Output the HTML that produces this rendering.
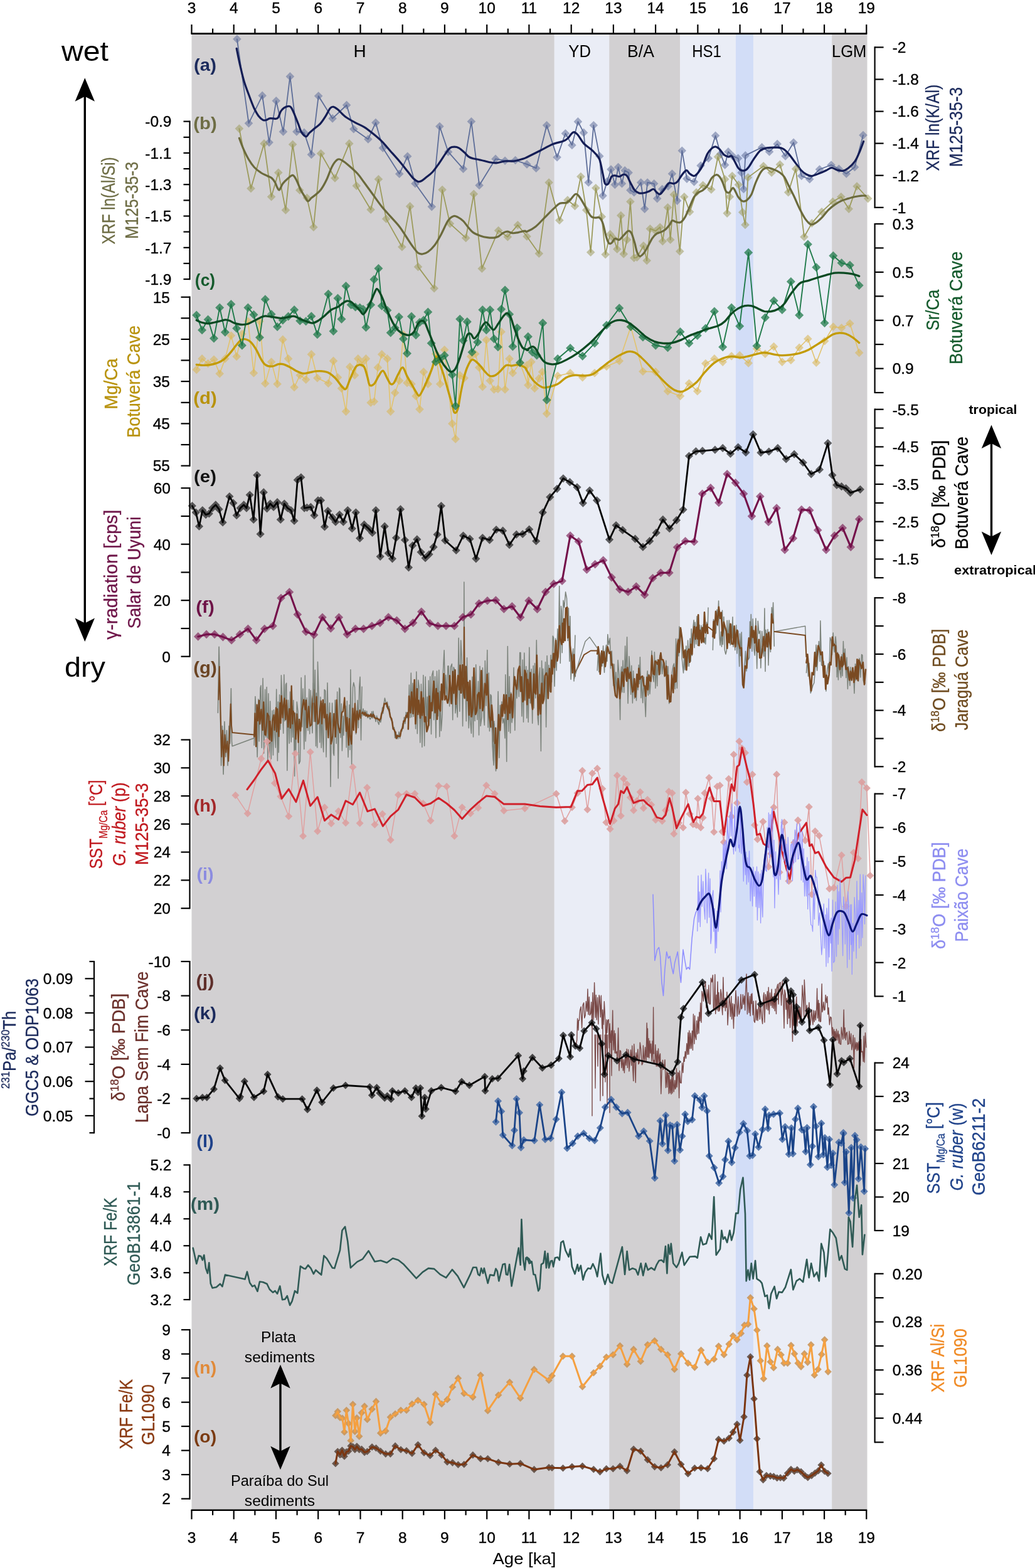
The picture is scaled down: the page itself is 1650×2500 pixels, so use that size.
<!DOCTYPE html>
<html><head><meta charset="utf-8"><title>Figure</title>
<style>
html,body{margin:0;padding:0;background:#fff;}
body{width:1650px;height:2500px;overflow:hidden;}
svg{display:block;font-family:"Liberation Sans", Arial, sans-serif;}
text{paint-order:stroke;}
.tk{stroke:#000;stroke-width:0.35px;}
</style></head>
<body>
<svg width="1650" height="2500" viewBox="0 0 1650 2500">
<rect width="1650" height="2500" fill="#fff"/>
<rect x="305.5" y="54.5" width="578.3" height="2352.5" fill="#d2d0d2"/>
<rect x="883.8" y="54.5" width="87.4" height="2352.5" fill="#eaedf6"/>
<rect x="971.2" y="54.5" width="113.0" height="2352.5" fill="#d2d0d2"/>
<rect x="1084.1" y="54.5" width="88.8" height="2352.5" fill="#eaedf6"/>
<rect x="1172.9" y="54.5" width="28.2" height="2352.5" fill="#d2ddf7"/>
<rect x="1201.1" y="54.5" width="125.1" height="2352.5" fill="#eaedf6"/>
<rect x="1326.2" y="54.5" width="56.3" height="2352.5" fill="#d2d0d2"/>
<line x1="304.5" y1="53.6" x2="1382.3" y2="53.6" stroke="#000" stroke-width="2.6"/><line x1="305.5" y1="53.6" x2="305.5" y2="39.1" stroke="#000" stroke-width="2.2"/><line x1="339.1" y1="53.6" x2="339.1" y2="45.6" stroke="#000" stroke-width="2.2"/><line x1="372.7" y1="53.6" x2="372.7" y2="39.1" stroke="#000" stroke-width="2.2"/><line x1="406.4" y1="53.6" x2="406.4" y2="45.6" stroke="#000" stroke-width="2.2"/><line x1="440.0" y1="53.6" x2="440.0" y2="39.1" stroke="#000" stroke-width="2.2"/><line x1="473.6" y1="53.6" x2="473.6" y2="45.6" stroke="#000" stroke-width="2.2"/><line x1="507.2" y1="53.6" x2="507.2" y2="39.1" stroke="#000" stroke-width="2.2"/><line x1="540.8" y1="53.6" x2="540.8" y2="45.6" stroke="#000" stroke-width="2.2"/><line x1="574.5" y1="53.6" x2="574.5" y2="39.1" stroke="#000" stroke-width="2.2"/><line x1="608.1" y1="53.6" x2="608.1" y2="45.6" stroke="#000" stroke-width="2.2"/><line x1="641.7" y1="53.6" x2="641.7" y2="39.1" stroke="#000" stroke-width="2.2"/><line x1="675.3" y1="53.6" x2="675.3" y2="45.6" stroke="#000" stroke-width="2.2"/><line x1="708.9" y1="53.6" x2="708.9" y2="39.1" stroke="#000" stroke-width="2.2"/><line x1="742.6" y1="53.6" x2="742.6" y2="45.6" stroke="#000" stroke-width="2.2"/><line x1="776.2" y1="53.6" x2="776.2" y2="39.1" stroke="#000" stroke-width="2.2"/><line x1="809.8" y1="53.6" x2="809.8" y2="45.6" stroke="#000" stroke-width="2.2"/><line x1="843.4" y1="53.6" x2="843.4" y2="39.1" stroke="#000" stroke-width="2.2"/><line x1="877.0" y1="53.6" x2="877.0" y2="45.6" stroke="#000" stroke-width="2.2"/><line x1="910.7" y1="53.6" x2="910.7" y2="39.1" stroke="#000" stroke-width="2.2"/><line x1="944.3" y1="53.6" x2="944.3" y2="45.6" stroke="#000" stroke-width="2.2"/><line x1="977.9" y1="53.6" x2="977.9" y2="39.1" stroke="#000" stroke-width="2.2"/><line x1="1011.5" y1="53.6" x2="1011.5" y2="45.6" stroke="#000" stroke-width="2.2"/><line x1="1045.1" y1="53.6" x2="1045.1" y2="39.1" stroke="#000" stroke-width="2.2"/><line x1="1078.8" y1="53.6" x2="1078.8" y2="45.6" stroke="#000" stroke-width="2.2"/><line x1="1112.4" y1="53.6" x2="1112.4" y2="39.1" stroke="#000" stroke-width="2.2"/><line x1="1146.0" y1="53.6" x2="1146.0" y2="45.6" stroke="#000" stroke-width="2.2"/><line x1="1179.6" y1="53.6" x2="1179.6" y2="39.1" stroke="#000" stroke-width="2.2"/><line x1="1213.2" y1="53.6" x2="1213.2" y2="45.6" stroke="#000" stroke-width="2.2"/><line x1="1246.9" y1="53.6" x2="1246.9" y2="39.1" stroke="#000" stroke-width="2.2"/><line x1="1280.5" y1="53.6" x2="1280.5" y2="45.6" stroke="#000" stroke-width="2.2"/><line x1="1314.1" y1="53.6" x2="1314.1" y2="39.1" stroke="#000" stroke-width="2.2"/><line x1="1347.7" y1="53.6" x2="1347.7" y2="45.6" stroke="#000" stroke-width="2.2"/><line x1="1381.3" y1="53.6" x2="1381.3" y2="39.1" stroke="#000" stroke-width="2.2"/>
<line x1="304.5" y1="2407.8" x2="1382.3" y2="2407.8" stroke="#000" stroke-width="2.6"/><line x1="305.5" y1="2407.8" x2="305.5" y2="2422.3" stroke="#000" stroke-width="2.2"/><line x1="339.1" y1="2407.8" x2="339.1" y2="2415.8" stroke="#000" stroke-width="2.2"/><line x1="372.7" y1="2407.8" x2="372.7" y2="2422.3" stroke="#000" stroke-width="2.2"/><line x1="406.4" y1="2407.8" x2="406.4" y2="2415.8" stroke="#000" stroke-width="2.2"/><line x1="440.0" y1="2407.8" x2="440.0" y2="2422.3" stroke="#000" stroke-width="2.2"/><line x1="473.6" y1="2407.8" x2="473.6" y2="2415.8" stroke="#000" stroke-width="2.2"/><line x1="507.2" y1="2407.8" x2="507.2" y2="2422.3" stroke="#000" stroke-width="2.2"/><line x1="540.8" y1="2407.8" x2="540.8" y2="2415.8" stroke="#000" stroke-width="2.2"/><line x1="574.5" y1="2407.8" x2="574.5" y2="2422.3" stroke="#000" stroke-width="2.2"/><line x1="608.1" y1="2407.8" x2="608.1" y2="2415.8" stroke="#000" stroke-width="2.2"/><line x1="641.7" y1="2407.8" x2="641.7" y2="2422.3" stroke="#000" stroke-width="2.2"/><line x1="675.3" y1="2407.8" x2="675.3" y2="2415.8" stroke="#000" stroke-width="2.2"/><line x1="708.9" y1="2407.8" x2="708.9" y2="2422.3" stroke="#000" stroke-width="2.2"/><line x1="742.6" y1="2407.8" x2="742.6" y2="2415.8" stroke="#000" stroke-width="2.2"/><line x1="776.2" y1="2407.8" x2="776.2" y2="2422.3" stroke="#000" stroke-width="2.2"/><line x1="809.8" y1="2407.8" x2="809.8" y2="2415.8" stroke="#000" stroke-width="2.2"/><line x1="843.4" y1="2407.8" x2="843.4" y2="2422.3" stroke="#000" stroke-width="2.2"/><line x1="877.0" y1="2407.8" x2="877.0" y2="2415.8" stroke="#000" stroke-width="2.2"/><line x1="910.7" y1="2407.8" x2="910.7" y2="2422.3" stroke="#000" stroke-width="2.2"/><line x1="944.3" y1="2407.8" x2="944.3" y2="2415.8" stroke="#000" stroke-width="2.2"/><line x1="977.9" y1="2407.8" x2="977.9" y2="2422.3" stroke="#000" stroke-width="2.2"/><line x1="1011.5" y1="2407.8" x2="1011.5" y2="2415.8" stroke="#000" stroke-width="2.2"/><line x1="1045.1" y1="2407.8" x2="1045.1" y2="2422.3" stroke="#000" stroke-width="2.2"/><line x1="1078.8" y1="2407.8" x2="1078.8" y2="2415.8" stroke="#000" stroke-width="2.2"/><line x1="1112.4" y1="2407.8" x2="1112.4" y2="2422.3" stroke="#000" stroke-width="2.2"/><line x1="1146.0" y1="2407.8" x2="1146.0" y2="2415.8" stroke="#000" stroke-width="2.2"/><line x1="1179.6" y1="2407.8" x2="1179.6" y2="2422.3" stroke="#000" stroke-width="2.2"/><line x1="1213.2" y1="2407.8" x2="1213.2" y2="2415.8" stroke="#000" stroke-width="2.2"/><line x1="1246.9" y1="2407.8" x2="1246.9" y2="2422.3" stroke="#000" stroke-width="2.2"/><line x1="1280.5" y1="2407.8" x2="1280.5" y2="2415.8" stroke="#000" stroke-width="2.2"/><line x1="1314.1" y1="2407.8" x2="1314.1" y2="2422.3" stroke="#000" stroke-width="2.2"/><line x1="1347.7" y1="2407.8" x2="1347.7" y2="2415.8" stroke="#000" stroke-width="2.2"/><line x1="1381.3" y1="2407.8" x2="1381.3" y2="2422.3" stroke="#000" stroke-width="2.2"/>
<text x="305.5" y="20.5" font-size="24.5" text-anchor="middle" class="tk">3</text>
<text x="305.5" y="2459.5" font-size="24.5" text-anchor="middle" class="tk">3</text>
<text x="372.7" y="20.5" font-size="24.5" text-anchor="middle" class="tk">4</text>
<text x="372.7" y="2459.5" font-size="24.5" text-anchor="middle" class="tk">4</text>
<text x="440.0" y="20.5" font-size="24.5" text-anchor="middle" class="tk">5</text>
<text x="440.0" y="2459.5" font-size="24.5" text-anchor="middle" class="tk">5</text>
<text x="507.2" y="20.5" font-size="24.5" text-anchor="middle" class="tk">6</text>
<text x="507.2" y="2459.5" font-size="24.5" text-anchor="middle" class="tk">6</text>
<text x="574.5" y="20.5" font-size="24.5" text-anchor="middle" class="tk">7</text>
<text x="574.5" y="2459.5" font-size="24.5" text-anchor="middle" class="tk">7</text>
<text x="641.7" y="20.5" font-size="24.5" text-anchor="middle" class="tk">8</text>
<text x="641.7" y="2459.5" font-size="24.5" text-anchor="middle" class="tk">8</text>
<text x="708.9" y="20.5" font-size="24.5" text-anchor="middle" class="tk">9</text>
<text x="708.9" y="2459.5" font-size="24.5" text-anchor="middle" class="tk">9</text>
<text x="776.2" y="20.5" font-size="24.5" text-anchor="middle" class="tk">10</text>
<text x="776.2" y="2459.5" font-size="24.5" text-anchor="middle" class="tk">10</text>
<text x="843.4" y="20.5" font-size="24.5" text-anchor="middle" class="tk">11</text>
<text x="843.4" y="2459.5" font-size="24.5" text-anchor="middle" class="tk">11</text>
<text x="910.7" y="20.5" font-size="24.5" text-anchor="middle" class="tk">12</text>
<text x="910.7" y="2459.5" font-size="24.5" text-anchor="middle" class="tk">12</text>
<text x="977.9" y="20.5" font-size="24.5" text-anchor="middle" class="tk">13</text>
<text x="977.9" y="2459.5" font-size="24.5" text-anchor="middle" class="tk">13</text>
<text x="1045.1" y="20.5" font-size="24.5" text-anchor="middle" class="tk">14</text>
<text x="1045.1" y="2459.5" font-size="24.5" text-anchor="middle" class="tk">14</text>
<text x="1112.4" y="20.5" font-size="24.5" text-anchor="middle" class="tk">15</text>
<text x="1112.4" y="2459.5" font-size="24.5" text-anchor="middle" class="tk">15</text>
<text x="1179.6" y="20.5" font-size="24.5" text-anchor="middle" class="tk">16</text>
<text x="1179.6" y="2459.5" font-size="24.5" text-anchor="middle" class="tk">16</text>
<text x="1246.9" y="20.5" font-size="24.5" text-anchor="middle" class="tk">17</text>
<text x="1246.9" y="2459.5" font-size="24.5" text-anchor="middle" class="tk">17</text>
<text x="1314.1" y="20.5" font-size="24.5" text-anchor="middle" class="tk">18</text>
<text x="1314.1" y="2459.5" font-size="24.5" text-anchor="middle" class="tk">18</text>
<text x="1381.3" y="20.5" font-size="24.5" text-anchor="middle" class="tk">19</text>
<text x="1381.3" y="2459.5" font-size="24.5" text-anchor="middle" class="tk">19</text>
<text x="836" y="2494" font-size="25" text-anchor="middle" textLength="101" lengthAdjust="spacingAndGlyphs">Age [ka]</text>
<text x="573.6" y="91" font-size="28" text-anchor="middle">H</text>
<text x="924.2" y="91" font-size="28" text-anchor="middle" textLength="35.7" lengthAdjust="spacingAndGlyphs">YD</text>
<text x="1021.5" y="91" font-size="28" text-anchor="middle" textLength="42.8" lengthAdjust="spacingAndGlyphs">B/A</text>
<text x="1126.5" y="91" font-size="28" text-anchor="middle" textLength="46.7" lengthAdjust="spacingAndGlyphs">HS1</text>
<text x="1353.7" y="91" font-size="28" text-anchor="middle" textLength="55.4" lengthAdjust="spacingAndGlyphs">LGM</text>
<line x1="302.5" y1="192.5" x2="302.5" y2="446.20000000000005" stroke="#000" stroke-width="2.2"/><line x1="302.5" y1="193.6" x2="292.5" y2="193.6" stroke="#000" stroke-width="2.2"/><text x="273.5" y="202.4" font-size="24.5" text-anchor="end" class="tk">-0.9</text><line x1="302.5" y1="218.8" x2="292.5" y2="218.8" stroke="#000" stroke-width="2.2"/><line x1="302.5" y1="243.9" x2="292.5" y2="243.9" stroke="#000" stroke-width="2.2"/><text x="273.5" y="252.7" font-size="24.5" text-anchor="end" class="tk">-1.1</text><line x1="302.5" y1="269.1" x2="292.5" y2="269.1" stroke="#000" stroke-width="2.2"/><line x1="302.5" y1="294.2" x2="292.5" y2="294.2" stroke="#000" stroke-width="2.2"/><text x="273.5" y="303.0" font-size="24.5" text-anchor="end" class="tk">-1.3</text><line x1="302.5" y1="319.4" x2="292.5" y2="319.4" stroke="#000" stroke-width="2.2"/><line x1="302.5" y1="344.5" x2="292.5" y2="344.5" stroke="#000" stroke-width="2.2"/><text x="273.5" y="353.3" font-size="24.5" text-anchor="end" class="tk">-1.5</text><line x1="302.5" y1="369.6" x2="292.5" y2="369.6" stroke="#000" stroke-width="2.2"/><line x1="302.5" y1="394.8" x2="292.5" y2="394.8" stroke="#000" stroke-width="2.2"/><text x="273.5" y="403.6" font-size="24.5" text-anchor="end" class="tk">-1.7</text><line x1="302.5" y1="420.0" x2="292.5" y2="420.0" stroke="#000" stroke-width="2.2"/><line x1="302.5" y1="445.1" x2="292.5" y2="445.1" stroke="#000" stroke-width="2.2"/><text x="273.5" y="453.9" font-size="24.5" text-anchor="end" class="tk">-1.9</text>
<line x1="302.5" y1="472.59999999999997" x2="302.5" y2="743.7" stroke="#000" stroke-width="2.2"/><line x1="302.5" y1="473.7" x2="288.5" y2="473.7" stroke="#000" stroke-width="2.2"/><text x="271" y="482.5" font-size="24.5" text-anchor="end" class="tk">15</text><line x1="302.5" y1="507.3" x2="288.5" y2="507.3" stroke="#000" stroke-width="2.2"/><line x1="302.5" y1="540.9" x2="288.5" y2="540.9" stroke="#000" stroke-width="2.2"/><text x="271" y="549.7" font-size="24.5" text-anchor="end" class="tk">25</text><line x1="302.5" y1="574.5" x2="288.5" y2="574.5" stroke="#000" stroke-width="2.2"/><line x1="302.5" y1="608.1" x2="288.5" y2="608.1" stroke="#000" stroke-width="2.2"/><text x="271" y="616.9" font-size="24.5" text-anchor="end" class="tk">35</text><line x1="302.5" y1="641.8" x2="288.5" y2="641.8" stroke="#000" stroke-width="2.2"/><line x1="302.5" y1="675.4" x2="288.5" y2="675.4" stroke="#000" stroke-width="2.2"/><text x="271" y="684.2" font-size="24.5" text-anchor="end" class="tk">45</text><line x1="302.5" y1="709.0" x2="288.5" y2="709.0" stroke="#000" stroke-width="2.2"/><line x1="302.5" y1="742.6" x2="288.5" y2="742.6" stroke="#000" stroke-width="2.2"/><text x="271" y="751.4" font-size="24.5" text-anchor="end" class="tk">55</text>
<line x1="302.5" y1="777.1" x2="302.5" y2="1047.8" stroke="#000" stroke-width="2.2"/><line x1="302.5" y1="778.2" x2="288.5" y2="778.2" stroke="#000" stroke-width="2.2"/><text x="272" y="787.0" font-size="24.5" text-anchor="end" class="tk">60</text><line x1="302.5" y1="823.0" x2="288.5" y2="823.0" stroke="#000" stroke-width="2.2"/><line x1="302.5" y1="867.7" x2="288.5" y2="867.7" stroke="#000" stroke-width="2.2"/><text x="272" y="876.5" font-size="24.5" text-anchor="end" class="tk">40</text><line x1="302.5" y1="912.5" x2="288.5" y2="912.5" stroke="#000" stroke-width="2.2"/><line x1="302.5" y1="957.2" x2="288.5" y2="957.2" stroke="#000" stroke-width="2.2"/><text x="272" y="966.0" font-size="24.5" text-anchor="end" class="tk">20</text><line x1="302.5" y1="1002.0" x2="288.5" y2="1002.0" stroke="#000" stroke-width="2.2"/><line x1="302.5" y1="1046.7" x2="288.5" y2="1046.7" stroke="#000" stroke-width="2.2"/><text x="272" y="1055.5" font-size="24.5" text-anchor="end" class="tk">0</text>
<line x1="302.5" y1="1178.4" x2="302.5" y2="1449.3" stroke="#000" stroke-width="2.2"/><line x1="302.5" y1="1179.5" x2="288.5" y2="1179.5" stroke="#000" stroke-width="2.2"/><text x="272" y="1188.3" font-size="24.5" text-anchor="end" class="tk">32</text><line x1="302.5" y1="1224.3" x2="288.5" y2="1224.3" stroke="#000" stroke-width="2.2"/><text x="272" y="1233.1" font-size="24.5" text-anchor="end" class="tk">30</text><line x1="302.5" y1="1269.1" x2="288.5" y2="1269.1" stroke="#000" stroke-width="2.2"/><text x="272" y="1277.9" font-size="24.5" text-anchor="end" class="tk">28</text><line x1="302.5" y1="1313.8" x2="288.5" y2="1313.8" stroke="#000" stroke-width="2.2"/><text x="272" y="1322.6" font-size="24.5" text-anchor="end" class="tk">26</text><line x1="302.5" y1="1358.6" x2="288.5" y2="1358.6" stroke="#000" stroke-width="2.2"/><text x="272" y="1367.4" font-size="24.5" text-anchor="end" class="tk">24</text><line x1="302.5" y1="1403.4" x2="288.5" y2="1403.4" stroke="#000" stroke-width="2.2"/><text x="272" y="1412.2" font-size="24.5" text-anchor="end" class="tk">22</text><line x1="302.5" y1="1448.2" x2="288.5" y2="1448.2" stroke="#000" stroke-width="2.2"/><text x="272" y="1457.0" font-size="24.5" text-anchor="end" class="tk">20</text>
<line x1="302.5" y1="1531.9" x2="302.5" y2="1807.3" stroke="#000" stroke-width="2.2"/><line x1="302.5" y1="1533.0" x2="288.5" y2="1533.0" stroke="#000" stroke-width="2.2"/><text x="272" y="1541.8" font-size="24.5" text-anchor="end" class="tk">-10</text><line x1="302.5" y1="1587.6" x2="288.5" y2="1587.6" stroke="#000" stroke-width="2.2"/><text x="272" y="1596.4" font-size="24.5" text-anchor="end" class="tk">-8</text><line x1="302.5" y1="1642.3" x2="288.5" y2="1642.3" stroke="#000" stroke-width="2.2"/><text x="272" y="1651.1" font-size="24.5" text-anchor="end" class="tk">-6</text><line x1="302.5" y1="1696.9" x2="288.5" y2="1696.9" stroke="#000" stroke-width="2.2"/><text x="272" y="1705.7" font-size="24.5" text-anchor="end" class="tk">-4</text><line x1="302.5" y1="1751.6" x2="288.5" y2="1751.6" stroke="#000" stroke-width="2.2"/><text x="272" y="1760.4" font-size="24.5" text-anchor="end" class="tk">-2</text><line x1="302.5" y1="1806.2" x2="288.5" y2="1806.2" stroke="#000" stroke-width="2.2"/><text x="272" y="1815.0" font-size="24.5" text-anchor="end" class="tk">-0</text>
<line x1="150" y1="1531.9" x2="150" y2="1807.3" stroke="#000" stroke-width="2.2"/><line x1="150" y1="1533.0" x2="142.5" y2="1533.0" stroke="#000" stroke-width="2.2"/><line x1="150" y1="1560.3" x2="135.5" y2="1560.3" stroke="#000" stroke-width="2.2"/><text x="116.5" y="1569.1" font-size="24.5" text-anchor="end" class="tk">0.09</text><line x1="150" y1="1587.6" x2="142.5" y2="1587.6" stroke="#000" stroke-width="2.2"/><line x1="150" y1="1615.0" x2="135.5" y2="1615.0" stroke="#000" stroke-width="2.2"/><text x="116.5" y="1623.8" font-size="24.5" text-anchor="end" class="tk">0.08</text><line x1="150" y1="1642.3" x2="142.5" y2="1642.3" stroke="#000" stroke-width="2.2"/><line x1="150" y1="1669.6" x2="135.5" y2="1669.6" stroke="#000" stroke-width="2.2"/><text x="116.5" y="1678.4" font-size="24.5" text-anchor="end" class="tk">0.07</text><line x1="150" y1="1696.9" x2="142.5" y2="1696.9" stroke="#000" stroke-width="2.2"/><line x1="150" y1="1724.2" x2="135.5" y2="1724.2" stroke="#000" stroke-width="2.2"/><text x="116.5" y="1733.0" font-size="24.5" text-anchor="end" class="tk">0.06</text><line x1="150" y1="1751.6" x2="142.5" y2="1751.6" stroke="#000" stroke-width="2.2"/><line x1="150" y1="1778.9" x2="135.5" y2="1778.9" stroke="#000" stroke-width="2.2"/><text x="116.5" y="1787.7" font-size="24.5" text-anchor="end" class="tk">0.05</text><line x1="150" y1="1806.2" x2="142.5" y2="1806.2" stroke="#000" stroke-width="2.2"/>
<line x1="302.5" y1="1856.3000000000002" x2="302.5" y2="2073.2" stroke="#000" stroke-width="2.2"/><line x1="302.5" y1="1857.4" x2="292.5" y2="1857.4" stroke="#000" stroke-width="2.2"/><text x="273.5" y="1866.2" font-size="24.5" text-anchor="end" class="tk">5.2</text><line x1="302.5" y1="1900.3" x2="292.5" y2="1900.3" stroke="#000" stroke-width="2.2"/><text x="273.5" y="1909.1" font-size="24.5" text-anchor="end" class="tk">4.8</text><line x1="302.5" y1="1943.3" x2="292.5" y2="1943.3" stroke="#000" stroke-width="2.2"/><text x="273.5" y="1952.1" font-size="24.5" text-anchor="end" class="tk">4.4</text><line x1="302.5" y1="1986.2" x2="292.5" y2="1986.2" stroke="#000" stroke-width="2.2"/><text x="273.5" y="1995.0" font-size="24.5" text-anchor="end" class="tk">4.0</text><line x1="302.5" y1="2029.2" x2="292.5" y2="2029.2" stroke="#000" stroke-width="2.2"/><text x="273.5" y="2038.0" font-size="24.5" text-anchor="end" class="tk">3.6</text><line x1="302.5" y1="2072.1" x2="292.5" y2="2072.1" stroke="#000" stroke-width="2.2"/><text x="273.5" y="2080.9" font-size="24.5" text-anchor="end" class="tk">3.2</text>
<line x1="302.5" y1="2119.1" x2="302.5" y2="2390.7" stroke="#000" stroke-width="2.2"/><line x1="302.5" y1="2120.2" x2="289.0" y2="2120.2" stroke="#000" stroke-width="2.2"/><text x="272" y="2129.0" font-size="24.5" text-anchor="end" class="tk">9</text><line x1="302.5" y1="2158.7" x2="289.0" y2="2158.7" stroke="#000" stroke-width="2.2"/><text x="272" y="2167.5" font-size="24.5" text-anchor="end" class="tk">8</text><line x1="302.5" y1="2197.2" x2="289.0" y2="2197.2" stroke="#000" stroke-width="2.2"/><text x="272" y="2206.0" font-size="24.5" text-anchor="end" class="tk">7</text><line x1="302.5" y1="2235.7" x2="289.0" y2="2235.7" stroke="#000" stroke-width="2.2"/><text x="272" y="2244.5" font-size="24.5" text-anchor="end" class="tk">6</text><line x1="302.5" y1="2274.1" x2="289.0" y2="2274.1" stroke="#000" stroke-width="2.2"/><text x="272" y="2282.9" font-size="24.5" text-anchor="end" class="tk">5</text><line x1="302.5" y1="2312.6" x2="289.0" y2="2312.6" stroke="#000" stroke-width="2.2"/><text x="272" y="2321.4" font-size="24.5" text-anchor="end" class="tk">4</text><line x1="302.5" y1="2351.1" x2="289.0" y2="2351.1" stroke="#000" stroke-width="2.2"/><text x="272" y="2359.9" font-size="24.5" text-anchor="end" class="tk">3</text><line x1="302.5" y1="2389.6" x2="289.0" y2="2389.6" stroke="#000" stroke-width="2.2"/><text x="272" y="2398.4" font-size="24.5" text-anchor="end" class="tk">2</text>
<line x1="1394.6" y1="74.30000000000001" x2="1394.6" y2="331.90000000000003" stroke="#000" stroke-width="2.2"/><line x1="1394.6" y1="75.4" x2="1408.6" y2="75.4" stroke="#000" stroke-width="2.2"/><text x="1422.7" y="84.2" font-size="24.5" class="tk">-2</text><line x1="1394.6" y1="126.5" x2="1408.6" y2="126.5" stroke="#000" stroke-width="2.2"/><text x="1422.7" y="135.3" font-size="24.5" class="tk">-1.8</text><line x1="1394.6" y1="177.6" x2="1408.6" y2="177.6" stroke="#000" stroke-width="2.2"/><text x="1422.7" y="186.4" font-size="24.5" class="tk">-1.6</text><line x1="1394.6" y1="228.6" x2="1408.6" y2="228.6" stroke="#000" stroke-width="2.2"/><text x="1422.7" y="237.4" font-size="24.5" class="tk">-1.4</text><line x1="1394.6" y1="279.7" x2="1408.6" y2="279.7" stroke="#000" stroke-width="2.2"/><text x="1422.7" y="288.5" font-size="24.5" class="tk">-1.2</text><line x1="1394.6" y1="330.8" x2="1408.6" y2="330.8" stroke="#000" stroke-width="2.2"/><text x="1422.7" y="339.6" font-size="24.5" class="tk">-1</text>
<line x1="1394.6" y1="355.9" x2="1394.6" y2="627.1" stroke="#000" stroke-width="2.2"/><line x1="1394.6" y1="357.0" x2="1408.6" y2="357.0" stroke="#000" stroke-width="2.2"/><text x="1422.7" y="365.8" font-size="24.5" class="tk">0.3</text><line x1="1394.6" y1="395.4" x2="1408.6" y2="395.4" stroke="#000" stroke-width="2.2"/><line x1="1394.6" y1="433.9" x2="1408.6" y2="433.9" stroke="#000" stroke-width="2.2"/><text x="1422.7" y="442.7" font-size="24.5" class="tk">0.5</text><line x1="1394.6" y1="472.3" x2="1408.6" y2="472.3" stroke="#000" stroke-width="2.2"/><line x1="1394.6" y1="510.7" x2="1408.6" y2="510.7" stroke="#000" stroke-width="2.2"/><text x="1422.7" y="519.5" font-size="24.5" class="tk">0.7</text><line x1="1394.6" y1="549.1" x2="1408.6" y2="549.1" stroke="#000" stroke-width="2.2"/><line x1="1394.6" y1="587.6" x2="1408.6" y2="587.6" stroke="#000" stroke-width="2.2"/><text x="1422.7" y="596.4" font-size="24.5" class="tk">0.9</text><line x1="1394.6" y1="626.0" x2="1408.6" y2="626.0" stroke="#000" stroke-width="2.2"/>
<line x1="1394.6" y1="651.6" x2="1394.6" y2="922.3000000000001" stroke="#000" stroke-width="2.2"/><line x1="1394.6" y1="652.7" x2="1408.6" y2="652.7" stroke="#000" stroke-width="2.2"/><text x="1422.7" y="661.5" font-size="24.5" class="tk">-5.5</text><line x1="1394.6" y1="682.5" x2="1408.6" y2="682.5" stroke="#000" stroke-width="2.2"/><line x1="1394.6" y1="712.4" x2="1408.6" y2="712.4" stroke="#000" stroke-width="2.2"/><text x="1422.7" y="721.2" font-size="24.5" class="tk">-4.5</text><line x1="1394.6" y1="742.2" x2="1408.6" y2="742.2" stroke="#000" stroke-width="2.2"/><line x1="1394.6" y1="772.0" x2="1408.6" y2="772.0" stroke="#000" stroke-width="2.2"/><text x="1422.7" y="780.8" font-size="24.5" class="tk">-3.5</text><line x1="1394.6" y1="801.9" x2="1408.6" y2="801.9" stroke="#000" stroke-width="2.2"/><line x1="1394.6" y1="831.7" x2="1408.6" y2="831.7" stroke="#000" stroke-width="2.2"/><text x="1422.7" y="840.5" font-size="24.5" class="tk">-2.5</text><line x1="1394.6" y1="861.5" x2="1408.6" y2="861.5" stroke="#000" stroke-width="2.2"/><line x1="1394.6" y1="891.4" x2="1408.6" y2="891.4" stroke="#000" stroke-width="2.2"/><text x="1422.7" y="900.2" font-size="24.5" class="tk">-1.5</text><line x1="1394.6" y1="921.2" x2="1408.6" y2="921.2" stroke="#000" stroke-width="2.2"/>
<line x1="1394.6" y1="952.1" x2="1394.6" y2="1223.3999999999999" stroke="#000" stroke-width="2.2"/><line x1="1394.6" y1="953.2" x2="1408.6" y2="953.2" stroke="#000" stroke-width="2.2"/><text x="1422.7" y="962.0" font-size="24.5" class="tk">-8</text><line x1="1394.6" y1="998.1" x2="1408.6" y2="998.1" stroke="#000" stroke-width="2.2"/><line x1="1394.6" y1="1042.9" x2="1408.6" y2="1042.9" stroke="#000" stroke-width="2.2"/><text x="1422.7" y="1051.7" font-size="24.5" class="tk">-6</text><line x1="1394.6" y1="1087.8" x2="1408.6" y2="1087.8" stroke="#000" stroke-width="2.2"/><line x1="1394.6" y1="1132.6" x2="1408.6" y2="1132.6" stroke="#000" stroke-width="2.2"/><text x="1422.7" y="1141.4" font-size="24.5" class="tk">-4</text><line x1="1394.6" y1="1177.5" x2="1408.6" y2="1177.5" stroke="#000" stroke-width="2.2"/><line x1="1394.6" y1="1222.3" x2="1408.6" y2="1222.3" stroke="#000" stroke-width="2.2"/><text x="1422.7" y="1231.1" font-size="24.5" class="tk">-2</text>
<line x1="1394.6" y1="1264.5" x2="1394.6" y2="1589.6" stroke="#000" stroke-width="2.2"/><line x1="1394.6" y1="1265.6" x2="1408.6" y2="1265.6" stroke="#000" stroke-width="2.2"/><text x="1422.7" y="1274.4" font-size="24.5" class="tk">-7</text><line x1="1394.6" y1="1319.4" x2="1408.6" y2="1319.4" stroke="#000" stroke-width="2.2"/><text x="1422.7" y="1328.2" font-size="24.5" class="tk">-6</text><line x1="1394.6" y1="1373.2" x2="1408.6" y2="1373.2" stroke="#000" stroke-width="2.2"/><text x="1422.7" y="1382.0" font-size="24.5" class="tk">-5</text><line x1="1394.6" y1="1427.0" x2="1408.6" y2="1427.0" stroke="#000" stroke-width="2.2"/><text x="1422.7" y="1435.8" font-size="24.5" class="tk">-4</text><line x1="1394.6" y1="1480.9" x2="1408.6" y2="1480.9" stroke="#000" stroke-width="2.2"/><text x="1422.7" y="1489.7" font-size="24.5" class="tk">-3</text><line x1="1394.6" y1="1534.7" x2="1408.6" y2="1534.7" stroke="#000" stroke-width="2.2"/><text x="1422.7" y="1543.5" font-size="24.5" class="tk">-2</text><line x1="1394.6" y1="1588.5" x2="1408.6" y2="1588.5" stroke="#000" stroke-width="2.2"/><text x="1422.7" y="1597.3" font-size="24.5" class="tk">-1</text>
<line x1="1394.6" y1="1693.5" x2="1394.6" y2="1963.1" stroke="#000" stroke-width="2.2"/><line x1="1394.6" y1="1694.6" x2="1408.6" y2="1694.6" stroke="#000" stroke-width="2.2"/><text x="1422.7" y="1703.4" font-size="24.5" class="tk">24</text><line x1="1394.6" y1="1748.1" x2="1408.6" y2="1748.1" stroke="#000" stroke-width="2.2"/><text x="1422.7" y="1756.9" font-size="24.5" class="tk">23</text><line x1="1394.6" y1="1801.6" x2="1408.6" y2="1801.6" stroke="#000" stroke-width="2.2"/><text x="1422.7" y="1810.4" font-size="24.5" class="tk">22</text><line x1="1394.6" y1="1855.0" x2="1408.6" y2="1855.0" stroke="#000" stroke-width="2.2"/><text x="1422.7" y="1863.8" font-size="24.5" class="tk">21</text><line x1="1394.6" y1="1908.5" x2="1408.6" y2="1908.5" stroke="#000" stroke-width="2.2"/><text x="1422.7" y="1917.3" font-size="24.5" class="tk">20</text><line x1="1394.6" y1="1962.0" x2="1408.6" y2="1962.0" stroke="#000" stroke-width="2.2"/><text x="1422.7" y="1970.8" font-size="24.5" class="tk">19</text>
<line x1="1394.6" y1="2029.7" x2="1394.6" y2="2300.6" stroke="#000" stroke-width="2.2"/><line x1="1394.6" y1="2030.8" x2="1408.6" y2="2030.8" stroke="#000" stroke-width="2.2"/><text x="1422.7" y="2039.6" font-size="24.5" class="tk">0.20</text><line x1="1394.6" y1="2069.2" x2="1408.6" y2="2069.2" stroke="#000" stroke-width="2.2"/><line x1="1394.6" y1="2107.6" x2="1408.6" y2="2107.6" stroke="#000" stroke-width="2.2"/><text x="1422.7" y="2116.4" font-size="24.5" class="tk">0.28</text><line x1="1394.6" y1="2146.0" x2="1408.6" y2="2146.0" stroke="#000" stroke-width="2.2"/><line x1="1394.6" y1="2184.3" x2="1408.6" y2="2184.3" stroke="#000" stroke-width="2.2"/><text x="1422.7" y="2193.1" font-size="24.5" class="tk">0.36</text><line x1="1394.6" y1="2222.7" x2="1408.6" y2="2222.7" stroke="#000" stroke-width="2.2"/><line x1="1394.6" y1="2261.1" x2="1408.6" y2="2261.1" stroke="#000" stroke-width="2.2"/><text x="1422.7" y="2269.9" font-size="24.5" class="tk">0.44</text><line x1="1394.6" y1="2299.5" x2="1408.6" y2="2299.5" stroke="#000" stroke-width="2.2"/>
<text transform="translate(183,320) rotate(-90)" text-anchor="middle" font-size="29" fill="#6e6d45" stroke="#6e6d45" stroke-width="0.3" textLength="139" lengthAdjust="spacingAndGlyphs">XRF ln(Al/Si)</text>
<text transform="translate(220,319.4) rotate(-90)" text-anchor="middle" font-size="29" fill="#6e6d45" stroke="#6e6d45" stroke-width="0.3" textLength="123" lengthAdjust="spacingAndGlyphs">M125-35-3</text>
<text transform="translate(187,612) rotate(-90)" text-anchor="middle" font-size="29" fill="#b8920c" stroke="#b8920c" stroke-width="0.3" textLength="81" lengthAdjust="spacingAndGlyphs">Mg/Ca</text>
<text transform="translate(223,608.4) rotate(-90)" text-anchor="middle" font-size="29" fill="#b8920c" stroke="#b8920c" stroke-width="0.3" textLength="179" lengthAdjust="spacingAndGlyphs">Botuverá Cave</text>
<text transform="translate(187,916.2) rotate(-90)" text-anchor="middle" font-size="29" fill="#6e1448" stroke="#6e1448" stroke-width="0.3" textLength="207" lengthAdjust="spacingAndGlyphs">γ-radiation [cps]</text>
<text transform="translate(223.7,913) rotate(-90)" text-anchor="middle" font-size="29" fill="#6e1448" stroke="#6e1448" stroke-width="0.3" textLength="178.4" lengthAdjust="spacingAndGlyphs">Salar de Uyuni</text>
<text transform="translate(162.8,1314.3) rotate(-90)" text-anchor="middle" font-size="29" fill="#c0181e" stroke="#c0181e" stroke-width="0.3" textLength="142" lengthAdjust="spacingAndGlyphs">SST<tspan font-size="18" dy="8">Mg/Ca</tspan><tspan dy="-8"> [°C]</tspan></text>
<text transform="translate(199.7,1314) rotate(-90)" text-anchor="middle" font-size="29" fill="#c0181e" stroke="#c0181e" stroke-width="0.3" textLength="133.3" lengthAdjust="spacingAndGlyphs"><tspan font-style="italic">G. ruber</tspan> (p)</text>
<text transform="translate(236,1313.8) rotate(-90)" text-anchor="middle" font-size="29" fill="#c0181e" stroke="#c0181e" stroke-width="0.3" textLength="130.8" lengthAdjust="spacingAndGlyphs">M125-35-3</text>
<text transform="translate(24.7,1673.9) rotate(-90)" text-anchor="middle" font-size="29" fill="#1b2a5c" stroke="#1b2a5c" stroke-width="0.3" textLength="124.3" lengthAdjust="spacingAndGlyphs"><tspan font-size="19" dy="-10">231</tspan><tspan dy="10">Pa/</tspan><tspan font-size="19" dy="-10">230</tspan><tspan dy="10">Th</tspan></text>
<text transform="translate(61.4,1669.9) rotate(-90)" text-anchor="middle" font-size="29" fill="#1b2a5c" stroke="#1b2a5c" stroke-width="0.3" textLength="220" lengthAdjust="spacingAndGlyphs">GGC5 &amp; ODP1063</text>
<text transform="translate(199.3,1669.9) rotate(-90)" text-anchor="middle" font-size="29" fill="#6b2f2a" stroke="#6b2f2a" stroke-width="0.3" textLength="172.2" lengthAdjust="spacingAndGlyphs">δ<tspan font-size="19" dy="-10">18</tspan><tspan dy="10">O [‰ PDB]</tspan></text>
<text transform="translate(236,1669.5) rotate(-90)" text-anchor="middle" font-size="29" fill="#6b2f2a" stroke="#6b2f2a" stroke-width="0.3" textLength="241.5" lengthAdjust="spacingAndGlyphs">Lapa Sem Fim Cave</text>
<text transform="translate(186.3,1964) rotate(-90)" text-anchor="middle" font-size="29" fill="#2f5a55" stroke="#2f5a55" stroke-width="0.3" textLength="109.5" lengthAdjust="spacingAndGlyphs">XRF Fe/K</text>
<text transform="translate(223,1966.7) rotate(-90)" text-anchor="middle" font-size="29" fill="#2f5a55" stroke="#2f5a55" stroke-width="0.3" textLength="165.4" lengthAdjust="spacingAndGlyphs">GeoB13861-1</text>
<text transform="translate(210.5,2254.7) rotate(-90)" text-anchor="middle" font-size="29" fill="#8a3a12" stroke="#8a3a12" stroke-width="0.3" textLength="111.5" lengthAdjust="spacingAndGlyphs">XRF Fe/K</text>
<text transform="translate(246,2255.5) rotate(-90)" text-anchor="middle" font-size="29" fill="#8a3a12" stroke="#8a3a12" stroke-width="0.3" textLength="97" lengthAdjust="spacingAndGlyphs">GL1090</text>
<text transform="translate(1496.8,203.6) rotate(-90)" text-anchor="middle" font-size="29" fill="#1b2a5c" stroke="#1b2a5c" stroke-width="0.3" textLength="137.8" lengthAdjust="spacingAndGlyphs">XRF ln(K/Al)</text>
<text transform="translate(1533.6,202.6) rotate(-90)" text-anchor="middle" font-size="29" fill="#1b2a5c" stroke="#1b2a5c" stroke-width="0.3" textLength="127.3" lengthAdjust="spacingAndGlyphs">M125-35-3</text>
<text transform="translate(1496.8,494.5) rotate(-90)" text-anchor="middle" font-size="29" fill="#145a2c" stroke="#145a2c" stroke-width="0.3" textLength="65.2" lengthAdjust="spacingAndGlyphs">Sr/Ca</text>
<text transform="translate(1533.6,490.9) rotate(-90)" text-anchor="middle" font-size="29" fill="#145a2c" stroke="#145a2c" stroke-width="0.3" textLength="180" lengthAdjust="spacingAndGlyphs">Botuverá Cave</text>
<text transform="translate(1506.7,787.8) rotate(-90)" text-anchor="middle" font-size="29" fill="#000" stroke="#000" stroke-width="0.3" textLength="171.8" lengthAdjust="spacingAndGlyphs">δ<tspan font-size="19" dy="-10">18</tspan><tspan dy="10">O [‰ PDB]</tspan></text>
<text transform="translate(1543.4,786) rotate(-90)" text-anchor="middle" font-size="29" fill="#000" stroke="#000" stroke-width="0.3" textLength="180" lengthAdjust="spacingAndGlyphs">Botuverá Cave</text>
<text transform="translate(1506.7,1084.7) rotate(-90)" text-anchor="middle" font-size="29" fill="#6e4a1e" stroke="#6e4a1e" stroke-width="0.3" textLength="164" lengthAdjust="spacingAndGlyphs">δ<tspan font-size="19" dy="-10">18</tspan><tspan dy="10">O [‰ PDB]</tspan></text>
<text transform="translate(1543.4,1084) rotate(-90)" text-anchor="middle" font-size="29" fill="#6e4a1e" stroke="#6e4a1e" stroke-width="0.3" textLength="160.5" lengthAdjust="spacingAndGlyphs">Jaraguá Cave</text>
<text transform="translate(1506.7,1427.9) rotate(-90)" text-anchor="middle" font-size="29" fill="#8c8cf0" stroke="#8c8cf0" stroke-width="0.3" textLength="170.6" lengthAdjust="spacingAndGlyphs">δ<tspan font-size="19" dy="-10">18</tspan><tspan dy="10">O [‰ PDB]</tspan></text>
<text transform="translate(1543.4,1427.3) rotate(-90)" text-anchor="middle" font-size="29" fill="#8c8cf0" stroke="#8c8cf0" stroke-width="0.3" textLength="149" lengthAdjust="spacingAndGlyphs">Paixão Cave</text>
<text transform="translate(1497.9,1830.3) rotate(-90)" text-anchor="middle" font-size="29" fill="#1f428a" stroke="#1f428a" stroke-width="0.3" textLength="146.5" lengthAdjust="spacingAndGlyphs">SST<tspan font-size="18" dy="8">Mg/Ca</tspan><tspan dy="-8"> [°C]</tspan></text>
<text transform="translate(1534.5,1828.4) rotate(-90)" text-anchor="middle" font-size="29" fill="#1f428a" stroke="#1f428a" stroke-width="0.3" textLength="140" lengthAdjust="spacingAndGlyphs"><tspan font-style="italic">G. ruber</tspan> (w)</text>
<text transform="translate(1570,1828.4) rotate(-90)" text-anchor="middle" font-size="29" fill="#1f428a" stroke="#1f428a" stroke-width="0.3" textLength="155" lengthAdjust="spacingAndGlyphs">GeoB6211-2</text>
<text transform="translate(1504.6,2165.4) rotate(-90)" text-anchor="middle" font-size="29" fill="#f08a24" stroke="#f08a24" stroke-width="0.3" textLength="109.4" lengthAdjust="spacingAndGlyphs">XRF Al/Si</text>
<text transform="translate(1541.4,2165.4) rotate(-90)" text-anchor="middle" font-size="29" fill="#f08a24" stroke="#f08a24" stroke-width="0.3" textLength="94" lengthAdjust="spacingAndGlyphs">GL1090</text>
<text x="327" y="113.4" font-size="27.5" font-weight="bold" text-anchor="middle" fill="#1b2a5c" textLength="35.8" lengthAdjust="spacingAndGlyphs">(a)</text>
<text x="327" y="206.3" font-size="27.5" font-weight="bold" text-anchor="middle" fill="#6e6d45" textLength="37.5" lengthAdjust="spacingAndGlyphs">(b)</text>
<text x="327" y="456.3" font-size="27.5" font-weight="bold" text-anchor="middle" fill="#145a2c" textLength="32.3" lengthAdjust="spacingAndGlyphs">(c)</text>
<text x="327" y="644.1" font-size="27.5" font-weight="bold" text-anchor="middle" fill="#b8920c" textLength="37.5" lengthAdjust="spacingAndGlyphs">(d)</text>
<text x="327" y="769.1" font-size="27.5" font-weight="bold" text-anchor="middle" fill="#111" textLength="35.8" lengthAdjust="spacingAndGlyphs">(e)</text>
<text x="327" y="977.4" font-size="27.5" font-weight="bold" text-anchor="middle" fill="#6e1448" textLength="29.5" lengthAdjust="spacingAndGlyphs">(f)</text>
<text x="327" y="1073.9" font-size="27.5" font-weight="bold" text-anchor="middle" fill="#6b4423" textLength="37.5" lengthAdjust="spacingAndGlyphs">(g)</text>
<text x="327" y="1294.2" font-size="27.5" font-weight="bold" text-anchor="middle" fill="#a3282a" textLength="36.9" lengthAdjust="spacingAndGlyphs">(h)</text>
<text x="327" y="1403.0" font-size="27.5" font-weight="bold" text-anchor="middle" fill="#8c8ce0" textLength="27.1" lengthAdjust="spacingAndGlyphs">(i)</text>
<text x="327" y="1573.4" font-size="27.5" font-weight="bold" text-anchor="middle" fill="#5e2e2a" textLength="28.8" lengthAdjust="spacingAndGlyphs">(j)</text>
<text x="327" y="1625.2" font-size="27.5" font-weight="bold" text-anchor="middle" fill="#1b2a5c" textLength="35.8" lengthAdjust="spacingAndGlyphs">(k)</text>
<text x="327" y="1828.9" font-size="27.5" font-weight="bold" text-anchor="middle" fill="#1f428a" textLength="27.5" lengthAdjust="spacingAndGlyphs">(l)</text>
<text x="327" y="1928.5" font-size="27.5" font-weight="bold" text-anchor="middle" fill="#2f5a55" textLength="46.3" lengthAdjust="spacingAndGlyphs">(m)</text>
<text x="327" y="2189.5" font-size="27.5" font-weight="bold" text-anchor="middle" fill="#e08a3a" textLength="36.2" lengthAdjust="spacingAndGlyphs">(n)</text>
<text x="327" y="2299.5" font-size="27.5" font-weight="bold" text-anchor="middle" fill="#7a3a12" textLength="36.2" lengthAdjust="spacingAndGlyphs">(o)</text>
<line x1="135.3" y1="147.8" x2="135.3" y2="999.5" stroke="#000" stroke-width="3.4"/><path d="M135.3,124.2 L151.0,161.8 L135.3,153.8 L119.60000000000001,161.8 Z" fill="#000"/><path d="M135.3,1023.1 L151.0,985.5 L135.3,993.5 L119.60000000000001,985.5 Z" fill="#000"/>
<text x="135.5" y="97" font-size="44" text-anchor="middle" textLength="75" lengthAdjust="spacingAndGlyphs">wet</text>
<text x="135.5" y="1079" font-size="44" text-anchor="middle" textLength="65" lengthAdjust="spacingAndGlyphs">dry</text>
<line x1="1580.5" y1="701.0" x2="1580.5" y2="861.4" stroke="#000" stroke-width="3.4"/><path d="M1580.5,677.4 L1596.2,715.0 L1580.5,707.0 L1564.8,715.0 Z" fill="#000"/><path d="M1580.5,885 L1596.2,847.4 L1580.5,855.4 L1564.8,847.4 Z" fill="#000"/>
<text x="1583" y="660" font-size="20" font-weight="bold" text-anchor="middle" textLength="77" lengthAdjust="spacingAndGlyphs">tropical</text>
<text x="1521" y="915.5" font-size="20" font-weight="bold" textLength="131" lengthAdjust="spacingAndGlyphs">extratropical</text>
<line x1="447" y1="2199.4" x2="447" y2="2319.7000000000003" stroke="#000" stroke-width="3.4"/><path d="M447,2175.8 L462.7,2213.4 L447,2205.4 L431.3,2213.4 Z" fill="#000"/><path d="M447,2343.3 L462.7,2305.7000000000003 L447,2313.7000000000003 L431.3,2305.7000000000003 Z" fill="#000"/>
<text x="444" y="2140" font-size="24.5" text-anchor="middle">Plata</text>
<text x="446" y="2171.6" font-size="24.5" text-anchor="middle" textLength="112.4" lengthAdjust="spacingAndGlyphs">sediments</text>
<text x="446" y="2369.4" font-size="24.5" text-anchor="middle" textLength="156" lengthAdjust="spacingAndGlyphs">Paraíba do Sul</text>
<text x="446" y="2401" font-size="24.5" text-anchor="middle" textLength="112.4" lengthAdjust="spacingAndGlyphs">sediments</text>
<path d="M347.4,1136.4 L349.1,1031.2 L350.9,1115.4 L352.6,1220.6 L354.4,1157.5 L356.1,1234.6 L357.9,1150.5 L359.6,1206.6 L361.4,1164.5 L363.1,1220.6 L364.9,1157.5 L366.6,1185.5 L368.4,1097.8 L369.5,1182.0 L370.2,1189.7 L405.2,1176.8" fill="none" stroke="#7c837b" stroke-width="1.6" stroke-linejoin="round" stroke-linecap="round"/>
<path d="M405.2,1188.3 L406.9,1110.4 L408.3,1137.3 L410.2,1207.0 L411.9,1114.8 L413.1,1181.9 L415.0,1097.0 L416.0,1093.0 L417.3,1192.2 L419.1,1081.4 L420.7,1201.0 L422.6,1099.3 L424.0,1175.4 L425.2,1095.5 L426.9,1212.4 L428.0,1105.7 L429.7,1206.9 L430.7,1118.0 L432.4,1209.9 L433.9,1132.9 L435.5,1203.9 L436.4,1131.8 L438.0,1169.6 L439.3,1192.0 L440.7,1099.1 L442.4,1213.1 L443.3,1119.0 L444.3,1199.8 L445.6,1107.8 L447.1,1163.3 L448.4,1076.8 L449.7,1110.7 L451.7,1169.2 L452.8,1075.7 L453.9,1149.7 L455.5,1091.6 L456.7,1089.1 L457.8,1228.6 L459.5,1116.3 L461.2,1185.2 L462.5,1103.0 L464.2,1183.1 L465.8,1125.5 L466.8,1175.4 L467.8,1116.5 L469.6,1237.5 L470.7,1136.8 L471.6,1198.7 L473.3,1119.0 L475.0,1134.5 L476.7,1217.8 L478.5,1213.8 L480.2,1080.6 L481.6,1159.1 L483.0,1097.9 L484.8,1194.5 L486.3,1076.9 L487.2,1182.0 L488.0,1164.4 L489.2,1112.5 L491.1,1164.8 L492.8,1098.8 L493.7,1170.0 L495.3,1100.8 L497.1,1151.9 L498.0,1168.7 L499.4,1089.3 L500.5,1150.4 L502.3,1068.2 L503.5,1189.6 L504.4,1105.0 L505.7,1192.0 L506.5,1055.2 L508.2,1111.6 L509.7,1183.8 L511.0,1111.3 L512.2,1192.3 L513.6,1121.2 L514.6,1182.7 L515.7,1199.0 L517.2,1099.5 L518.8,1101.5 L520.0,1207.1 L522.0,1088.8 L523.6,1172.6 L525.5,1120.8 L527.0,1254.2 L528.0,1177.3 L529.6,1120.9 L531.5,1200.9 L532.5,1204.5 L534.2,1116.3 L535.1,1129.9 L536.2,1185.6 L537.7,1102.9 L539.2,1240.9 L540.8,1096.8 L541.8,1098.8 L543.1,1176.0 L544.4,1122.0 L545.4,1197.1 L547.1,1141.8 L547.9,1172.5 L549.3,1135.3 L551.0,1125.4 L552.2,1191.8 L553.3,1117.7 L555.0,1207.2 L556.9,1123.7 L557.8,1195.5 L558.9,1067.8 L560.6,1218.4 L562.5,1096.2 L563.7,1088.3 L565.5,1095.7 L567.4,1170.4 L568.5,1163.0 L569.9,1116.5 L571.3,1160.4 L572.8,1094.7 L574.0,1079.3 L575.5,1179.9 L577.0,1095.0" fill="none" stroke="#7c837b" stroke-width="1.5" stroke-linejoin="round" stroke-linecap="round"/>
<path d="M577.1,1141.7 L579.0,1129.9 L580.6,1141.2 L581.8,1132.7 L583.7,1141.8 L584.6,1133.7 L586.0,1144.6 L587.3,1138.6 L588.5,1143.8 L590.1,1146.9 L591.4,1144.8 L592.7,1134.6 L594.0,1145.1 L594.9,1134.1 L596.4,1144.2 L597.4,1140.7 L599.0,1150.6 L600.6,1141.2 L602.4,1151.3 L604.0,1155.3 L604.9,1148.4 L606.8,1151.6 L607.8,1147.0 L609.6,1128.0 L610.6,1137.6 L612.4,1119.8 L613.4,1113.0 L614.7,1118.3 L616.3,1127.4 L617.4,1119.0 L619.3,1133.1 L620.3,1125.9 L621.5,1136.3 L623.3,1147.5 L625.1,1148.5 L626.8,1162.7 L628.4,1159.7 L629.6,1176.5 L631.2,1166.9 L632.1,1177.7 L633.1,1171.8 L634.4,1178.0 L636.0,1166.8 L637.6,1177.1 L639.0,1165.7 L640.7,1165.8 L642.0,1153.8 L642.9,1161.6 L644.3,1143.5 L645.9,1153.8 L647.3,1135.5 L648.2,1137.4 L649.3,1144.9" fill="none" stroke="#7c837b" stroke-width="1.5" stroke-linejoin="round" stroke-linecap="round"/>
<path d="M650.8,1155.5 L652.4,1092.0 L653.9,1144.3 L655.3,1073.1 L656.4,1143.3 L657.9,1089.3 L659.4,1142.4 L660.9,1100.7 L662.6,1162.1 L663.8,1070.9 L665.3,1169.7 L666.7,1084.2 L668.2,1094.8 L669.8,1184.1 L671.4,1090.7 L672.9,1191.2 L674.8,1076.4 L676.6,1189.3 L678.2,1078.9 L679.8,1158.1 L681.1,1111.1 L682.1,1150.8 L683.3,1085.0 L684.4,1157.1 L685.7,1078.8 L687.5,1170.6 L688.6,1076.8 L690.5,1069.4 L691.6,1147.7 L693.5,1078.7 L694.9,1176.2 L696.5,1069.9 L698.4,1141.7 L699.8,1068.2 L700.8,1174.5 L701.8,1102.2 L703.3,1165.2 L704.2,1153.5 L705.1,1138.0 L706.4,1071.1 L708.1,1036.7 L709.7,1112.3 L710.7,1076.3 L712.7,1119.2 L713.9,1062.0 L715.0,1061.8 L716.6,1125.9 L717.6,1083.1 L718.4,1063.5 L720.4,1058.5 L721.7,1147.7 L723.1,1063.8 L724.2,1065.9 L725.9,1136.9 L727.5,1116.7 L729.3,1143.4 L731.2,1017.2 L732.8,1134.2 L734.7,1020.9 L736.3,1053.1 L737.6,1157.8 L738.8,1059.7 L739.7,1110.3 L741.5,1070.8 L743.3,1149.7 L744.5,1048.7 L746.1,1127.1 L747.3,1160.7 L748.7,1084.7 L749.6,1147.7 L751.4,1169.2 L752.9,1079.2 L754.5,1174.9 L755.5,1092.1 L757.1,1149.5 L758.7,1059.7 L760.7,1147.5 L762.4,1086.2 L763.5,1172.1 L765.0,1062.2 L766.1,1157.5 L767.9,1143.6 L769.4,1064.7 L771.2,1142.7 L772.3,1156.2 L773.3,1053.6 L775.0,1125.2 L776.8,1036.6 L778.0,1159.8 L779.2,1073.0 L780.4,1165.8 L782.0,1107.3 L783.3,1109.5 L785.1,1190.0 L787.0,1220.1 L788.3,1153.7 L789.5,1214.0 L790.5,1229.2 L792.3,1213.2 L794.1,1102.6 L795.8,1208.2 L797.2,1124.4 L798.1,1153.2 L799.9,1118.7 L801.6,1152.9 L803.4,1145.8 L805.0,1176.9 L805.8,1075.8 L807.7,1214.3 L809.3,1030.5 L810.9,1166.2 L812.2,1078.4 L813.6,1168.8 L814.6,1104.1 L816.1,1152.1 L817.7,1133.6 L819.0,1064.5 L820.8,1164.4 L822.3,1084.2 L823.9,1113.3 L825.8,1067.7 L827.3,1110.8 L828.7,1040.5 L829.9,1040.6 L831.9,1141.9 L833.2,1051.9 L834.5,1151.2 L835.8,1040.9 L837.3,1116.7 L838.7,1062.5 L839.8,1144.9 L841.2,1068.5 L842.2,1151.5 L843.8,1032.2 L845.3,1121.1 L847.2,1066.7 L848.7,1153.3 L850.1,1061.6 L851.1,1128.9 L852.5,1057.6 L853.8,1113.1 L855.3,1020.8 L857.3,1145.0 L858.3,1155.7 L859.3,1078.5 L860.6,1064.6 L862.4,1197.6 L863.6,1053.5 L864.9,1109.7 L865.7,1066.3 L867.6,1111.4 L869.5,1055.6 L870.6,1159.3 L872.1,1045.6 L873.9,1107.7 L874.8,1060.5 L876.3,1102.4 L878.2,1044.5 L879.5,1087.5 L881.3,1013.9 L882.5,1016.5 L884.1,1094.2 L885.6,1018.1 L887.1,1068.9 L888.9,1002.7 L890.3,1044.2 L891.7,934.4 L893.3,1057.4 L894.5,966.6 L895.3,973.6 L896.2,1040.8 L898.0,957.3 L899.7,968.4 L901.6,943.8 L903.5,954.0 L905.4,1021.5 L906.4,969.8 L907.9,1054.6 L908.9,982.6 L910.1,1083.3 L911.8,1053.9 L913.7,1034.2 L915.0,1086.0 L916.9,1012.9" fill="none" stroke="#7c837b" stroke-width="1.5" stroke-linejoin="round" stroke-linecap="round"/>
<path d="M952.2,1069.0 L953.9,1036.9 L954.9,1071.6 L955.9,1069.4 L956.7,1069.6 L958.2,1040.7 L959.8,1062.2 L961.6,1029.7 L963.5,1072.3 L964.6,1042.1 L966.5,1028.6 L967.8,1054.5 L968.8,1011.6 L970.4,1027.9 L972.4,1017.4 L973.5,1065.7 L975.3,1038.0 L976.6,1071.4 L978.1,1093.4 L979.3,1058.9 L980.7,1103.3 L981.9,1071.7 L983.9,1112.0 L985.1,1052.5 L987.0,1075.9 L988.6,1147.4 L989.6,1074.7 L990.7,1063.0 L991.9,1103.8 L993.1,1053.1 L994.8,1104.3 L996.6,1029.9 L997.8,1084.5 L999.6,1015.7 L1001.1,1121.6 L1002.9,1046.5 L1004.0,1063.6 L1005.7,1107.3 L1006.8,1061.2 L1008.4,1121.0 L1009.6,1069.8 L1011.5,1113.8 L1012.6,1091.0 L1014.5,1117.0 L1015.8,1076.9 L1017.0,1100.0 L1018.3,1060.2 L1019.3,1090.2 L1020.4,1047.8 L1021.9,1112.7 L1022.8,1079.2 L1024.7,1120.6 L1026.6,1079.5 L1027.7,1110.8 L1029.3,1142.7 L1030.6,1091.9 L1032.2,1069.8 L1033.3,1108.4 L1034.4,1075.3 L1035.9,1106.5 L1037.7,1082.1 L1039.0,1037.7 L1040.5,1076.5 L1042.1,1086.9 L1043.4,1039.8 L1044.9,1097.3 L1046.0,1052.6 L1047.7,1093.8 L1048.6,1051.4 L1050.4,1076.3 L1051.8,1045.0 L1052.7,1074.5 L1054.2,1046.7 L1055.7,1074.5 L1057.4,1054.6 L1059.2,1078.9 L1060.7,1076.4 L1061.8,1053.3 L1063.1,1095.2 L1064.9,1062.5 L1066.7,1121.7 L1068.1,1114.1 L1069.9,1110.9 L1071.5,1071.6 L1073.1,1061.7 L1074.5,1058.0 L1076.2,1098.4 L1077.6,1018.4 L1079.3,1097.2 L1081.0,1018.2 L1082.0,1046.0 L1082.9,999.0 L1083.8,1023.0 L1085.8,1003.4 L1087.2,1049.9 L1088.6,1064.1 L1089.5,1073.0 L1091.1,1039.1 L1091.9,1067.9 L1093.8,1029.9 L1095.8,1062.5 L1096.6,1021.0 L1098.3,1062.3 L1100.1,1018.1 L1101.2,1054.6 L1102.2,1002.7 L1103.3,1045.3 L1105.1,998.4 L1106.1,988.8 L1107.1,1032.8 L1108.1,992.0 L1109.6,1027.0 L1111.0,982.6 L1112.1,1029.3 L1114.0,1029.2 L1115.1,996.2 L1117.0,1015.2 L1118.0,997.3 L1119.6,1023.2 L1121.3,995.4 L1122.8,1025.2 L1123.9,1017.1 L1124.8,1026.9 L1126.5,991.9 L1128.1,1009.0 L1129.0,969.1" fill="none" stroke="#7c837b" stroke-width="1.5" stroke-linejoin="round" stroke-linecap="round"/>
<path d="M1136.4,1036.2 L1137.5,987.6 L1138.4,989.7 L1139.9,1011.3 L1141.4,1009.1 L1143.0,971.9 L1144.1,997.8 L1145.6,957.9 L1146.9,1013.1 L1148.0,1028.8 L1149.4,1007.3 L1150.5,1031.1 L1151.5,973.3 L1152.3,1027.4 L1153.9,983.6 L1155.3,1036.3 L1156.9,1043.1 L1158.3,1037.3 L1159.2,989.3 L1160.6,1024.4 L1162.3,988.9 L1164.2,1028.5 L1165.8,995.5 L1166.9,1017.5 L1168.0,983.7 L1168.9,1031.3 L1170.0,1002.1 L1171.8,1036.6 L1173.7,996.7 L1175.0,1042.0 L1176.8,1005.9 L1178.7,1062.6 L1179.6,1010.3 L1180.6,1045.7 L1182.2,1008.0 L1184.0,1089.9 L1185.7,1096.1 L1186.9,1062.3 L1188.5,1038.3 L1190.0,1070.0 L1191.9,1032.4 L1192.9,1051.8 L1194.6,1048.5 L1195.5,991.0 L1196.3,1029.0 L1197.3,979.6 L1198.9,1038.6 L1200.2,986.8 L1201.9,1034.6 L1203.3,1045.0 L1204.9,985.9 L1206.7,1065.9 L1208.3,990.2 L1210.0,1010.3 L1211.8,1005.9 L1212.8,1065.1 L1214.7,1006.4 L1216.6,1037.2 L1217.8,1046.7 L1218.9,970.0 L1220.0,1070.5 L1220.9,1004.3 L1222.1,1031.2 L1223.9,1003.6 L1225.0,1060.8 L1226.4,1007.2 L1228.4,1039.4 L1230.3,968.4 L1231.2,990.5 L1232.6,960.8 L1234.3,1030.2" fill="none" stroke="#7c837b" stroke-width="1.5" stroke-linejoin="round" stroke-linecap="round"/>
<path d="M1285.5,1072.6 L1287.4,1046.2 L1288.4,1078.3 L1290.0,1057.6 L1291.3,1090.3 L1292.3,1105.1 L1294.1,1099.4 L1296.1,1092.3 L1297.8,1088.9 L1299.4,1069.2 L1301.1,1028.3 L1302.6,1069.1 L1304.2,1043.8 L1305.4,1022.4 L1307.1,1054.7 L1307.9,989.7 L1309.6,1060.4 L1311.2,1061.5 L1313.1,1054.2 L1314.4,1067.9 L1315.8,1077.2 L1316.9,1102.0 L1317.9,1078.2 L1319.0,1066.7 L1320.4,1057.9 L1321.7,1077.3 L1323.4,1016.4 L1325.2,1022.0 L1326.5,1044.0 L1328.2,1008.9 L1329.4,1033.9 L1330.2,1039.7 L1332.1,1014.9 L1333.5,1031.7 L1334.3,1079.6 L1335.4,1039.9 L1336.4,1084.1 L1337.4,1043.5 L1338.7,1067.2 L1340.6,1080.2 L1342.1,1043.6 L1343.0,1077.7 L1344.4,1022.5 L1345.8,1059.6 L1347.2,1034.6 L1348.8,1080.6 L1350.0,1048.3 L1351.4,1098.5 L1352.7,1062.8 L1353.6,1069.0 L1354.9,1093.1 L1356.2,1063.8 L1357.7,1084.7 L1359.1,1064.8 L1360.4,1068.5 L1361.9,1105.5 L1363.5,1058.5 L1364.4,1084.6 L1365.3,1059.9 L1367.2,1083.0 L1368.5,1086.1 L1370.0,1049.4 L1371.8,1080.0 L1373.6,1043.5 L1374.8,1044.6 L1376.2,1084.7 L1377.4,1088.5 L1379.2,1089.2" fill="none" stroke="#7c837b" stroke-width="1.5" stroke-linejoin="round" stroke-linecap="round"/>
<path d="M405.2,1174.6 L406.5,1137.3 L408.2,1190.3 L409.6,1123.7 L411.2,1149.1 L413.0,1116.9 L414.2,1154.4 L416.5,1131.2 L418.7,1164.1 L420.1,1119.3 L422.3,1170.8 L423.8,1172.5 L426.2,1137.4 L428.4,1141.7 L429.5,1184.6 L430.6,1150.1 L433.1,1181.7 L434.3,1149.5 L436.5,1139.8 L437.6,1164.1 L440.0,1128.5 L441.1,1166.5 L442.3,1130.5 L444.5,1174.1 L446.3,1120.7 L447.6,1153.0 L448.7,1109.4 L450.7,1144.3 L451.9,1125.8 L453.4,1113.5 L455.4,1147.4 L456.7,1116.5 L459.2,1159.2 L461.4,1130.1 L463.0,1160.6 L464.7,1093.6 L466.3,1154.0 L467.4,1134.0 L469.5,1138.4 L471.6,1178.4 L473.3,1138.4 L475.6,1183.7 L477.1,1147.0 L479.2,1165.4 L481.6,1131.3 L484.1,1115.7 L486.4,1131.4 L487.9,1116.4 L489.6,1159.9 L492.1,1126.3 L494.2,1157.6 L496.5,1155.1 L498.3,1114.4 L500.2,1099.6 L502.6,1150.3 L504.6,1111.0 L506.6,1154.4 L508.5,1151.7 L509.7,1135.3 L511.7,1117.7 L513.2,1153.9 L514.8,1115.8 L516.7,1144.5 L518.0,1122.2 L520.0,1163.4 L521.5,1139.1 L523.4,1176.2 L525.0,1144.1 L526.4,1137.0 L527.8,1186.0 L530.3,1173.8 L532.4,1137.8 L534.8,1174.8 L536.7,1116.1 L538.5,1153.0 L540.5,1162.8 L542.0,1168.2 L543.8,1148.5 L545.0,1136.1 L547.2,1133.9 L549.3,1112.5 L551.8,1166.0 L553.4,1144.1 L555.7,1187.9 L556.9,1145.9 L558.2,1172.2 L560.3,1186.3 L562.4,1129.3 L563.8,1164.3 L565.9,1121.6 L567.7,1168.0 L569.3,1133.6 L571.6,1147.4 L573.7,1132.4 L574.9,1145.0" fill="none" stroke="#7a4a22" stroke-width="2.3" stroke-linejoin="round" stroke-linecap="round"/>
<path d="M577.1,1137.2 L578.2,1135.7 L580.3,1139.7 L582.0,1136.2 L583.3,1141.5 L585.1,1139.3 L586.5,1142.4 L587.9,1140.6 L590.0,1141.8 L591.2,1138.7 L593.0,1142.8 L595.1,1139.1 L597.0,1144.2 L599.4,1145.7 L601.5,1145.2 L602.6,1146.3 L605.0,1148.5 L606.9,1145.4 L608.5,1137.3 L610.7,1132.3 L612.6,1121.8 L614.2,1122.2 L616.4,1121.0 L618.6,1129.9 L620.0,1130.7 L622.3,1143.3 L624.0,1145.6 L625.3,1151.2 L626.8,1162.3 L628.0,1162.7 L630.3,1168.1 L631.8,1177.1 L633.7,1172.9 L635.9,1174.0 L637.9,1173.8 L639.4,1165.1 L641.8,1160.3 L643.6,1149.5 L645.2,1149.7 L647.4,1140.8 L648.6,1143.3 L649.9,1136.3" fill="none" stroke="#7a4a22" stroke-width="2.6" stroke-linejoin="round" stroke-linecap="round"/>
<path d="M650.8,1162.4 L652.1,1110.0 L654.4,1136.4 L656.2,1103.5 L658.6,1137.7 L660.7,1084.0 L662.4,1154.0 L664.8,1098.4 L666.3,1139.0 L667.5,1116.8 L670.0,1144.8 L671.5,1103.0 L673.1,1140.5 L674.9,1112.8 L676.8,1150.4 L678.7,1143.2 L680.4,1166.4 L681.7,1162.1 L683.2,1155.2 L684.6,1110.0 L685.7,1144.9 L687.6,1120.6 L688.9,1133.1 L691.4,1086.2 L693.6,1136.2 L695.5,1098.1 L696.9,1146.8 L698.1,1105.0 L699.9,1129.0 L702.0,1133.4 L703.8,1090.8 L705.5,1115.6 L707.5,1074.4 L709.1,1115.7 L711.1,1109.8 L713.6,1120.9 L715.2,1114.2 L717.1,1077.2 L719.6,1121.7 L722.0,1070.9 L723.4,1105.3 L725.5,1068.4 L726.9,1122.6 L728.5,1096.8 L730.2,1077.1 L732.1,1099.7 L733.6,1060.9 L735.0,1104.6 L737.1,1060.3 L738.6,1102.1 L740.7,1113.2 L742.8,1062.9 L744.8,1116.7 L746.1,1088.1 L747.8,1139.9 L749.2,1085.5 L751.6,1142.8 L753.7,1129.4 L755.6,1065.3 L757.9,1139.0 L760.0,1133.2 L761.4,1108.2 L763.5,1104.4 L765.4,1129.4 L767.4,1069.2 L769.3,1133.0 L771.2,1124.4 L773.0,1089.9 L775.4,1108.2 L776.6,1075.3 L779.1,1127.4 L780.4,1143.8 L782.6,1159.3 L783.8,1124.2 L785.1,1138.3 L787.4,1182.3 L788.6,1185.0 L790.1,1160.9 L791.8,1224.9 L793.2,1180.7 L795.0,1139.5 L797.2,1164.5 L799.8,1123.8 L801.2,1141.8 L803.3,1107.9 L804.8,1137.3 L807.1,1108.2 L809.5,1146.8 L811.6,1112.3 L812.9,1136.7 L814.8,1106.8 L817.2,1144.2 L819.0,1097.5 L820.3,1079.0 L822.0,1092.3 L824.1,1098.9 L826.0,1068.5 L828.2,1062.4 L830.1,1102.3 L831.4,1079.3 L833.5,1118.7 L835.3,1115.3 L836.5,1068.7 L838.8,1074.6 L840.3,1123.3 L841.4,1083.5 L843.5,1112.9 L845.4,1072.6 L847.5,1120.3 L849.1,1130.9 L851.1,1074.8 L852.4,1103.1 L854.1,1106.5 L855.8,1044.8 L858.0,1139.6 L860.3,1107.5 L861.7,1138.2 L863.8,1089.5 L865.3,1121.4 L867.1,1114.5 L868.8,1077.1 L871.3,1073.0 L872.4,1078.3 L873.7,1113.4 L875.9,1066.0 L878.1,1103.1 L879.5,1052.7 L880.6,1074.5 L882.5,1042.0 L884.0,1064.2 L886.1,1021.3 L888.3,1053.7 L889.6,1047.4 L891.9,997.9 L893.2,1019.1 L895.6,1027.5 L896.9,993.8 L898.1,1024.0 L899.2,986.9 L900.8,1021.3 L901.9,969.8 L904.2,968.4 L905.3,1016.9 L907.1,999.1 L908.8,1029.3 L911.1,1047.5 L912.8,1072.6 L915.1,1043.8 L916.7,1078.0" fill="none" stroke="#7a4a22" stroke-width="2.6" stroke-linejoin="round" stroke-linecap="round"/>
<path d="M952.2,1042.7 L953.6,1031.3 L955.6,1045.5 L956.8,1074.6 L959.3,1038.0 L960.7,1056.8 L962.6,1039.0 L964.9,1062.7 L967.2,1041.3 L968.7,1031.3 L971.2,1041.7 L973.4,1039.3 L974.8,1060.5 L976.6,1059.0 L978.7,1089.7 L981.1,1109.0 L983.6,1112.2 L985.3,1082.0 L987.0,1095.6 L988.1,1113.6 L989.8,1097.6 L991.9,1071.8 L994.3,1094.3 L995.5,1067.0 L997.6,1066.7 L999.3,1085.9 L1000.4,1064.3 L1002.7,1081.7 L1005.0,1071.7 L1006.5,1089.1 L1008.5,1103.3 L1009.8,1099.8 L1011.3,1082.4 L1013.0,1111.2 L1015.4,1075.1 L1017.1,1095.1 L1018.4,1065.8 L1020.0,1082.8 L1021.9,1079.5 L1024.2,1078.0 L1026.4,1093.4 L1027.9,1093.6 L1029.6,1110.0 L1031.4,1079.9 L1033.0,1099.7 L1034.5,1076.5 L1036.3,1084.9 L1037.5,1086.2 L1039.2,1045.3 L1041.4,1074.3 L1043.3,1075.5 L1044.5,1054.2 L1046.9,1056.3 L1048.1,1059.0 L1049.6,1052.4 L1051.1,1075.3 L1052.2,1048.9 L1053.4,1041.1 L1054.6,1051.5 L1056.9,1052.0 L1058.6,1057.1 L1059.8,1077.5 L1061.0,1073.8 L1062.3,1062.3 L1063.9,1114.5 L1065.1,1076.6 L1067.4,1119.0 L1069.2,1118.7 L1071.0,1076.6 L1073.2,1104.1 L1074.8,1064.5 L1076.2,1087.5 L1077.7,1086.5 L1080.0,1028.6 L1081.2,1020.6 L1082.7,1040.1 L1084.9,1001.0 L1087.1,1016.2 L1088.3,1028.4 L1089.9,1048.5 L1092.1,1036.5 L1094.4,1068.2 L1095.9,1039.0 L1098.2,1035.1 L1099.5,1055.8 L1101.4,1027.4 L1103.3,1043.3 L1104.8,1010.9 L1106.8,999.2 L1108.8,1018.9 L1110.4,1000.0 L1112.0,1018.5 L1113.2,980.3 L1114.4,1029.1 L1116.1,1005.1 L1118.5,1024.7 L1119.7,1000.9 L1121.5,1023.4 L1123.0,976.3 L1124.8,1009.0 L1127.2,995.6 L1128.3,1009.8" fill="none" stroke="#7a4a22" stroke-width="2.6" stroke-linejoin="round" stroke-linecap="round"/>
<path d="M1136.4,1015.1 L1137.7,990.9 L1139.0,1017.3 L1141.0,974.9 L1142.3,983.6 L1143.6,995.8 L1145.9,967.9 L1148.0,985.9 L1149.7,976.5 L1151.5,1013.8 L1153.9,991.9 L1155.2,997.2 L1157.7,1006.4 L1159.3,1033.7 L1160.7,1010.5 L1162.6,1024.7 L1164.6,994.7 L1166.5,1026.7 L1169.0,1027.0 L1170.6,998.4 L1172.2,1031.1 L1174.1,1009.4 L1175.3,1004.7 L1177.5,1025.7 L1179.7,1033.6 L1181.9,1032.9 L1184.1,1091.5 L1185.6,1096.5 L1187.9,1061.8 L1190.4,1065.3 L1192.4,1032.7 L1193.9,1017.3 L1195.8,1033.5 L1198.1,999.2 L1199.9,1016.1 L1201.4,1005.5 L1203.3,1025.0 L1204.9,998.4 L1206.3,1037.1 L1208.2,1039.5 L1209.8,1019.9 L1211.2,1049.0 L1213.7,1048.5 L1215.8,1032.7 L1217.7,1015.0 L1219.6,1037.6 L1222.0,1010.8 L1223.7,1031.3 L1225.4,1008.8 L1226.6,1020.4 L1228.7,1034.7 L1230.0,979.0 L1232.4,993.2" fill="none" stroke="#7a4a22" stroke-width="2.6" stroke-linejoin="round" stroke-linecap="round"/>
<path d="M1285.5,1056.6 L1287.3,1043.4 L1289.1,1063.9 L1291.6,1088.0 L1293.1,1101.4 L1294.6,1072.5 L1296.9,1075.8 L1299.0,1040.2 L1300.8,1062.4 L1302.3,1048.0 L1304.3,1029.6 L1306.8,1036.1 L1308.6,1043.7 L1310.8,1039.6 L1313.0,1079.8 L1314.8,1061.8 L1316.3,1098.7 L1317.9,1076.8 L1319.3,1090.1 L1321.6,1075.7 L1322.9,1056.2 L1324.6,1060.0 L1326.9,1015.8 L1328.4,1029.3 L1330.1,1027.5 L1332.0,1030.0 L1333.5,1062.5 L1335.1,1041.9 L1337.1,1046.0 L1339.0,1067.4 L1341.2,1047.6 L1342.4,1063.0 L1344.1,1059.9 L1345.4,1041.8 L1346.8,1050.1 L1348.6,1067.3 L1351.1,1064.5 L1352.3,1071.5 L1354.3,1084.4 L1355.9,1070.6 L1357.7,1084.4 L1359.5,1064.8 L1361.4,1088.0 L1363.7,1063.2 L1365.3,1082.2 L1366.5,1051.2 L1367.8,1085.0 L1369.3,1052.3 L1371.5,1058.7 L1373.4,1065.7 L1375.8,1056.0 L1378.0,1091.5 L1380.0,1067.5" fill="none" stroke="#7a4a22" stroke-width="2.6" stroke-linejoin="round" stroke-linecap="round"/>
<path d="M348.4,1115.4 L349.8,1062.8 L351.6,1136.4 L353.3,1206.6 L355.1,1164.5 L356.8,1220.6 L358.6,1171.5 L360.3,1199.6 L362.4,1182.0 L364.2,1213.6 L365.9,1171.5 L367.7,1122.4 L369.1,1157.5 L370.2,1168.0 L405.2,1171.5" fill="none" stroke="#7a4a22" stroke-width="2.0" stroke-linejoin="round" stroke-linecap="round"/>
<path d="M739.3,1080.0 L739.8,928.0 L740.5,1090.0" fill="none" stroke="#7c837b" stroke-width="1.5" stroke-linejoin="round" stroke-linecap="round"/>
<path d="M739.6,1090.0 L740.0,1000.0 L740.6,1100.0" fill="none" stroke="#7a4a22" stroke-width="2.2" stroke-linejoin="round" stroke-linecap="round"/>
<path d="M499.0,1120.0 L499.5,1015.0 L500.2,1120.0" fill="none" stroke="#7c837b" stroke-width="1.5" stroke-linejoin="round" stroke-linecap="round"/>
<path d="M784.0,1150.0 L786.6,1213.0 L788.0,1150.0" fill="none" stroke="#7c837b" stroke-width="1.5" stroke-linejoin="round" stroke-linecap="round"/>
<path d="M917.2,1071.9 L931.2,1043.8 L941.7,1037.5 L952.2,1037.5" fill="none" stroke="#7a4a22" stroke-width="2.0" stroke-linejoin="round" stroke-linecap="round"/>
<path d="M915.4,1082.4 L924.2,1050.8 L933.0,1022.8 L940.0,1015.8 L952.2,1033.3" fill="none" stroke="#7c837b" stroke-width="1.4" stroke-linejoin="round" stroke-linecap="round"/>
<path d="M1129.4,1000.0 L1136.4,1005.2" fill="none" stroke="#7a4a22" stroke-width="2.0" stroke-linejoin="round" stroke-linecap="round"/>
<path d="M1234.6,1007.0 L1283.7,998.2 L1285.5,1047.3" fill="none" stroke="#7c837b" stroke-width="1.4" stroke-linejoin="round" stroke-linecap="round"/>
<path d="M1234.6,1007.0 L1283.7,1012.9 L1285.5,1047.3" fill="none" stroke="#7a4a22" stroke-width="2.0" stroke-linejoin="round" stroke-linecap="round"/>
<path d="M377.9,62.3 L396.5,196.6 L418.2,152.4 L429.1,227.1 L440.3,160.8 L451.5,209.9 L462.4,121.9 L472.9,209.9 L484.9,211.4 L496.4,246.4 L507.7,153.1 L530.1,188.9 L552.6,167.5 L563.8,205.7 L586.9,221.9 L598.9,195.6 L610.4,235.9 L636.7,277.3 L649.7,249.2 L662.0,292.7 L688.3,329.6 L700.9,201.5 L714.6,242.2 L738.5,269.2 L751.4,193.8 L764.1,295.5 L790.0,253.4 L805.1,256.2 L821.6,255.5 L840.0,261.9 L854.7,268.2 L871.6,199.8 L888.1,250.7 L901.4,212.8 L911.9,231.4 L921.4,193.9 L930.5,211.4 L938.2,291.0 L946.3,199.8 L955.8,248.9 L961.0,312.1 L968.0,289.3 L974.0,270.0 L980.3,294.5 L985.6,266.5 L991.5,292.8 L996.1,271.7 L1002.1,275.2 L1004.9,303.3 L1010.8,306.8 L1021.7,291.0 L1027.7,333.1 L1032.2,291.0 L1042.7,292.8 L1047.7,316.6 L1055.7,301.5 L1065.2,297.0 L1071.5,277.0 L1079.6,320.1 L1087.3,240.2 L1095.0,285.1 L1106.6,290.0 L1117.1,264.0 L1129.4,252.4 L1140.6,216.3 L1148.7,245.4 L1155.7,263.0 L1161.0,241.9 L1168.0,248.9 L1176.7,252.4 L1182.0,275.2 L1185.5,301.5 L1188.3,247.9 L1214.6,234.9 L1226.5,241.9 L1239.2,229.6 L1252.1,248.9 L1265.1,227.2 L1277.8,280.5 L1290.7,285.8 L1306.5,270.0 L1325.1,263.0 L1337.4,269.3 L1349.3,277.0 L1362.6,266.5 L1376.0,215.6" fill="none" stroke="#5e6e99" stroke-width="1.8" stroke-linejoin="round" stroke-linecap="round"/>
<path d="M377.9,55.5l6.8,6.8l-6.8,6.8l-6.8,-6.8zM396.5,189.8l6.8,6.8l-6.8,6.8l-6.8,-6.8zM418.2,145.6l6.8,6.8l-6.8,6.8l-6.8,-6.8zM429.1,220.3l6.8,6.8l-6.8,6.8l-6.8,-6.8zM440.3,154.0l6.8,6.8l-6.8,6.8l-6.8,-6.8zM451.5,203.1l6.8,6.8l-6.8,6.8l-6.8,-6.8zM462.4,115.1l6.8,6.8l-6.8,6.8l-6.8,-6.8zM472.9,203.1l6.8,6.8l-6.8,6.8l-6.8,-6.8zM484.9,204.6l6.8,6.8l-6.8,6.8l-6.8,-6.8zM496.4,239.6l6.8,6.8l-6.8,6.8l-6.8,-6.8zM507.7,146.3l6.8,6.8l-6.8,6.8l-6.8,-6.8zM530.1,182.1l6.8,6.8l-6.8,6.8l-6.8,-6.8zM552.6,160.7l6.8,6.8l-6.8,6.8l-6.8,-6.8zM563.8,198.9l6.8,6.8l-6.8,6.8l-6.8,-6.8zM586.9,215.1l6.8,6.8l-6.8,6.8l-6.8,-6.8zM598.9,188.8l6.8,6.8l-6.8,6.8l-6.8,-6.8zM610.4,229.1l6.8,6.8l-6.8,6.8l-6.8,-6.8zM636.7,270.5l6.8,6.8l-6.8,6.8l-6.8,-6.8zM649.7,242.4l6.8,6.8l-6.8,6.8l-6.8,-6.8zM662.0,285.9l6.8,6.8l-6.8,6.8l-6.8,-6.8zM688.3,322.8l6.8,6.8l-6.8,6.8l-6.8,-6.8zM700.9,194.7l6.8,6.8l-6.8,6.8l-6.8,-6.8zM714.6,235.4l6.8,6.8l-6.8,6.8l-6.8,-6.8zM738.5,262.4l6.8,6.8l-6.8,6.8l-6.8,-6.8zM751.4,187.0l6.8,6.8l-6.8,6.8l-6.8,-6.8zM764.1,288.7l6.8,6.8l-6.8,6.8l-6.8,-6.8zM790.0,246.6l6.8,6.8l-6.8,6.8l-6.8,-6.8zM805.1,249.4l6.8,6.8l-6.8,6.8l-6.8,-6.8zM821.6,248.7l6.8,6.8l-6.8,6.8l-6.8,-6.8zM840.0,255.1l6.8,6.8l-6.8,6.8l-6.8,-6.8zM854.7,261.4l6.8,6.8l-6.8,6.8l-6.8,-6.8zM871.6,193.0l6.8,6.8l-6.8,6.8l-6.8,-6.8zM888.1,243.9l6.8,6.8l-6.8,6.8l-6.8,-6.8zM901.4,206.0l6.8,6.8l-6.8,6.8l-6.8,-6.8zM911.9,224.6l6.8,6.8l-6.8,6.8l-6.8,-6.8zM921.4,187.1l6.8,6.8l-6.8,6.8l-6.8,-6.8zM930.5,204.6l6.8,6.8l-6.8,6.8l-6.8,-6.8zM938.2,284.2l6.8,6.8l-6.8,6.8l-6.8,-6.8zM946.3,193.0l6.8,6.8l-6.8,6.8l-6.8,-6.8zM955.8,242.1l6.8,6.8l-6.8,6.8l-6.8,-6.8zM961.0,305.3l6.8,6.8l-6.8,6.8l-6.8,-6.8zM968.0,282.5l6.8,6.8l-6.8,6.8l-6.8,-6.8zM974.0,263.2l6.8,6.8l-6.8,6.8l-6.8,-6.8zM980.3,287.7l6.8,6.8l-6.8,6.8l-6.8,-6.8zM985.6,259.7l6.8,6.8l-6.8,6.8l-6.8,-6.8zM991.5,286.0l6.8,6.8l-6.8,6.8l-6.8,-6.8zM996.1,264.9l6.8,6.8l-6.8,6.8l-6.8,-6.8zM1002.1,268.4l6.8,6.8l-6.8,6.8l-6.8,-6.8zM1004.9,296.5l6.8,6.8l-6.8,6.8l-6.8,-6.8zM1010.8,300.0l6.8,6.8l-6.8,6.8l-6.8,-6.8zM1021.7,284.2l6.8,6.8l-6.8,6.8l-6.8,-6.8zM1027.7,326.3l6.8,6.8l-6.8,6.8l-6.8,-6.8zM1032.2,284.2l6.8,6.8l-6.8,6.8l-6.8,-6.8zM1042.7,286.0l6.8,6.8l-6.8,6.8l-6.8,-6.8zM1047.7,309.8l6.8,6.8l-6.8,6.8l-6.8,-6.8zM1055.7,294.7l6.8,6.8l-6.8,6.8l-6.8,-6.8zM1065.2,290.2l6.8,6.8l-6.8,6.8l-6.8,-6.8zM1071.5,270.2l6.8,6.8l-6.8,6.8l-6.8,-6.8zM1079.6,313.3l6.8,6.8l-6.8,6.8l-6.8,-6.8zM1087.3,233.4l6.8,6.8l-6.8,6.8l-6.8,-6.8zM1095.0,278.3l6.8,6.8l-6.8,6.8l-6.8,-6.8zM1106.6,283.2l6.8,6.8l-6.8,6.8l-6.8,-6.8zM1117.1,257.2l6.8,6.8l-6.8,6.8l-6.8,-6.8zM1129.4,245.6l6.8,6.8l-6.8,6.8l-6.8,-6.8zM1140.6,209.5l6.8,6.8l-6.8,6.8l-6.8,-6.8zM1148.7,238.6l6.8,6.8l-6.8,6.8l-6.8,-6.8zM1155.7,256.2l6.8,6.8l-6.8,6.8l-6.8,-6.8zM1161.0,235.1l6.8,6.8l-6.8,6.8l-6.8,-6.8zM1168.0,242.1l6.8,6.8l-6.8,6.8l-6.8,-6.8zM1176.7,245.6l6.8,6.8l-6.8,6.8l-6.8,-6.8zM1182.0,268.4l6.8,6.8l-6.8,6.8l-6.8,-6.8zM1185.5,294.7l6.8,6.8l-6.8,6.8l-6.8,-6.8zM1188.3,241.1l6.8,6.8l-6.8,6.8l-6.8,-6.8zM1214.6,228.1l6.8,6.8l-6.8,6.8l-6.8,-6.8zM1226.5,235.1l6.8,6.8l-6.8,6.8l-6.8,-6.8zM1239.2,222.8l6.8,6.8l-6.8,6.8l-6.8,-6.8zM1252.1,242.1l6.8,6.8l-6.8,6.8l-6.8,-6.8zM1265.1,220.4l6.8,6.8l-6.8,6.8l-6.8,-6.8zM1277.8,273.7l6.8,6.8l-6.8,6.8l-6.8,-6.8zM1290.7,279.0l6.8,6.8l-6.8,6.8l-6.8,-6.8zM1306.5,263.2l6.8,6.8l-6.8,6.8l-6.8,-6.8zM1325.1,256.2l6.8,6.8l-6.8,6.8l-6.8,-6.8zM1337.4,262.5l6.8,6.8l-6.8,6.8l-6.8,-6.8zM1349.3,270.2l6.8,6.8l-6.8,6.8l-6.8,-6.8zM1362.6,259.7l6.8,6.8l-6.8,6.8l-6.8,-6.8zM1376.0,208.8l6.8,6.8l-6.8,6.8l-6.8,-6.8z" fill="#5e6e99" fill-opacity="0.55"/>
<path d="M377.2,77.4 C378.0,81.6 380.4,93.7 382.4,102.6 C384.5,111.5 386.8,121.9 389.4,130.7 C392.1,139.4 395.6,148.2 398.2,155.2 C400.8,162.2 402.9,167.8 405.2,172.8 C407.6,177.7 409.9,181.9 412.2,185.0 C414.6,188.1 417.2,190.3 419.3,191.4 C421.3,192.4 422.8,191.8 424.5,191.4 C426.3,190.9 428.0,189.3 429.8,188.9 C431.5,188.5 433.3,188.8 435.0,188.9 C436.8,189.0 438.8,189.6 440.3,189.3 C441.8,188.9 442.6,188.7 443.8,186.8 C445.0,184.9 445.9,180.5 447.3,178.0 C448.8,175.6 450.5,173.5 452.6,172.1 C454.6,170.6 457.7,169.4 459.6,169.3 C461.5,169.1 462.3,169.3 463.8,171.0 C465.3,172.8 466.4,175.4 468.4,179.8 C470.3,184.2 473.3,192.2 475.4,197.3 C477.4,202.5 478.6,207.3 480.6,210.7 C482.7,214.0 485.6,217.4 487.7,217.7 C489.7,217.9 490.9,214.0 492.9,212.1 C495.0,210.1 497.0,208.5 499.9,206.1 C502.9,203.6 507.2,200.8 510.5,197.3 C513.7,193.8 516.6,189.1 519.2,185.0 C521.9,181.0 524.2,175.2 526.2,172.8 C528.3,170.3 529.5,170.0 531.5,170.3 C533.6,170.6 536.2,172.7 538.5,174.5 C540.9,176.4 543.2,179.4 545.5,181.5 C547.9,183.7 549.0,185.2 552.6,187.5 C556.1,189.8 561.9,193.1 566.6,195.6 C571.3,198.1 575.9,199.7 580.6,202.6 C585.3,205.5 590.0,209.3 594.6,213.1 C599.3,216.9 604.0,220.7 608.7,225.4 C613.4,230.1 618.0,235.9 622.7,241.2 C627.4,246.4 632.1,251.4 636.7,257.0 C641.4,262.5 647.0,269.8 650.8,274.5 C654.6,279.2 656.9,282.5 659.5,285.0 C662.2,287.5 664.5,289.0 666.5,289.6 C668.6,290.2 669.8,289.6 671.8,288.5 C673.9,287.5 675.9,285.6 678.8,283.3 C681.7,280.9 685.8,278.3 689.3,274.5 C692.9,270.7 696.4,265.4 699.9,260.5 C703.4,255.5 707.5,248.8 710.4,244.7 C713.3,240.6 715.1,237.7 717.4,235.9 C719.7,234.2 722.1,234.2 724.4,234.2 C726.8,234.2 728.8,234.4 731.4,235.9 C734.1,237.4 737.6,240.6 740.2,242.9 C742.8,245.3 744.9,248.3 747.2,249.9 C749.6,251.6 751.0,251.9 754.2,252.7 C757.5,253.6 762.1,254.2 766.5,255.2 C770.9,256.2 776.5,257.9 780.5,258.7 C784.6,259.5 787.0,260.0 791.1,259.8 C795.2,259.5 800.4,257.4 805.1,257.0 C809.8,256.5 814.5,257.5 819.1,257.0 C823.8,256.4 829.7,254.5 833.2,253.4 C836.6,252.4 835.4,252.9 840.0,250.7 C844.6,248.5 854.0,243.7 861.0,240.2 C868.1,236.6 876.0,232.1 882.1,229.6 C888.2,227.1 894.1,226.5 897.9,225.1 C901.7,223.6 902.3,223.2 904.9,220.9 C907.5,218.5 911.0,212.1 913.7,211.0 C916.3,210.0 917.9,211.6 920.7,214.5 C923.5,217.5 927.0,224.7 930.5,228.6 C934.0,232.4 938.7,235.1 941.7,237.7 C944.8,240.3 946.4,241.6 948.7,244.4 C951.1,247.1 953.7,248.7 955.8,254.2 C957.8,259.6 959.6,270.6 961.0,277.0 C962.5,283.4 963.1,290.1 964.5,292.8 C966.0,295.4 968.0,294.6 969.8,292.8 C971.5,290.9 973.3,283.7 975.0,281.5 C976.8,279.4 978.3,279.8 980.3,279.8 C982.4,279.8 985.0,281.8 987.3,281.5 C989.7,281.3 992.3,278.2 994.3,278.0 C996.4,277.9 997.8,278.3 999.6,280.5 C1001.4,282.7 1002.8,287.2 1004.9,291.0 C1006.9,294.8 1009.5,300.5 1011.9,303.3 C1014.2,306.1 1016.3,307.1 1018.9,307.9 C1021.5,308.6 1025.0,308.0 1027.7,307.5 C1030.3,307.0 1032.3,306.0 1034.7,305.0 C1037.0,304.1 1039.6,301.2 1041.7,301.5 C1043.7,301.8 1045.2,305.5 1047.0,306.8 C1048.7,308.1 1050.2,310.5 1052.2,309.6 C1054.3,308.7 1056.9,304.5 1059.2,301.5 C1061.6,298.6 1063.7,293.5 1066.2,292.1 C1068.8,290.6 1072.0,293.2 1074.3,292.8 C1076.6,292.3 1078.1,291.6 1080.3,289.3 C1082.4,286.9 1085.0,281.7 1087.3,278.7 C1089.6,275.8 1092.3,272.0 1094.3,271.7 C1096.4,271.4 1097.5,275.5 1099.6,277.0 C1101.6,278.4 1104.2,280.9 1106.6,280.5 C1108.9,280.1 1111.3,277.5 1113.6,274.5 C1115.9,271.6 1118.3,267.8 1120.6,263.0 C1123.0,258.1 1125.3,249.8 1127.6,245.4 C1130.0,241.0 1132.5,238.6 1134.6,236.6 C1136.8,234.7 1138.6,233.7 1140.6,233.8 C1142.7,234.0 1144.7,235.6 1146.9,237.7 C1149.1,239.8 1151.6,244.4 1153.9,246.5 C1156.3,248.5 1158.9,249.6 1161.0,250.0 C1163.0,250.4 1164.5,247.6 1166.2,248.9 C1168.0,250.2 1169.7,254.6 1171.5,257.7 C1173.2,260.8 1175.0,265.2 1176.7,267.5 C1178.5,269.9 1180.0,271.1 1182.0,271.7 C1184.0,272.3 1187.0,272.1 1189.0,271.0 C1191.1,270.0 1192.2,268.2 1194.3,265.4 C1196.3,262.6 1198.4,258.4 1201.3,254.2 C1204.2,250.0 1208.3,243.2 1211.8,240.2 C1215.3,237.1 1217.7,236.8 1222.3,235.9 C1227.0,235.1 1235.5,235.0 1239.9,235.2 C1244.3,235.5 1245.7,235.7 1248.6,237.3 C1251.6,239.0 1254.2,241.7 1257.4,245.4 C1260.6,249.1 1264.7,255.2 1267.9,259.4 C1271.1,263.7 1273.8,267.9 1276.7,271.0 C1279.6,274.1 1282.5,276.5 1285.5,278.0 C1288.4,279.6 1290.7,280.8 1294.2,280.5 C1297.7,280.2 1302.7,277.7 1306.5,276.3 C1310.3,274.8 1313.8,273.2 1317.0,271.7 C1320.3,270.3 1322.9,267.6 1325.8,267.5 C1328.7,267.4 1331.7,270.2 1334.6,271.0 C1337.5,271.8 1340.4,272.9 1343.3,272.4 C1346.3,272.0 1348.9,270.7 1352.1,268.2 C1355.3,265.8 1359.7,261.8 1362.6,257.7 C1365.6,253.6 1367.3,249.0 1369.7,243.7 C1372.0,238.3 1375.5,228.5 1376.7,225.4" fill="none" stroke="#141d55" stroke-width="3.2" stroke-linejoin="round" stroke-linecap="round"/>
<path d="M381.4,205.1 L400.0,300.5 L421.0,228.9 L432.6,313.8 L443.8,275.2 L455.4,334.9 L466.6,230.3 L477.8,303.3 L489.4,315.6 L499.9,362.2 L511.5,244.7 L534.0,284.0 L556.8,228.9 L568.3,296.3 L591.1,334.2 L603.4,285.8 L615.7,348.9 L640.9,393.8 L653.6,328.9 L666.5,425.4 L692.2,459.7 L705.1,302.6 L717.4,356.6 L742.7,379.4 L755.3,309.3 L768.3,428.2 L794.6,367.5 L809.3,377.7 L825.4,358.7 L840.0,377.0 L859.3,404.3 L875.1,291.0 L891.9,351.3 L904.9,319.1 L916.5,328.5 L925.9,281.5 L934.7,334.9 L941.7,402.2 L949.8,299.8 L959.3,345.4 L965.2,405.7 L972.6,373.4 L978.6,380.5 L983.8,397.3 L989.8,343.6 L994.3,405.0 L999.6,382.2 L1004.9,321.5 L1010.8,411.3 L1015.4,410.3 L1025.9,391.7 L1031.2,415.5 L1036.4,364.7 L1045.2,368.2 L1052.2,362.2 L1056.4,384.7 L1064.5,330.7 L1068.7,382.2 L1074.3,310.3 L1083.8,400.8 L1090.8,313.8 L1099.6,337.7 L1110.1,306.8 L1120.6,295.2 L1133.9,302.2 L1144.5,250.0 L1155.7,285.8 L1159.2,340.1 L1163.4,313.8 L1167.3,280.5 L1177.4,294.5 L1183.8,338.4 L1188.0,358.4 L1192.5,282.9 L1217.1,264.7 L1230.1,275.2 L1243.4,262.3 L1256.7,306.8 L1268.6,269.3 L1282.0,377.7 L1294.2,355.9 L1310.0,337.7 L1327.6,321.5 L1340.9,313.8 L1353.2,333.1 L1366.1,297.0 L1383.7,316.6" fill="none" stroke="#9c9b5c" stroke-width="1.8" stroke-linejoin="round" stroke-linecap="round"/>
<path d="M381.4,198.3l6.8,6.8l-6.8,6.8l-6.8,-6.8zM400.0,293.7l6.8,6.8l-6.8,6.8l-6.8,-6.8zM421.0,222.1l6.8,6.8l-6.8,6.8l-6.8,-6.8zM432.6,307.0l6.8,6.8l-6.8,6.8l-6.8,-6.8zM443.8,268.4l6.8,6.8l-6.8,6.8l-6.8,-6.8zM455.4,328.1l6.8,6.8l-6.8,6.8l-6.8,-6.8zM466.6,223.5l6.8,6.8l-6.8,6.8l-6.8,-6.8zM477.8,296.5l6.8,6.8l-6.8,6.8l-6.8,-6.8zM489.4,308.8l6.8,6.8l-6.8,6.8l-6.8,-6.8zM499.9,355.4l6.8,6.8l-6.8,6.8l-6.8,-6.8zM511.5,237.9l6.8,6.8l-6.8,6.8l-6.8,-6.8zM534.0,277.2l6.8,6.8l-6.8,6.8l-6.8,-6.8zM556.8,222.1l6.8,6.8l-6.8,6.8l-6.8,-6.8zM568.3,289.5l6.8,6.8l-6.8,6.8l-6.8,-6.8zM591.1,327.4l6.8,6.8l-6.8,6.8l-6.8,-6.8zM603.4,279.0l6.8,6.8l-6.8,6.8l-6.8,-6.8zM615.7,342.1l6.8,6.8l-6.8,6.8l-6.8,-6.8zM640.9,387.0l6.8,6.8l-6.8,6.8l-6.8,-6.8zM653.6,322.1l6.8,6.8l-6.8,6.8l-6.8,-6.8zM666.5,418.6l6.8,6.8l-6.8,6.8l-6.8,-6.8zM692.2,452.9l6.8,6.8l-6.8,6.8l-6.8,-6.8zM705.1,295.8l6.8,6.8l-6.8,6.8l-6.8,-6.8zM717.4,349.8l6.8,6.8l-6.8,6.8l-6.8,-6.8zM742.7,372.6l6.8,6.8l-6.8,6.8l-6.8,-6.8zM755.3,302.5l6.8,6.8l-6.8,6.8l-6.8,-6.8zM768.3,421.4l6.8,6.8l-6.8,6.8l-6.8,-6.8zM794.6,360.7l6.8,6.8l-6.8,6.8l-6.8,-6.8zM809.3,370.9l6.8,6.8l-6.8,6.8l-6.8,-6.8zM825.4,351.9l6.8,6.8l-6.8,6.8l-6.8,-6.8zM840.0,370.2l6.8,6.8l-6.8,6.8l-6.8,-6.8zM859.3,397.5l6.8,6.8l-6.8,6.8l-6.8,-6.8zM875.1,284.2l6.8,6.8l-6.8,6.8l-6.8,-6.8zM891.9,344.5l6.8,6.8l-6.8,6.8l-6.8,-6.8zM904.9,312.3l6.8,6.8l-6.8,6.8l-6.8,-6.8zM916.5,321.7l6.8,6.8l-6.8,6.8l-6.8,-6.8zM925.9,274.7l6.8,6.8l-6.8,6.8l-6.8,-6.8zM934.7,328.1l6.8,6.8l-6.8,6.8l-6.8,-6.8zM941.7,395.4l6.8,6.8l-6.8,6.8l-6.8,-6.8zM949.8,293.0l6.8,6.8l-6.8,6.8l-6.8,-6.8zM959.3,338.6l6.8,6.8l-6.8,6.8l-6.8,-6.8zM965.2,398.9l6.8,6.8l-6.8,6.8l-6.8,-6.8zM972.6,366.6l6.8,6.8l-6.8,6.8l-6.8,-6.8zM978.6,373.7l6.8,6.8l-6.8,6.8l-6.8,-6.8zM983.8,390.5l6.8,6.8l-6.8,6.8l-6.8,-6.8zM989.8,336.8l6.8,6.8l-6.8,6.8l-6.8,-6.8zM994.3,398.2l6.8,6.8l-6.8,6.8l-6.8,-6.8zM999.6,375.4l6.8,6.8l-6.8,6.8l-6.8,-6.8zM1004.9,314.7l6.8,6.8l-6.8,6.8l-6.8,-6.8zM1010.8,404.5l6.8,6.8l-6.8,6.8l-6.8,-6.8zM1015.4,403.5l6.8,6.8l-6.8,6.8l-6.8,-6.8zM1025.9,384.9l6.8,6.8l-6.8,6.8l-6.8,-6.8zM1031.2,408.7l6.8,6.8l-6.8,6.8l-6.8,-6.8zM1036.4,357.9l6.8,6.8l-6.8,6.8l-6.8,-6.8zM1045.2,361.4l6.8,6.8l-6.8,6.8l-6.8,-6.8zM1052.2,355.4l6.8,6.8l-6.8,6.8l-6.8,-6.8zM1056.4,377.9l6.8,6.8l-6.8,6.8l-6.8,-6.8zM1064.5,323.9l6.8,6.8l-6.8,6.8l-6.8,-6.8zM1068.7,375.4l6.8,6.8l-6.8,6.8l-6.8,-6.8zM1074.3,303.5l6.8,6.8l-6.8,6.8l-6.8,-6.8zM1083.8,394.0l6.8,6.8l-6.8,6.8l-6.8,-6.8zM1090.8,307.0l6.8,6.8l-6.8,6.8l-6.8,-6.8zM1099.6,330.9l6.8,6.8l-6.8,6.8l-6.8,-6.8zM1110.1,300.0l6.8,6.8l-6.8,6.8l-6.8,-6.8zM1120.6,288.4l6.8,6.8l-6.8,6.8l-6.8,-6.8zM1133.9,295.4l6.8,6.8l-6.8,6.8l-6.8,-6.8zM1144.5,243.2l6.8,6.8l-6.8,6.8l-6.8,-6.8zM1155.7,279.0l6.8,6.8l-6.8,6.8l-6.8,-6.8zM1159.2,333.3l6.8,6.8l-6.8,6.8l-6.8,-6.8zM1163.4,307.0l6.8,6.8l-6.8,6.8l-6.8,-6.8zM1167.3,273.7l6.8,6.8l-6.8,6.8l-6.8,-6.8zM1177.4,287.7l6.8,6.8l-6.8,6.8l-6.8,-6.8zM1183.8,331.6l6.8,6.8l-6.8,6.8l-6.8,-6.8zM1188.0,351.6l6.8,6.8l-6.8,6.8l-6.8,-6.8zM1192.5,276.1l6.8,6.8l-6.8,6.8l-6.8,-6.8zM1217.1,257.9l6.8,6.8l-6.8,6.8l-6.8,-6.8zM1230.1,268.4l6.8,6.8l-6.8,6.8l-6.8,-6.8zM1243.4,255.5l6.8,6.8l-6.8,6.8l-6.8,-6.8zM1256.7,300.0l6.8,6.8l-6.8,6.8l-6.8,-6.8zM1268.6,262.5l6.8,6.8l-6.8,6.8l-6.8,-6.8zM1282.0,370.9l6.8,6.8l-6.8,6.8l-6.8,-6.8zM1294.2,349.1l6.8,6.8l-6.8,6.8l-6.8,-6.8zM1310.0,330.9l6.8,6.8l-6.8,6.8l-6.8,-6.8zM1327.6,314.7l6.8,6.8l-6.8,6.8l-6.8,-6.8zM1340.9,307.0l6.8,6.8l-6.8,6.8l-6.8,-6.8zM1353.2,326.3l6.8,6.8l-6.8,6.8l-6.8,-6.8zM1366.1,290.2l6.8,6.8l-6.8,6.8l-6.8,-6.8zM1383.7,309.8l6.8,6.8l-6.8,6.8l-6.8,-6.8z" fill="#9c9b5c" fill-opacity="0.55"/>
<path d="M381.4,220.2 C382.4,222.9 385.2,231.0 387.7,236.6 C390.2,242.3 393.5,249.2 396.5,254.2 C399.4,259.2 402.0,263.0 405.2,266.5 C408.4,270.0 412.2,272.9 415.8,275.2 C419.3,277.6 423.4,279.0 426.3,280.5 C429.2,282.0 431.2,282.2 433.3,284.0 C435.3,285.8 437.1,288.5 438.6,291.0 C440.0,293.5 440.9,297.2 442.1,299.1 C443.2,301.0 444.1,303.6 445.6,302.6 C447.0,301.5 448.5,295.9 450.8,292.8 C453.2,289.7 457.0,286.2 459.6,284.0 C462.2,281.8 464.6,279.1 466.6,279.4 C468.7,279.7 469.8,282.1 471.9,285.8 C473.9,289.4 476.6,296.9 478.9,301.5 C481.2,306.2 483.9,310.6 485.9,313.8 C488.0,317.0 489.4,320.5 491.2,320.8 C492.9,321.1 494.4,317.3 496.4,315.6 C498.5,313.8 500.8,312.6 503.4,310.3 C506.1,308.0 509.3,305.6 512.2,301.5 C515.1,297.4 518.1,291.9 521.0,285.8 C523.9,279.6 526.8,270.0 529.8,264.7 C532.7,259.4 535.9,255.6 538.5,254.2 C541.2,252.7 542.6,254.3 545.5,255.9 C548.5,257.6 552.0,260.5 556.1,264.0 C560.2,267.5 566.0,272.5 570.1,277.0 C574.2,281.5 576.5,285.5 580.6,291.0 C584.7,296.6 590.0,303.9 594.6,310.3 C599.3,316.7 604.0,323.8 608.7,329.6 C613.4,335.4 618.0,340.1 622.7,345.4 C627.4,350.6 632.6,355.9 636.7,361.2 C640.8,366.4 643.8,371.7 647.3,377.0 C650.8,382.2 654.6,388.4 657.8,392.7 C661.0,397.1 663.9,401.2 666.5,403.3 C669.2,405.3 670.9,405.3 673.6,405.0 C676.2,404.7 679.1,403.8 682.3,401.5 C685.5,399.2 689.3,395.7 692.9,391.0 C696.4,386.3 699.9,379.9 703.4,373.4 C706.9,367.0 710.7,357.2 713.9,352.4 C717.1,347.6 720.0,345.7 722.7,344.7 C725.3,343.6 727.1,344.8 729.7,346.1 C732.3,347.4 735.8,349.9 738.5,352.4 C741.1,354.9 742.8,358.1 745.5,361.2 C748.1,364.2 750.7,368.1 754.2,370.6 C757.7,373.2 762.7,374.9 766.5,376.2 C770.3,377.6 773.5,378.2 777.0,378.7 C780.5,379.2 784.6,379.3 787.6,379.1 C790.5,378.8 792.2,378.2 794.6,377.0 C796.9,375.7 799.3,373.0 801.6,371.7 C803.9,370.4 806.0,369.2 808.6,369.2 C811.2,369.2 814.5,371.5 817.4,371.7 C820.3,371.9 822.9,371.2 826.1,370.6 C829.4,370.1 834.4,368.4 836.7,368.2 C839.0,367.9 837.1,370.4 840.0,369.2 C842.9,368.1 849.4,364.9 854.0,361.2 C858.7,357.5 863.4,351.8 868.1,347.1 C872.7,342.5 878.0,336.9 882.1,333.1 C886.2,329.3 889.1,326.0 892.6,324.3 C896.1,322.7 900.2,324.5 903.1,323.3 C906.1,322.1 907.8,319.6 910.2,317.3 C912.5,315.0 915.1,310.5 917.2,309.6 C919.2,308.7 920.1,309.3 922.4,312.1 C924.8,314.8 928.0,320.7 931.2,326.1 C934.4,331.5 938.8,340.8 941.7,344.3 C944.6,347.8 946.4,346.7 948.7,347.1 C951.1,347.6 953.7,345.7 955.8,347.1 C957.8,348.6 959.3,350.9 961.0,355.9 C962.8,360.9 964.7,371.7 966.3,377.0 C967.9,382.2 969.0,385.7 970.5,387.5 C971.9,389.2 973.4,388.6 975.0,387.5 C976.7,386.3 978.3,381.3 980.3,380.5 C982.4,379.6 985.0,383.1 987.3,382.2 C989.7,381.3 992.0,377.5 994.3,375.2 C996.7,372.9 999.3,368.8 1001.4,368.2 C1003.4,367.6 1004.9,368.5 1006.6,371.7 C1008.4,374.9 1010.4,382.5 1011.9,387.5 C1013.3,392.4 1014.0,398.0 1015.4,401.5 C1016.7,405.0 1018.2,408.1 1019.9,408.5 C1021.7,409.0 1023.7,406.9 1025.9,404.3 C1028.1,401.7 1030.6,396.8 1032.9,392.7 C1035.3,388.6 1037.6,383.1 1039.9,379.8 C1042.3,376.4 1044.6,374.0 1047.0,372.4 C1049.3,370.8 1051.6,371.0 1054.0,369.9 C1056.3,368.8 1058.6,367.8 1061.0,365.7 C1063.3,363.7 1066.2,360.0 1068.0,357.7 C1069.8,355.3 1069.8,352.3 1071.5,351.7 C1073.3,351.1 1076.2,353.7 1078.5,354.2 C1080.9,354.6 1083.2,355.6 1085.5,354.2 C1087.9,352.7 1090.2,349.5 1092.6,345.4 C1094.9,341.3 1097.2,334.9 1099.6,329.6 C1101.9,324.3 1104.2,317.6 1106.6,313.8 C1108.9,310.0 1111.3,308.6 1113.6,306.8 C1115.9,305.0 1118.3,305.0 1120.6,303.3 C1123.0,301.5 1125.3,299.5 1127.6,296.3 C1130.0,293.1 1132.3,286.9 1134.6,284.0 C1137.0,281.1 1139.6,279.1 1141.7,278.7 C1143.7,278.3 1145.2,279.5 1146.9,281.5 C1148.7,283.6 1150.4,287.1 1152.2,291.0 C1153.9,294.9 1155.7,302.4 1157.4,305.0 C1159.2,307.7 1161.0,307.7 1162.7,306.8 C1164.5,305.9 1166.5,300.4 1168.0,299.8 C1169.4,299.2 1170.0,301.0 1171.5,303.3 C1172.9,305.6 1174.7,310.9 1176.7,313.8 C1178.8,316.7 1181.4,320.0 1183.8,320.8 C1186.1,321.7 1188.4,320.8 1190.8,319.1 C1193.1,317.3 1195.4,315.0 1197.8,310.3 C1200.1,305.6 1202.2,297.2 1204.8,291.0 C1207.4,284.9 1210.6,277.4 1213.6,273.5 C1216.5,269.6 1219.1,268.1 1222.3,267.5 C1225.5,266.9 1229.3,268.7 1232.9,270.0 C1236.4,271.3 1240.5,273.2 1243.4,275.2 C1246.3,277.3 1248.1,278.7 1250.4,282.2 C1252.7,285.8 1254.8,291.0 1257.4,296.3 C1260.0,301.5 1263.3,307.7 1266.2,313.8 C1269.1,320.0 1272.0,327.3 1274.9,333.1 C1277.9,339.0 1280.8,344.8 1283.7,348.9 C1286.6,353.0 1289.9,356.5 1292.5,357.7 C1295.1,358.8 1296.6,357.7 1299.5,355.9 C1302.4,354.2 1306.5,350.6 1310.0,347.1 C1313.5,343.6 1317.0,338.4 1320.5,334.9 C1324.1,331.4 1327.6,328.5 1331.1,326.1 C1334.6,323.6 1338.1,321.7 1341.6,320.1 C1345.1,318.5 1348.6,317.7 1352.1,316.6 C1355.6,315.6 1359.1,314.6 1362.6,313.8 C1366.1,313.1 1370.2,312.4 1373.2,312.1 C1376.1,311.8 1379.0,312.1 1380.2,312.1" fill="none" stroke="#6b6a3c" stroke-width="3.2" stroke-linejoin="round" stroke-linecap="round"/>
<path d="M313.3,589.4 L322.1,571.9 L331.6,579.6 L341.0,573.3 L350.2,595.7 L358.9,571.9 L368.4,535.0 L377.2,568.4 L385.9,532.6 L395.4,512.2 L404.5,594.7 L414.0,512.2 L422.8,611.5 L432.6,577.1 L442.1,612.2 L450.8,541.4 L459.6,571.9 L469.1,617.5 L478.2,598.2 L487.7,605.2 L496.4,564.9 L505.9,602.7 L523.4,611.2 L531.5,575.4 L538.5,601.7 L544.5,619.2 L551.5,656.1 L557.8,584.9 L565.5,598.2 L570.8,571.9 L577.1,578.9 L583.4,571.9 L591.1,642.0 L596.4,640.3 L602.4,585.9 L608.7,564.9 L617.4,571.9 L622.7,656.1 L629.7,626.2 L636.7,607.0 L643.0,533.3 L649.0,610.5 L656.0,612.2 L663.0,631.5 L669.0,652.6 L675.3,592.9 L682.3,612.2 L694.6,564.2 L701.6,612.2 L708.6,557.8 L720.9,675.4 L726.2,699.9 L733.2,598.2 L740.2,602.7 L750.7,568.4 L757.7,564.2 L763.7,585.9 L769.3,616.8 L775.3,542.1 L781.2,607.0 L787.6,621.0 L793.9,620.3 L799.1,529.1 L805.1,621.0 L812.1,571.9 L817.4,594.7 L829.0,578.9 L841.9,614.0 L840.0,582.4 L841.8,614.0 L847.0,577.1 L852.3,619.2 L859.3,603.4 L864.6,592.9 L871.6,659.6 L889.1,599.2 L909.1,594.7 L928.7,601.7 L948.0,594.7 L967.0,584.2 L987.3,575.4 L1005.6,521.0 L1024.9,592.2 L1045.2,592.9 L1064.5,623.8 L1084.5,631.5 L1098.5,611.2 L1111.8,623.8 L1124.8,579.6 L1138.9,571.9 L1152.2,577.1 L1166.2,567.7 L1179.2,566.6 L1193.2,578.9 L1206.5,556.1 L1219.9,564.2 L1233.6,552.6 L1246.9,577.1 L1260.9,574.3 L1274.2,554.3 L1287.9,540.3 L1301.3,578.2 L1314.6,543.8 L1328.3,521.0 L1341.6,522.8 L1354.9,515.8 L1369.7,562.4" fill="none" stroke="#e2c36e" stroke-width="1.6" stroke-linejoin="round" stroke-linecap="round"/>
<path d="M313.3,582.6l6.8,6.8l-6.8,6.8l-6.8,-6.8zM322.1,565.1l6.8,6.8l-6.8,6.8l-6.8,-6.8zM331.6,572.8l6.8,6.8l-6.8,6.8l-6.8,-6.8zM341.0,566.5l6.8,6.8l-6.8,6.8l-6.8,-6.8zM350.2,588.9l6.8,6.8l-6.8,6.8l-6.8,-6.8zM358.9,565.1l6.8,6.8l-6.8,6.8l-6.8,-6.8zM368.4,528.2l6.8,6.8l-6.8,6.8l-6.8,-6.8zM377.2,561.6l6.8,6.8l-6.8,6.8l-6.8,-6.8zM385.9,525.8l6.8,6.8l-6.8,6.8l-6.8,-6.8zM395.4,505.4l6.8,6.8l-6.8,6.8l-6.8,-6.8zM404.5,587.9l6.8,6.8l-6.8,6.8l-6.8,-6.8zM414.0,505.4l6.8,6.8l-6.8,6.8l-6.8,-6.8zM422.8,604.7l6.8,6.8l-6.8,6.8l-6.8,-6.8zM432.6,570.3l6.8,6.8l-6.8,6.8l-6.8,-6.8zM442.1,605.4l6.8,6.8l-6.8,6.8l-6.8,-6.8zM450.8,534.6l6.8,6.8l-6.8,6.8l-6.8,-6.8zM459.6,565.1l6.8,6.8l-6.8,6.8l-6.8,-6.8zM469.1,610.7l6.8,6.8l-6.8,6.8l-6.8,-6.8zM478.2,591.4l6.8,6.8l-6.8,6.8l-6.8,-6.8zM487.7,598.4l6.8,6.8l-6.8,6.8l-6.8,-6.8zM496.4,558.1l6.8,6.8l-6.8,6.8l-6.8,-6.8zM505.9,595.9l6.8,6.8l-6.8,6.8l-6.8,-6.8zM523.4,604.4l6.8,6.8l-6.8,6.8l-6.8,-6.8zM531.5,568.6l6.8,6.8l-6.8,6.8l-6.8,-6.8zM538.5,594.9l6.8,6.8l-6.8,6.8l-6.8,-6.8zM544.5,612.4l6.8,6.8l-6.8,6.8l-6.8,-6.8zM551.5,649.3l6.8,6.8l-6.8,6.8l-6.8,-6.8zM557.8,578.1l6.8,6.8l-6.8,6.8l-6.8,-6.8zM565.5,591.4l6.8,6.8l-6.8,6.8l-6.8,-6.8zM570.8,565.1l6.8,6.8l-6.8,6.8l-6.8,-6.8zM577.1,572.1l6.8,6.8l-6.8,6.8l-6.8,-6.8zM583.4,565.1l6.8,6.8l-6.8,6.8l-6.8,-6.8zM591.1,635.2l6.8,6.8l-6.8,6.8l-6.8,-6.8zM596.4,633.5l6.8,6.8l-6.8,6.8l-6.8,-6.8zM602.4,579.1l6.8,6.8l-6.8,6.8l-6.8,-6.8zM608.7,558.1l6.8,6.8l-6.8,6.8l-6.8,-6.8zM617.4,565.1l6.8,6.8l-6.8,6.8l-6.8,-6.8zM622.7,649.3l6.8,6.8l-6.8,6.8l-6.8,-6.8zM629.7,619.4l6.8,6.8l-6.8,6.8l-6.8,-6.8zM636.7,600.2l6.8,6.8l-6.8,6.8l-6.8,-6.8zM643.0,526.5l6.8,6.8l-6.8,6.8l-6.8,-6.8zM649.0,603.7l6.8,6.8l-6.8,6.8l-6.8,-6.8zM656.0,605.4l6.8,6.8l-6.8,6.8l-6.8,-6.8zM663.0,624.7l6.8,6.8l-6.8,6.8l-6.8,-6.8zM669.0,645.8l6.8,6.8l-6.8,6.8l-6.8,-6.8zM675.3,586.1l6.8,6.8l-6.8,6.8l-6.8,-6.8zM682.3,605.4l6.8,6.8l-6.8,6.8l-6.8,-6.8zM694.6,557.4l6.8,6.8l-6.8,6.8l-6.8,-6.8zM701.6,605.4l6.8,6.8l-6.8,6.8l-6.8,-6.8zM708.6,551.0l6.8,6.8l-6.8,6.8l-6.8,-6.8zM720.9,668.6l6.8,6.8l-6.8,6.8l-6.8,-6.8zM726.2,693.1l6.8,6.8l-6.8,6.8l-6.8,-6.8zM733.2,591.4l6.8,6.8l-6.8,6.8l-6.8,-6.8zM740.2,595.9l6.8,6.8l-6.8,6.8l-6.8,-6.8zM750.7,561.6l6.8,6.8l-6.8,6.8l-6.8,-6.8zM757.7,557.4l6.8,6.8l-6.8,6.8l-6.8,-6.8zM763.7,579.1l6.8,6.8l-6.8,6.8l-6.8,-6.8zM769.3,610.0l6.8,6.8l-6.8,6.8l-6.8,-6.8zM775.3,535.3l6.8,6.8l-6.8,6.8l-6.8,-6.8zM781.2,600.2l6.8,6.8l-6.8,6.8l-6.8,-6.8zM787.6,614.2l6.8,6.8l-6.8,6.8l-6.8,-6.8zM793.9,613.5l6.8,6.8l-6.8,6.8l-6.8,-6.8zM799.1,522.3l6.8,6.8l-6.8,6.8l-6.8,-6.8zM805.1,614.2l6.8,6.8l-6.8,6.8l-6.8,-6.8zM812.1,565.1l6.8,6.8l-6.8,6.8l-6.8,-6.8zM817.4,587.9l6.8,6.8l-6.8,6.8l-6.8,-6.8zM829.0,572.1l6.8,6.8l-6.8,6.8l-6.8,-6.8zM841.9,607.2l6.8,6.8l-6.8,6.8l-6.8,-6.8zM840.0,575.6l6.8,6.8l-6.8,6.8l-6.8,-6.8zM841.8,607.2l6.8,6.8l-6.8,6.8l-6.8,-6.8zM847.0,570.3l6.8,6.8l-6.8,6.8l-6.8,-6.8zM852.3,612.4l6.8,6.8l-6.8,6.8l-6.8,-6.8zM859.3,596.6l6.8,6.8l-6.8,6.8l-6.8,-6.8zM864.6,586.1l6.8,6.8l-6.8,6.8l-6.8,-6.8zM871.6,652.8l6.8,6.8l-6.8,6.8l-6.8,-6.8zM889.1,592.4l6.8,6.8l-6.8,6.8l-6.8,-6.8zM909.1,587.9l6.8,6.8l-6.8,6.8l-6.8,-6.8zM928.7,594.9l6.8,6.8l-6.8,6.8l-6.8,-6.8zM948.0,587.9l6.8,6.8l-6.8,6.8l-6.8,-6.8zM967.0,577.4l6.8,6.8l-6.8,6.8l-6.8,-6.8zM987.3,568.6l6.8,6.8l-6.8,6.8l-6.8,-6.8zM1005.6,514.2l6.8,6.8l-6.8,6.8l-6.8,-6.8zM1024.9,585.4l6.8,6.8l-6.8,6.8l-6.8,-6.8zM1045.2,586.1l6.8,6.8l-6.8,6.8l-6.8,-6.8zM1064.5,617.0l6.8,6.8l-6.8,6.8l-6.8,-6.8zM1084.5,624.7l6.8,6.8l-6.8,6.8l-6.8,-6.8zM1098.5,604.4l6.8,6.8l-6.8,6.8l-6.8,-6.8zM1111.8,617.0l6.8,6.8l-6.8,6.8l-6.8,-6.8zM1124.8,572.8l6.8,6.8l-6.8,6.8l-6.8,-6.8zM1138.9,565.1l6.8,6.8l-6.8,6.8l-6.8,-6.8zM1152.2,570.3l6.8,6.8l-6.8,6.8l-6.8,-6.8zM1166.2,560.9l6.8,6.8l-6.8,6.8l-6.8,-6.8zM1179.2,559.8l6.8,6.8l-6.8,6.8l-6.8,-6.8zM1193.2,572.1l6.8,6.8l-6.8,6.8l-6.8,-6.8zM1206.5,549.3l6.8,6.8l-6.8,6.8l-6.8,-6.8zM1219.9,557.4l6.8,6.8l-6.8,6.8l-6.8,-6.8zM1233.6,545.8l6.8,6.8l-6.8,6.8l-6.8,-6.8zM1246.9,570.3l6.8,6.8l-6.8,6.8l-6.8,-6.8zM1260.9,567.5l6.8,6.8l-6.8,6.8l-6.8,-6.8zM1274.2,547.5l6.8,6.8l-6.8,6.8l-6.8,-6.8zM1287.9,533.5l6.8,6.8l-6.8,6.8l-6.8,-6.8zM1301.3,571.4l6.8,6.8l-6.8,6.8l-6.8,-6.8zM1314.6,537.0l6.8,6.8l-6.8,6.8l-6.8,-6.8zM1328.3,514.2l6.8,6.8l-6.8,6.8l-6.8,-6.8zM1341.6,516.0l6.8,6.8l-6.8,6.8l-6.8,-6.8zM1354.9,509.0l6.8,6.8l-6.8,6.8l-6.8,-6.8zM1369.7,555.6l6.8,6.8l-6.8,6.8l-6.8,-6.8z" fill="#d8b85c" fill-opacity="0.6"/>
<path d="M313.3,581.3 C315.2,581.5 320.9,582.3 324.6,582.4 C328.2,582.5 331.6,582.3 335.1,581.7 C338.6,581.1 342.1,580.2 345.6,578.9 C349.1,577.5 352.6,576.3 356.1,573.6 C359.6,571.0 363.4,566.7 366.6,563.1 C369.9,559.5 372.5,555.4 375.4,551.9 C378.3,548.4 381.4,543.9 384.2,542.1 C386.9,540.2 389.3,540.4 391.9,541.0 C394.5,541.6 397.2,542.8 400.0,545.6 C402.8,548.4 406.1,553.5 408.7,557.8 C411.4,562.2 413.4,568.0 415.8,571.9 C418.1,575.8 419.8,579.3 422.8,581.3 C425.7,583.4 429.8,584.3 433.3,584.2 C436.8,584.0 440.9,581.2 443.8,580.6 C446.7,580.1 447.9,579.9 450.8,580.6 C453.8,581.3 457.8,583.1 461.4,584.9 C464.9,586.6 468.4,589.4 471.9,591.2 C475.4,592.9 478.9,594.9 482.4,595.4 C485.9,595.8 489.4,594.6 492.9,594.0 C496.4,593.4 499.9,592.2 503.4,591.9 C507.0,591.5 510.5,591.4 514.0,591.9 C517.5,592.3 521.0,592.7 524.5,594.7 C528.0,596.6 531.5,599.8 535.0,603.4 C538.5,607.1 542.8,614.0 545.5,616.8 C548.3,619.5 549.5,621.9 551.5,619.9 C553.5,618.0 555.3,610.9 557.8,605.2 C560.3,599.5 564.0,589.8 566.6,585.9 C569.2,582.0 571.3,581.8 573.6,581.7 C575.9,581.6 578.6,581.9 580.6,585.2 C582.7,588.5 584.4,596.9 585.9,601.7 C587.3,606.5 587.6,612.2 589.4,614.0 C591.1,615.7 594.1,614.6 596.4,612.2 C598.7,609.9 601.1,603.4 603.4,599.9 C605.8,596.4 608.1,590.6 610.4,591.2 C612.8,591.8 615.4,599.9 617.4,603.4 C619.5,607.0 621.0,611.0 622.7,612.2 C624.5,613.4 625.9,613.1 628.0,610.5 C630.0,607.8 632.6,600.5 635.0,596.4 C637.3,592.3 639.7,585.3 642.0,585.9 C644.3,586.5 646.7,595.6 649.0,599.9 C651.3,604.3 653.7,608.1 656.0,612.2 C658.4,616.3 661.0,621.4 663.0,624.5 C665.1,627.6 666.3,631.7 668.3,630.8 C670.3,629.9 673.0,623.8 675.3,619.2 C677.7,614.7 680.0,609.0 682.3,603.4 C684.7,597.9 687.3,591.8 689.3,585.9 C691.4,580.1 692.9,569.8 694.6,568.4 C696.4,566.9 697.8,572.5 699.9,577.1 C701.9,581.8 704.5,589.1 706.9,596.4 C709.2,603.7 711.6,612.8 713.9,621.0 C716.2,629.2 719.2,639.4 720.9,645.5 C722.7,651.7 723.0,656.6 724.4,657.8 C725.9,659.0 727.9,658.1 729.7,652.6 C731.4,647.0 733.2,633.3 734.9,624.5 C736.7,615.7 738.5,606.7 740.2,599.9 C742.0,593.2 743.4,588.5 745.5,584.2 C747.5,579.8 750.1,574.8 752.5,573.6 C754.8,572.5 757.2,575.4 759.5,577.1 C761.8,578.9 764.2,581.5 766.5,584.2 C768.9,586.8 771.2,590.4 773.5,592.9 C775.9,595.4 777.9,598.3 780.5,599.2 C783.2,600.2 786.4,599.9 789.3,598.5 C792.2,597.2 795.2,593.9 798.1,591.2 C801.0,588.5 803.9,583.7 806.9,582.4 C809.8,581.1 812.4,583.2 815.6,583.1 C818.8,583.0 822.6,581.2 826.1,581.7 C829.7,582.2 834.4,584.3 836.7,585.9 C839.0,587.5 837.7,587.7 840.0,591.2 C842.3,594.7 846.4,602.6 850.5,607.0 C854.6,611.3 860.5,615.8 864.6,617.5 C868.6,619.1 871.0,617.6 875.1,616.8 C879.2,615.9 884.4,614.7 889.1,612.2 C893.8,609.7 898.5,604.0 903.1,601.7 C907.8,599.4 912.5,598.7 917.2,598.2 C921.8,597.7 926.5,599.2 931.2,598.9 C935.9,598.6 940.6,598.6 945.2,596.4 C949.9,594.3 954.6,589.4 959.3,585.9 C963.9,582.4 968.6,578.6 973.3,575.4 C978.0,572.2 982.6,569.1 987.3,566.6 C992.0,564.2 997.3,561.4 1001.4,560.7 C1005.4,559.9 1008.4,560.5 1011.9,562.1 C1015.4,563.6 1018.3,566.4 1022.4,570.1 C1026.5,573.8 1031.8,579.2 1036.4,584.2 C1041.1,589.1 1045.8,595.0 1050.5,599.9 C1055.1,604.9 1060.4,610.3 1064.5,614.0 C1068.6,617.6 1071.5,619.9 1075.0,621.7 C1078.5,623.4 1082.0,624.7 1085.5,624.5 C1089.0,624.3 1092.0,622.7 1096.1,620.3 C1100.2,617.8 1105.4,614.3 1110.1,609.8 C1114.8,605.2 1119.4,598.1 1124.1,592.9 C1128.8,587.8 1133.5,582.5 1138.2,578.9 C1142.8,575.3 1147.5,572.9 1152.2,571.2 C1156.9,569.4 1161.5,568.5 1166.2,568.4 C1170.9,568.2 1176.2,570.1 1180.2,570.1 C1184.3,570.1 1186.7,569.2 1190.8,568.4 C1194.9,567.5 1200.1,565.9 1204.8,564.9 C1209.5,563.8 1214.1,562.1 1218.8,562.1 C1223.5,562.1 1228.2,564.1 1232.9,564.9 C1237.5,565.6 1242.2,566.5 1246.9,566.6 C1251.6,566.7 1256.2,566.1 1260.9,565.6 C1265.6,565.0 1270.3,564.4 1274.9,563.1 C1279.6,561.8 1284.3,560.2 1289.0,557.8 C1293.7,555.5 1298.3,552.0 1303.0,549.1 C1307.7,546.2 1312.9,542.9 1317.0,540.3 C1321.1,537.7 1324.1,534.9 1327.6,533.3 C1331.1,531.7 1334.6,531.0 1338.1,530.8 C1341.6,530.7 1345.1,531.1 1348.6,532.2 C1352.1,533.4 1355.6,535.5 1359.1,537.9 C1362.6,540.2 1367.9,545.2 1369.7,546.6" fill="none" stroke="#c39b02" stroke-width="3.3" stroke-linejoin="round" stroke-linecap="round"/>
<path d="M313.3,502.4 L322.1,526.3 L331.6,509.4 L341.0,539.6 L350.2,490.5 L358.9,529.8 L368.4,484.9 L377.2,523.5 L385.9,550.8 L395.4,490.5 L404.5,501.7 L414.0,537.9 L422.8,477.2 L432.6,501.0 L442.1,521.0 L450.8,510.5 L459.6,504.5 L469.1,494.0 L478.2,511.5 L487.7,512.2 L496.4,504.2 L505.9,533.3 L523.4,468.8 L531.5,528.0 L538.5,475.4 L544.5,508.7 L551.5,456.1 L559.6,485.9 L566.6,489.4 L573.6,490.5 L578.9,493.0 L583.4,522.1 L591.1,485.9 L596.4,445.6 L603.4,428.1 L608.7,487.7 L617.4,494.7 L622.7,530.5 L629.7,522.8 L636.0,505.2 L643.0,540.3 L649.0,563.5 L656.0,504.5 L663.0,534.3 L669.0,514.0 L675.3,510.5 L682.3,497.5 L687.6,547.3 L694.6,577.1 L701.6,571.9 L708.6,566.6 L720.9,597.5 L726.2,647.3 L733.2,508.7 L738.5,543.1 L744.8,512.9 L752.5,561.4 L761.3,545.6 L769.3,494.0 L775.3,526.3 L781.2,494.0 L787.6,540.3 L793.9,553.3 L799.1,493.0 L805.1,462.4 L812.1,501.0 L817.4,552.6 L824.4,522.8 L829.0,578.2 L841.9,536.8 L841.8,536.8 L848.8,561.4 L855.8,566.6 L865.3,515.1 L871.6,637.8 L889.1,571.9 L909.1,555.0 L928.7,567.7 L948.0,547.3 L967.0,518.6 L987.3,491.2 L1005.6,521.0 L1024.9,537.5 L1045.2,550.8 L1064.5,554.3 L1084.5,529.1 L1098.5,547.3 L1111.8,535.0 L1124.8,523.5 L1138.9,496.5 L1152.2,553.3 L1166.2,490.5 L1179.2,520.0 L1193.2,402.8 L1206.5,551.5 L1219.9,506.3 L1233.6,479.6 L1246.9,494.0 L1260.9,449.1 L1274.2,502.4 L1287.9,389.5 L1301.3,426.3 L1314.6,515.1 L1328.3,407.7 L1341.6,419.3 L1354.9,422.8 L1369.7,455.1" fill="none" stroke="#1f7a4a" stroke-width="1.9" stroke-linejoin="round" stroke-linecap="round"/>
<path d="M313.3,495.4l7.0,7.0l-7.0,7.0l-7.0,-7.0zM322.1,519.3l7.0,7.0l-7.0,7.0l-7.0,-7.0zM331.6,502.4l7.0,7.0l-7.0,7.0l-7.0,-7.0zM341.0,532.6l7.0,7.0l-7.0,7.0l-7.0,-7.0zM350.2,483.5l7.0,7.0l-7.0,7.0l-7.0,-7.0zM358.9,522.8l7.0,7.0l-7.0,7.0l-7.0,-7.0zM368.4,477.9l7.0,7.0l-7.0,7.0l-7.0,-7.0zM377.2,516.5l7.0,7.0l-7.0,7.0l-7.0,-7.0zM385.9,543.8l7.0,7.0l-7.0,7.0l-7.0,-7.0zM395.4,483.5l7.0,7.0l-7.0,7.0l-7.0,-7.0zM404.5,494.7l7.0,7.0l-7.0,7.0l-7.0,-7.0zM414.0,530.9l7.0,7.0l-7.0,7.0l-7.0,-7.0zM422.8,470.2l7.0,7.0l-7.0,7.0l-7.0,-7.0zM432.6,494.0l7.0,7.0l-7.0,7.0l-7.0,-7.0zM442.1,514.0l7.0,7.0l-7.0,7.0l-7.0,-7.0zM450.8,503.5l7.0,7.0l-7.0,7.0l-7.0,-7.0zM459.6,497.5l7.0,7.0l-7.0,7.0l-7.0,-7.0zM469.1,487.0l7.0,7.0l-7.0,7.0l-7.0,-7.0zM478.2,504.5l7.0,7.0l-7.0,7.0l-7.0,-7.0zM487.7,505.2l7.0,7.0l-7.0,7.0l-7.0,-7.0zM496.4,497.2l7.0,7.0l-7.0,7.0l-7.0,-7.0zM505.9,526.3l7.0,7.0l-7.0,7.0l-7.0,-7.0zM523.4,461.8l7.0,7.0l-7.0,7.0l-7.0,-7.0zM531.5,521.0l7.0,7.0l-7.0,7.0l-7.0,-7.0zM538.5,468.4l7.0,7.0l-7.0,7.0l-7.0,-7.0zM544.5,501.7l7.0,7.0l-7.0,7.0l-7.0,-7.0zM551.5,449.1l7.0,7.0l-7.0,7.0l-7.0,-7.0zM559.6,478.9l7.0,7.0l-7.0,7.0l-7.0,-7.0zM566.6,482.4l7.0,7.0l-7.0,7.0l-7.0,-7.0zM573.6,483.5l7.0,7.0l-7.0,7.0l-7.0,-7.0zM578.9,486.0l7.0,7.0l-7.0,7.0l-7.0,-7.0zM583.4,515.1l7.0,7.0l-7.0,7.0l-7.0,-7.0zM591.1,478.9l7.0,7.0l-7.0,7.0l-7.0,-7.0zM596.4,438.6l7.0,7.0l-7.0,7.0l-7.0,-7.0zM603.4,421.1l7.0,7.0l-7.0,7.0l-7.0,-7.0zM608.7,480.7l7.0,7.0l-7.0,7.0l-7.0,-7.0zM617.4,487.7l7.0,7.0l-7.0,7.0l-7.0,-7.0zM622.7,523.5l7.0,7.0l-7.0,7.0l-7.0,-7.0zM629.7,515.8l7.0,7.0l-7.0,7.0l-7.0,-7.0zM636.0,498.2l7.0,7.0l-7.0,7.0l-7.0,-7.0zM643.0,533.3l7.0,7.0l-7.0,7.0l-7.0,-7.0zM649.0,556.5l7.0,7.0l-7.0,7.0l-7.0,-7.0zM656.0,497.5l7.0,7.0l-7.0,7.0l-7.0,-7.0zM663.0,527.3l7.0,7.0l-7.0,7.0l-7.0,-7.0zM669.0,507.0l7.0,7.0l-7.0,7.0l-7.0,-7.0zM675.3,503.5l7.0,7.0l-7.0,7.0l-7.0,-7.0zM682.3,490.5l7.0,7.0l-7.0,7.0l-7.0,-7.0zM687.6,540.3l7.0,7.0l-7.0,7.0l-7.0,-7.0zM694.6,570.1l7.0,7.0l-7.0,7.0l-7.0,-7.0zM701.6,564.9l7.0,7.0l-7.0,7.0l-7.0,-7.0zM708.6,559.6l7.0,7.0l-7.0,7.0l-7.0,-7.0zM720.9,590.5l7.0,7.0l-7.0,7.0l-7.0,-7.0zM726.2,640.3l7.0,7.0l-7.0,7.0l-7.0,-7.0zM733.2,501.7l7.0,7.0l-7.0,7.0l-7.0,-7.0zM738.5,536.1l7.0,7.0l-7.0,7.0l-7.0,-7.0zM744.8,505.9l7.0,7.0l-7.0,7.0l-7.0,-7.0zM752.5,554.4l7.0,7.0l-7.0,7.0l-7.0,-7.0zM761.3,538.6l7.0,7.0l-7.0,7.0l-7.0,-7.0zM769.3,487.0l7.0,7.0l-7.0,7.0l-7.0,-7.0zM775.3,519.3l7.0,7.0l-7.0,7.0l-7.0,-7.0zM781.2,487.0l7.0,7.0l-7.0,7.0l-7.0,-7.0zM787.6,533.3l7.0,7.0l-7.0,7.0l-7.0,-7.0zM793.9,546.3l7.0,7.0l-7.0,7.0l-7.0,-7.0zM799.1,486.0l7.0,7.0l-7.0,7.0l-7.0,-7.0zM805.1,455.4l7.0,7.0l-7.0,7.0l-7.0,-7.0zM812.1,494.0l7.0,7.0l-7.0,7.0l-7.0,-7.0zM817.4,545.6l7.0,7.0l-7.0,7.0l-7.0,-7.0zM824.4,515.8l7.0,7.0l-7.0,7.0l-7.0,-7.0zM829.0,571.2l7.0,7.0l-7.0,7.0l-7.0,-7.0zM841.9,529.8l7.0,7.0l-7.0,7.0l-7.0,-7.0zM841.8,529.8l7.0,7.0l-7.0,7.0l-7.0,-7.0zM848.8,554.4l7.0,7.0l-7.0,7.0l-7.0,-7.0zM855.8,559.6l7.0,7.0l-7.0,7.0l-7.0,-7.0zM865.3,508.1l7.0,7.0l-7.0,7.0l-7.0,-7.0zM871.6,630.8l7.0,7.0l-7.0,7.0l-7.0,-7.0zM889.1,564.9l7.0,7.0l-7.0,7.0l-7.0,-7.0zM909.1,548.0l7.0,7.0l-7.0,7.0l-7.0,-7.0zM928.7,560.7l7.0,7.0l-7.0,7.0l-7.0,-7.0zM948.0,540.3l7.0,7.0l-7.0,7.0l-7.0,-7.0zM967.0,511.6l7.0,7.0l-7.0,7.0l-7.0,-7.0zM987.3,484.2l7.0,7.0l-7.0,7.0l-7.0,-7.0zM1005.6,514.0l7.0,7.0l-7.0,7.0l-7.0,-7.0zM1024.9,530.5l7.0,7.0l-7.0,7.0l-7.0,-7.0zM1045.2,543.8l7.0,7.0l-7.0,7.0l-7.0,-7.0zM1064.5,547.3l7.0,7.0l-7.0,7.0l-7.0,-7.0zM1084.5,522.1l7.0,7.0l-7.0,7.0l-7.0,-7.0zM1098.5,540.3l7.0,7.0l-7.0,7.0l-7.0,-7.0zM1111.8,528.0l7.0,7.0l-7.0,7.0l-7.0,-7.0zM1124.8,516.5l7.0,7.0l-7.0,7.0l-7.0,-7.0zM1138.9,489.5l7.0,7.0l-7.0,7.0l-7.0,-7.0zM1152.2,546.3l7.0,7.0l-7.0,7.0l-7.0,-7.0zM1166.2,483.5l7.0,7.0l-7.0,7.0l-7.0,-7.0zM1179.2,513.0l7.0,7.0l-7.0,7.0l-7.0,-7.0zM1193.2,395.8l7.0,7.0l-7.0,7.0l-7.0,-7.0zM1206.5,544.5l7.0,7.0l-7.0,7.0l-7.0,-7.0zM1219.9,499.3l7.0,7.0l-7.0,7.0l-7.0,-7.0zM1233.6,472.6l7.0,7.0l-7.0,7.0l-7.0,-7.0zM1246.9,487.0l7.0,7.0l-7.0,7.0l-7.0,-7.0zM1260.9,442.1l7.0,7.0l-7.0,7.0l-7.0,-7.0zM1274.2,495.4l7.0,7.0l-7.0,7.0l-7.0,-7.0zM1287.9,382.5l7.0,7.0l-7.0,7.0l-7.0,-7.0zM1301.3,419.3l7.0,7.0l-7.0,7.0l-7.0,-7.0zM1314.6,508.1l7.0,7.0l-7.0,7.0l-7.0,-7.0zM1328.3,400.7l7.0,7.0l-7.0,7.0l-7.0,-7.0zM1341.6,412.3l7.0,7.0l-7.0,7.0l-7.0,-7.0zM1354.9,415.8l7.0,7.0l-7.0,7.0l-7.0,-7.0zM1369.7,448.1l7.0,7.0l-7.0,7.0l-7.0,-7.0z" fill="#1f7a4a" fill-opacity="0.75"/>
<path d="M313.3,510.5 C314.6,511.1 318.0,513.1 321.0,514.0 C324.1,514.9 328.1,515.8 331.6,515.8 C335.1,515.8 338.6,514.7 342.1,514.0 C345.6,513.3 349.7,512.2 352.6,511.5 C355.5,510.8 357.3,509.8 359.6,509.8 C362.0,509.8 364.3,510.7 366.6,511.5 C369.0,512.4 370.7,514.1 373.7,515.1 C376.6,516.0 380.7,517.3 384.2,517.5 C387.7,517.7 391.2,517.4 394.7,516.5 C398.2,515.5 401.7,513.3 405.2,511.5 C408.7,509.8 412.8,507.2 415.8,505.9 C418.7,504.6 419.8,503.9 422.8,503.8 C425.7,503.7 429.2,504.6 433.3,505.2 C437.4,505.8 443.2,507.2 447.3,507.3 C451.4,507.5 454.3,506.5 457.8,505.9 C461.4,505.4 464.9,503.7 468.4,504.2 C471.9,504.6 475.4,507.3 478.9,508.7 C482.4,510.2 486.2,511.9 489.4,512.9 C492.6,514.0 495.3,515.3 498.2,515.1 C501.1,514.8 503.7,513.5 507.0,511.5 C510.2,509.6 514.0,506.4 517.5,503.5 C521.0,500.6 524.5,496.3 528.0,494.0 C531.5,491.7 535.6,491.1 538.5,489.4 C541.4,487.8 543.2,485.8 545.5,484.2 C547.9,482.6 550.2,480.4 552.6,480.0 C554.9,479.5 557.2,480.1 559.6,481.4 C561.9,482.7 564.2,485.5 566.6,487.7 C568.9,489.9 571.6,492.5 573.6,494.7 C575.6,496.9 577.1,501.0 578.9,501.0 C580.6,501.0 582.1,498.1 584.1,494.7 C586.2,491.3 589.1,485.1 591.1,480.7 C593.2,476.3 594.8,471.7 596.4,468.4 C598.0,465.1 599.1,461.1 600.6,460.7 C602.1,460.3 603.5,463.2 605.2,465.9 C606.8,468.7 608.7,473.0 610.4,477.2 C612.2,481.4 613.9,486.8 615.7,491.2 C617.4,495.6 618.9,499.1 621.0,503.5 C623.0,507.9 625.6,513.6 628.0,517.5 C630.3,521.4 632.4,524.5 635.0,527.0 C637.6,529.5 640.8,531.4 643.8,532.6 C646.7,533.8 649.9,534.8 652.5,534.3 C655.1,533.9 657.2,532.9 659.5,529.8 C661.9,526.7 664.5,518.8 666.5,515.8 C668.6,512.7 670.1,511.8 671.8,511.5 C673.6,511.3 675.3,511.5 677.1,514.0 C678.8,516.5 680.3,521.3 682.3,526.3 C684.4,531.2 687.0,538.0 689.3,543.8 C691.7,549.7 694.0,556.1 696.4,561.4 C698.7,566.6 700.7,571.0 703.4,575.4 C706.0,579.8 709.5,584.7 712.1,587.7 C714.8,590.6 716.8,592.9 719.2,592.9 C721.5,592.9 723.8,591.5 726.2,587.7 C728.5,583.9 730.9,576.8 733.2,570.1 C735.5,563.4 738.2,553.5 740.2,547.3 C742.3,541.2 743.7,535.7 745.5,533.3 C747.2,530.8 749.0,531.5 750.7,532.6 C752.5,533.6 753.9,539.8 756.0,539.6 C758.0,539.4 760.8,534.9 763.0,531.5 C765.2,528.1 767.3,522.2 769.3,519.3 C771.4,516.3 773.1,513.5 775.3,514.0 C777.5,514.5 780.3,520.1 782.3,522.1 C784.3,524.0 785.5,526.6 787.6,525.6 C789.6,524.5 792.2,519.1 794.6,515.8 C796.9,512.4 799.4,508.0 801.6,505.2 C803.8,502.5 805.9,499.3 807.9,499.3 C810.0,499.3 812.0,501.6 813.9,505.2 C815.7,508.9 817.1,515.2 819.1,521.0 C821.2,526.9 823.8,534.8 826.1,540.3 C828.5,545.9 830.5,551.4 833.2,554.3 C835.8,557.3 840.8,557.3 841.9,557.8 C843.1,558.4 838.9,558.7 840.0,557.8 C841.1,557.0 846.4,552.9 848.8,552.6 C851.1,552.3 852.0,553.5 854.0,556.1 C856.1,558.7 858.7,564.9 861.0,568.4 C863.4,571.9 865.1,575.1 868.1,577.1 C871.0,579.2 875.1,580.2 878.6,580.6 C882.1,581.1 885.0,580.8 889.1,579.6 C893.2,578.4 897.9,576.4 903.1,573.6 C908.4,570.9 914.8,567.2 920.7,563.1 C926.5,559.0 932.4,554.3 938.2,549.1 C944.1,543.8 950.5,536.8 955.8,531.5 C961.0,526.3 965.7,520.8 969.8,517.5 C973.9,514.2 976.8,512.7 980.3,511.5 C983.8,510.4 987.3,510.1 990.8,510.5 C994.3,510.9 997.3,511.7 1001.4,514.0 C1005.4,516.3 1010.7,520.7 1015.4,524.5 C1020.1,528.3 1024.7,533.5 1029.4,536.8 C1034.1,540.1 1038.8,542.8 1043.4,544.5 C1048.1,546.3 1052.8,547.0 1057.5,547.3 C1062.2,547.7 1066.8,547.5 1071.5,546.6 C1076.2,545.7 1080.9,544.0 1085.5,542.1 C1090.2,540.1 1094.9,537.1 1099.6,535.0 C1104.2,533.0 1108.9,531.5 1113.6,529.8 C1118.3,528.0 1122.4,526.3 1127.6,524.5 C1132.9,522.8 1140.5,521.3 1145.2,519.3 C1149.8,517.2 1152.2,515.5 1155.7,512.2 C1159.2,509.0 1162.7,503.4 1166.2,500.0 C1169.7,496.6 1173.2,493.9 1176.7,491.9 C1180.2,489.9 1183.8,488.4 1187.3,487.7 C1190.8,487.0 1194.3,487.0 1197.8,487.7 C1201.3,488.4 1204.8,490.4 1208.3,491.9 C1211.8,493.4 1215.3,495.7 1218.8,496.5 C1222.3,497.2 1225.8,497.0 1229.3,496.5 C1232.9,495.9 1236.4,495.0 1239.9,493.0 C1243.4,490.9 1246.9,488.3 1250.4,484.2 C1253.9,480.1 1256.8,473.8 1260.9,468.4 C1265.0,463.0 1270.3,455.4 1274.9,451.9 C1279.6,448.4 1284.3,448.9 1289.0,447.4 C1293.7,445.8 1298.3,444.3 1303.0,442.8 C1307.7,441.3 1312.4,439.9 1317.0,438.6 C1321.7,437.3 1326.4,435.7 1331.1,435.1 C1335.7,434.5 1340.4,434.8 1345.1,435.1 C1349.8,435.4 1355.0,436.0 1359.1,436.8 C1363.2,437.7 1367.9,439.8 1369.7,440.3" fill="none" stroke="#0b4a22" stroke-width="3.3" stroke-linejoin="round" stroke-linecap="round"/>
<path d="M306.3,800.0l6.6,6.6l-6.6,6.6l-6.6,-6.6zM312.3,810.5l6.6,6.6l-6.6,6.6l-6.6,-6.6zM317.5,832.6l6.6,6.6l-6.6,6.6l-6.6,-6.6zM322.8,807.0l6.6,6.6l-6.6,6.6l-6.6,-6.6zM328.1,814.0l6.6,6.6l-6.6,6.6l-6.6,-6.6zM333.3,812.3l6.6,6.6l-6.6,6.6l-6.6,-6.6zM338.6,803.5l6.6,6.6l-6.6,6.6l-6.6,-6.6zM343.8,798.3l6.6,6.6l-6.6,6.6l-6.6,-6.6zM349.1,805.3l6.6,6.6l-6.6,6.6l-6.6,-6.6zM355.1,826.3l6.6,6.6l-6.6,6.6l-6.6,-6.6zM365.9,784.9l6.6,6.6l-6.6,6.6l-6.6,-6.6zM371.9,795.5l6.6,6.6l-6.6,6.6l-6.6,-6.6zM377.2,815.1l6.6,6.6l-6.6,6.6l-6.6,-6.6zM383.1,803.5l6.6,6.6l-6.6,6.6l-6.6,-6.6zM388.7,798.3l6.6,6.6l-6.6,6.6l-6.6,-6.6zM393.0,803.5l6.6,6.6l-6.6,6.6l-6.6,-6.6zM398.2,782.5l6.6,6.6l-6.6,6.6l-6.6,-6.6zM404.2,821.8l6.6,6.6l-6.6,6.6l-6.6,-6.6zM409.8,750.9l6.6,6.6l-6.6,6.6l-6.6,-6.6zM415.1,844.9l6.6,6.6l-6.6,6.6l-6.6,-6.6zM420.3,778.3l6.6,6.6l-6.6,6.6l-6.6,-6.6zM425.6,804.2l6.6,6.6l-6.6,6.6l-6.6,-6.6zM430.8,796.5l6.6,6.6l-6.6,6.6l-6.6,-6.6zM436.1,801.8l6.6,6.6l-6.6,6.6l-6.6,-6.6zM442.1,794.1l6.6,6.6l-6.6,6.6l-6.6,-6.6zM447.3,821.8l6.6,6.6l-6.6,6.6l-6.6,-6.6zM453.3,796.5l6.6,6.6l-6.6,6.6l-6.6,-6.6zM458.5,803.5l6.6,6.6l-6.6,6.6l-6.6,-6.6zM463.8,807.0l6.6,6.6l-6.6,6.6l-6.6,-6.6zM469.1,823.9l6.6,6.6l-6.6,6.6l-6.6,-6.6zM474.3,758.6l6.6,6.6l-6.6,6.6l-6.6,-6.6zM479.9,754.4l6.6,6.6l-6.6,6.6l-6.6,-6.6zM485.2,803.5l6.6,6.6l-6.6,6.6l-6.6,-6.6zM489.4,802.8l6.6,6.6l-6.6,6.6l-6.6,-6.6zM495.4,801.8l6.6,6.6l-6.6,6.6l-6.6,-6.6zM501.0,815.1l6.6,6.6l-6.6,6.6l-6.6,-6.6zM507.0,791.2l6.6,6.6l-6.6,6.6l-6.6,-6.6zM511.5,791.2l6.6,6.6l-6.6,6.6l-6.6,-6.6zM517.5,833.3l6.6,6.6l-6.6,6.6l-6.6,-6.6zM522.7,808.1l6.6,6.6l-6.6,6.6l-6.6,-6.6zM529.8,818.3l6.6,6.6l-6.6,6.6l-6.6,-6.6zM535.0,825.6l6.6,6.6l-6.6,6.6l-6.6,-6.6zM541.3,814.0l6.6,6.6l-6.6,6.6l-6.6,-6.6zM547.3,825.6l6.6,6.6l-6.6,6.6l-6.6,-6.6zM554.3,807.0l6.6,6.6l-6.6,6.6l-6.6,-6.6zM561.3,836.1l6.6,6.6l-6.6,6.6l-6.6,-6.6zM567.3,810.5l6.6,6.6l-6.6,6.6l-6.6,-6.6zM573.6,851.6l6.6,6.6l-6.6,6.6l-6.6,-6.6zM580.6,829.8l6.6,6.6l-6.6,6.6l-6.6,-6.6zM587.6,836.1l6.6,6.6l-6.6,6.6l-6.6,-6.6zM593.6,842.8l6.6,6.6l-6.6,6.6l-6.6,-6.6zM599.2,807.0l6.6,6.6l-6.6,6.6l-6.6,-6.6zM606.2,880.7l6.6,6.6l-6.6,6.6l-6.6,-6.6zM613.2,832.6l6.6,6.6l-6.6,6.6l-6.6,-6.6zM619.2,875.4l6.6,6.6l-6.6,6.6l-6.6,-6.6zM625.5,884.2l6.6,6.6l-6.6,6.6l-6.6,-6.6zM631.5,850.9l6.6,6.6l-6.6,6.6l-6.6,-6.6zM638.5,805.3l6.6,6.6l-6.6,6.6l-6.6,-6.6zM645.5,854.4l6.6,6.6l-6.6,6.6l-6.6,-6.6zM651.5,898.2l6.6,6.6l-6.6,6.6l-6.6,-6.6zM657.8,863.2l6.6,6.6l-6.6,6.6l-6.6,-6.6zM664.8,853.3l6.6,6.6l-6.6,6.6l-6.6,-6.6zM671.1,873.7l6.6,6.6l-6.6,6.6l-6.6,-6.6zM678.1,883.1l6.6,6.6l-6.6,6.6l-6.6,-6.6zM684.1,877.2l6.6,6.6l-6.6,6.6l-6.6,-6.6zM691.1,865.6l6.6,6.6l-6.6,6.6l-6.6,-6.6zM697.1,845.6l6.6,6.6l-6.6,6.6l-6.6,-6.6zM703.4,800.0l6.6,6.6l-6.6,6.6l-6.6,-6.6zM709.7,855.1l6.6,6.6l-6.6,6.6l-6.6,-6.6zM727.2,870.9l6.6,6.6l-6.6,6.6l-6.6,-6.6zM738.5,847.4l6.6,6.6l-6.6,6.6l-6.6,-6.6zM749.0,852.6l6.6,6.6l-6.6,6.6l-6.6,-6.6zM758.8,884.2l6.6,6.6l-6.6,6.6l-6.6,-6.6zM769.3,850.9l6.6,6.6l-6.6,6.6l-6.6,-6.6zM780.5,854.4l6.6,6.6l-6.6,6.6l-6.6,-6.6zM791.1,837.9l6.6,6.6l-6.6,6.6l-6.6,-6.6zM801.6,839.6l6.6,6.6l-6.6,6.6l-6.6,-6.6zM812.1,862.1l6.6,6.6l-6.6,6.6l-6.6,-6.6zM823.3,845.6l6.6,6.6l-6.6,6.6l-6.6,-6.6zM833.2,844.9l6.6,6.6l-6.6,6.6l-6.6,-6.6zM843.7,837.5l6.6,6.6l-6.6,6.6l-6.6,-6.6zM854.7,856.1l6.6,6.6l-6.6,6.6l-6.6,-6.6zM865.3,810.5l6.6,6.6l-6.6,6.6l-6.6,-6.6zM876.8,786.0l6.6,6.6l-6.6,6.6l-6.6,-6.6zM888.1,772.7l6.6,6.6l-6.6,6.6l-6.6,-6.6zM897.9,756.2l6.6,6.6l-6.6,6.6l-6.6,-6.6zM908.4,762.1l6.6,6.6l-6.6,6.6l-6.6,-6.6zM920.0,770.2l6.6,6.6l-6.6,6.6l-6.6,-6.6zM929.4,795.5l6.6,6.6l-6.6,6.6l-6.6,-6.6zM940.0,775.5l6.6,6.6l-6.6,6.6l-6.6,-6.6zM951.5,791.2l6.6,6.6l-6.6,6.6l-6.6,-6.6zM971.5,853.7l6.6,6.6l-6.6,6.6l-6.6,-6.6zM982.1,830.9l6.6,6.6l-6.6,6.6l-6.6,-6.6zM992.6,838.6l6.6,6.6l-6.6,6.6l-6.6,-6.6zM1012.6,852.6l6.6,6.6l-6.6,6.6l-6.6,-6.6zM1024.9,865.6l6.6,6.6l-6.6,6.6l-6.6,-6.6zM1035.7,856.1l6.6,6.6l-6.6,6.6l-6.6,-6.6zM1046.2,842.8l6.6,6.6l-6.6,6.6l-6.6,-6.6zM1056.8,821.8l6.6,6.6l-6.6,6.6l-6.6,-6.6zM1067.3,836.1l6.6,6.6l-6.6,6.6l-6.6,-6.6zM1078.5,822.8l6.6,6.6l-6.6,6.6l-6.6,-6.6zM1089.0,806.0l6.6,6.6l-6.6,6.6l-6.6,-6.6zM1098.5,720.4l6.6,6.6l-6.6,6.6l-6.6,-6.6zM1109.4,713.0l6.6,6.6l-6.6,6.6l-6.6,-6.6zM1119.9,712.3l6.6,6.6l-6.6,6.6l-6.6,-6.6zM1139.9,710.6l6.6,6.6l-6.6,6.6l-6.6,-6.6zM1152.2,707.8l6.6,6.6l-6.6,6.6l-6.6,-6.6zM1164.5,716.9l6.6,6.6l-6.6,6.6l-6.6,-6.6zM1176.7,706.4l6.6,6.6l-6.6,6.6l-6.6,-6.6zM1189.0,714.8l6.6,6.6l-6.6,6.6l-6.6,-6.6zM1200.6,686.0l6.6,6.6l-6.6,6.6l-6.6,-6.6zM1212.9,715.1l6.6,6.6l-6.6,6.6l-6.6,-6.6zM1225.8,713.4l6.6,6.6l-6.6,6.6l-6.6,-6.6zM1239.9,707.8l6.6,6.6l-6.6,6.6l-6.6,-6.6zM1253.2,725.3l6.6,6.6l-6.6,6.6l-6.6,-6.6zM1266.2,717.6l6.6,6.6l-6.6,6.6l-6.6,-6.6zM1280.2,730.9l6.6,6.6l-6.6,6.6l-6.6,-6.6zM1293.2,749.2l6.6,6.6l-6.6,6.6l-6.6,-6.6zM1306.5,742.1l6.6,6.6l-6.6,6.6l-6.6,-6.6zM1319.8,700.0l6.6,6.6l-6.6,6.6l-6.6,-6.6zM1326.9,750.9l6.6,6.6l-6.6,6.6l-6.6,-6.6zM1333.9,766.7l6.6,6.6l-6.6,6.6l-6.6,-6.6zM1341.6,769.1l6.6,6.6l-6.6,6.6l-6.6,-6.6zM1348.6,772.0l6.6,6.6l-6.6,6.6l-6.6,-6.6zM1355.6,779.0l6.6,6.6l-6.6,6.6l-6.6,-6.6zM1371.4,773.7l6.6,6.6l-6.6,6.6l-6.6,-6.6z" fill="#000000" fill-opacity="0.6"/>
<path d="M306.3,806.6 L312.3,817.1 L317.5,839.2 L322.8,813.6 L328.1,820.6 L333.3,818.9 L338.6,810.1 L343.8,804.9 L349.1,811.9 L355.1,832.9 L365.9,791.5 L371.9,802.1 L377.2,821.7 L383.1,810.1 L388.7,804.9 L393.0,810.1 L398.2,789.1 L404.2,828.4 L409.8,757.5 L415.1,851.5 L420.3,784.9 L425.6,810.8 L430.8,803.1 L436.1,808.4 L442.1,800.7 L447.3,828.4 L453.3,803.1 L458.5,810.1 L463.8,813.6 L469.1,830.5 L474.3,765.2 L479.9,761.0 L485.2,810.1 L489.4,809.4 L495.4,808.4 L501.0,821.7 L507.0,797.8 L511.5,797.8 L517.5,839.9 L522.7,814.7 L529.8,824.9 L535.0,832.2 L541.3,820.6 L547.3,832.2 L554.3,813.6 L561.3,842.7 L567.3,817.1 L573.6,858.2 L580.6,836.4 L587.6,842.7 L593.6,849.4 L599.2,813.6 L606.2,887.3 L613.2,839.2 L619.2,882.0 L625.5,890.8 L631.5,857.5 L638.5,811.9 L645.5,861.0 L651.5,904.8 L657.8,869.8 L664.8,859.9 L671.1,880.3 L678.1,889.7 L684.1,883.8 L691.1,872.2 L697.1,852.2 L703.4,806.6 L709.7,861.7 L727.2,877.5 L738.5,854.0 L749.0,859.2 L758.8,890.8 L769.3,857.5 L780.5,861.0 L791.1,844.5 L801.6,846.2 L812.1,868.7 L823.3,852.2 L833.2,851.5 L843.7,844.1 L854.7,862.7 L865.3,817.1 L876.8,792.6 L888.1,779.3 L897.9,762.8 L908.4,768.7 L920.0,776.8 L929.4,802.1 L940.0,782.1 L951.5,797.8 L971.5,860.3 L982.1,837.5 L992.6,845.2 L1012.6,859.2 L1024.9,872.2 L1035.7,862.7 L1046.2,849.4 L1056.8,828.4 L1067.3,842.7 L1078.5,829.4 L1089.0,812.6 L1098.5,727.0 L1109.4,719.6 L1119.9,718.9 L1139.9,717.2 L1152.2,714.4 L1164.5,723.5 L1176.7,713.0 L1189.0,721.4 L1200.6,692.6 L1212.9,721.7 L1225.8,720.0 L1239.9,714.4 L1253.2,731.9 L1266.2,724.2 L1280.2,737.5 L1293.2,755.8 L1306.5,748.7 L1319.8,706.6 L1326.9,757.5 L1333.9,773.3 L1341.6,775.7 L1348.6,778.6 L1355.6,785.6 L1371.4,780.3" fill="none" stroke="#050505" stroke-width="2.8" stroke-linejoin="round" stroke-linecap="round"/>
<path d="M315.8,1008.1l6.8,6.8l-6.8,6.8l-6.8,-6.8zM329.1,1004.6l6.8,6.8l-6.8,6.8l-6.8,-6.8zM342.1,1004.6l6.8,6.8l-6.8,6.8l-6.8,-6.8zM355.4,1008.8l6.8,6.8l-6.8,6.8l-6.8,-6.8zM369.1,1014.0l6.8,6.8l-6.8,6.8l-6.8,-6.8zM382.4,1004.6l6.8,6.8l-6.8,6.8l-6.8,-6.8zM395.4,995.8l6.8,6.8l-6.8,6.8l-6.8,-6.8zM408.7,1014.0l6.8,6.8l-6.8,6.8l-6.8,-6.8zM421.7,995.8l6.8,6.8l-6.8,6.8l-6.8,-6.8zM435.0,991.2l6.8,6.8l-6.8,6.8l-6.8,-6.8zM448.0,946.7l6.8,6.8l-6.8,6.8l-6.8,-6.8zM461.4,937.2l6.8,6.8l-6.8,6.8l-6.8,-6.8zM474.3,973.0l6.8,6.8l-6.8,6.8l-6.8,-6.8zM487.7,1000.3l6.8,6.8l-6.8,6.8l-6.8,-6.8zM500.6,1005.3l6.8,6.8l-6.8,6.8l-6.8,-6.8zM514.0,977.5l6.8,6.8l-6.8,6.8l-6.8,-6.8zM527.3,995.1l6.8,6.8l-6.8,6.8l-6.8,-6.8zM540.3,977.5l6.8,6.8l-6.8,6.8l-6.8,-6.8zM553.3,1004.6l6.8,6.8l-6.8,6.8l-6.8,-6.8zM566.6,995.8l6.8,6.8l-6.8,6.8l-6.8,-6.8zM579.6,995.8l6.8,6.8l-6.8,6.8l-6.8,-6.8zM592.9,991.2l6.8,6.8l-6.8,6.8l-6.8,-6.8zM605.9,986.3l6.8,6.8l-6.8,6.8l-6.8,-6.8zM619.2,977.2l6.8,6.8l-6.8,6.8l-6.8,-6.8zM632.5,982.5l6.8,6.8l-6.8,6.8l-6.8,-6.8zM645.5,995.8l6.8,6.8l-6.8,6.8l-6.8,-6.8zM658.5,986.3l6.8,6.8l-6.8,6.8l-6.8,-6.8zM671.8,968.4l6.8,6.8l-6.8,6.8l-6.8,-6.8zM685.1,987.0l6.8,6.8l-6.8,6.8l-6.8,-6.8zM698.1,991.2l6.8,6.8l-6.8,6.8l-6.8,-6.8zM711.1,991.2l6.8,6.8l-6.8,6.8l-6.8,-6.8zM724.4,991.2l6.8,6.8l-6.8,6.8l-6.8,-6.8zM737.8,977.2l6.8,6.8l-6.8,6.8l-6.8,-6.8zM750.7,973.0l6.8,6.8l-6.8,6.8l-6.8,-6.8zM763.7,955.4l6.8,6.8l-6.8,6.8l-6.8,-6.8zM777.0,950.9l6.8,6.8l-6.8,6.8l-6.8,-6.8zM790.4,950.2l6.8,6.8l-6.8,6.8l-6.8,-6.8zM803.3,964.2l6.8,6.8l-6.8,6.8l-6.8,-6.8zM816.3,960.0l6.8,6.8l-6.8,6.8l-6.8,-6.8zM829.7,977.5l6.8,6.8l-6.8,6.8l-6.8,-6.8zM843.0,950.9l6.8,6.8l-6.8,6.8l-6.8,-6.8zM856.5,964.4l6.8,6.8l-6.8,6.8l-6.8,-6.8zM869.8,937.0l6.8,6.8l-6.8,6.8l-6.8,-6.8zM882.8,924.1l6.8,6.8l-6.8,6.8l-6.8,-6.8zM896.1,919.5l6.8,6.8l-6.8,6.8l-6.8,-6.8zM909.1,847.2l6.8,6.8l-6.8,6.8l-6.8,-6.8zM922.4,856.6l6.8,6.8l-6.8,6.8l-6.8,-6.8zM935.4,901.5l6.8,6.8l-6.8,6.8l-6.8,-6.8zM948.7,892.8l6.8,6.8l-6.8,6.8l-6.8,-6.8zM961.7,886.5l6.8,6.8l-6.8,6.8l-6.8,-6.8zM975.0,913.8l6.8,6.8l-6.8,6.8l-6.8,-6.8zM988.0,932.8l6.8,6.8l-6.8,6.8l-6.8,-6.8zM1001.4,937.0l6.8,6.8l-6.8,6.8l-6.8,-6.8zM1014.3,928.3l6.8,6.8l-6.8,6.8l-6.8,-6.8zM1027.7,941.6l6.8,6.8l-6.8,6.8l-6.8,-6.8zM1040.6,914.9l6.8,6.8l-6.8,6.8l-6.8,-6.8zM1053.3,906.5l6.8,6.8l-6.8,6.8l-6.8,-6.8zM1066.9,906.5l6.8,6.8l-6.8,6.8l-6.8,-6.8zM1079.6,865.8l6.8,6.8l-6.8,6.8l-6.8,-6.8zM1092.6,855.9l6.8,6.8l-6.8,6.8l-6.8,-6.8zM1106.6,857.0l6.8,6.8l-6.8,6.8l-6.8,-6.8zM1119.6,780.5l6.8,6.8l-6.8,6.8l-6.8,-6.8zM1132.9,771.1l6.8,6.8l-6.8,6.8l-6.8,-6.8zM1145.9,794.6l6.8,6.8l-6.8,6.8l-6.8,-6.8zM1159.2,749.0l6.8,6.8l-6.8,6.8l-6.8,-6.8zM1172.5,763.0l6.8,6.8l-6.8,6.8l-6.8,-6.8zM1185.5,780.5l6.8,6.8l-6.8,6.8l-6.8,-6.8zM1198.5,816.3l6.8,6.8l-6.8,6.8l-6.8,-6.8zM1211.8,784.7l6.8,6.8l-6.8,6.8l-6.8,-6.8zM1225.1,825.4l6.8,6.8l-6.8,6.8l-6.8,-6.8zM1238.1,803.3l6.8,6.8l-6.8,6.8l-6.8,-6.8zM1251.1,870.0l6.8,6.8l-6.8,6.8l-6.8,-6.8zM1264.4,851.4l6.8,6.8l-6.8,6.8l-6.8,-6.8zM1277.8,805.8l6.8,6.8l-6.8,6.8l-6.8,-6.8zM1290.7,806.8l6.8,6.8l-6.8,6.8l-6.8,-6.8zM1303.7,838.4l6.8,6.8l-6.8,6.8l-6.8,-6.8zM1317.0,870.0l6.8,6.8l-6.8,6.8l-6.8,-6.8zM1330.4,847.2l6.8,6.8l-6.8,6.8l-6.8,-6.8zM1343.3,834.9l6.8,6.8l-6.8,6.8l-6.8,-6.8zM1356.3,865.4l6.8,6.8l-6.8,6.8l-6.8,-6.8zM1369.7,820.9l6.8,6.8l-6.8,6.8l-6.8,-6.8z" fill="#74124c" fill-opacity="0.62"/>
<path d="M315.8,1014.9 L329.1,1011.4 L342.1,1011.4 L355.4,1015.6 L369.1,1020.8 L382.4,1011.4 L395.4,1002.6 L408.7,1020.8 L421.7,1002.6 L435.0,998.0 L448.0,953.5 L461.4,944.0 L474.3,979.8 L487.7,1007.1 L500.6,1012.1 L514.0,984.3 L527.3,1001.9 L540.3,984.3 L553.3,1011.4 L566.6,1002.6 L579.6,1002.6 L592.9,998.0 L605.9,993.1 L619.2,984.0 L632.5,989.3 L645.5,1002.6 L658.5,993.1 L671.8,975.2 L685.1,993.8 L698.1,998.0 L711.1,998.0 L724.4,998.0 L737.8,984.0 L750.7,979.8 L763.7,962.2 L777.0,957.7 L790.4,957.0 L803.3,971.0 L816.3,966.8 L829.7,984.3 L843.0,957.7 L856.5,971.2 L869.8,943.8 L882.8,930.9 L896.1,926.3 L909.1,854.0 L922.4,863.4 L935.4,908.3 L948.7,899.6 L961.7,893.3 L975.0,920.6 L988.0,939.6 L1001.4,943.8 L1014.3,935.1 L1027.7,948.4 L1040.6,921.7 L1053.3,913.3 L1066.9,913.3 L1079.6,872.6 L1092.6,862.7 L1106.6,863.8 L1119.6,787.3 L1132.9,777.9 L1145.9,801.4 L1159.2,755.8 L1172.5,769.8 L1185.5,787.3 L1198.5,823.1 L1211.8,791.5 L1225.1,832.2 L1238.1,810.1 L1251.1,876.8 L1264.4,858.2 L1277.8,812.6 L1290.7,813.6 L1303.7,845.2 L1317.0,876.8 L1330.4,854.0 L1343.3,841.7 L1356.3,872.2 L1369.7,827.7" fill="none" stroke="#74104a" stroke-width="3.1" stroke-linejoin="round" stroke-linecap="round"/>
<path d="M375.4,1268.0 L394.7,1297.1 L416.5,1209.5 L425.6,1182.1 L437.9,1248.7 L447.3,1269.8 L460.3,1301.4 L470.8,1201.4 L483.1,1332.9 L494.7,1198.9 L506.2,1325.2 L517.5,1287.3 L528.0,1312.9 L539.6,1293.3 L551.1,1311.9 L562.4,1223.1 L573.6,1312.6 L585.2,1255.8 L597.4,1314.7 L609.7,1297.8 L622.7,1339.2 L635.0,1267.3 L648.0,1265.6 L661.3,1265.6 L674.6,1281.0 L686.5,1308.4 L699.2,1252.9 L712.1,1254.0 L724.4,1332.9 L736.7,1287.3 L750.0,1297.1 L762.3,1288.0 L775.3,1252.2 L788.6,1265.6 L803.3,1292.6 L836.7,1289.1 L886.7,1265.6 L900.3,1309.1 L911.9,1287.3 L920.7,1264.5 L928.4,1228.7 L936.5,1290.8 L944.2,1233.0 L952.2,1225.2 L960.3,1257.5 L966.3,1311.2 L972.6,1321.7 L978.6,1308.4 L983.8,1236.5 L989.8,1300.7 L994.3,1241.7 L999.6,1250.5 L1004.9,1271.5 L1010.1,1291.9 L1015.4,1276.8 L1020.6,1262.8 L1025.9,1288.4 L1032.2,1275.0 L1038.2,1283.1 L1045.2,1307.3 L1055.7,1309.1 L1061.0,1291.9 L1066.2,1262.1 L1071.5,1264.5 L1074.3,1329.4 L1082.0,1311.9 L1089.0,1319.6 L1093.3,1263.5 L1099.6,1297.8 L1104.8,1314.3 L1110.1,1315.4 L1112.5,1273.3 L1117.1,1319.6 L1120.6,1303.8 L1123.4,1264.5 L1130.4,1240.0 L1134.6,1273.3 L1138.2,1326.6 L1143.4,1254.0 L1147.6,1252.2 L1151.5,1325.9 L1153.9,1342.7 L1161.7,1241.7 L1166.2,1302.1 L1169.7,1203.1 L1175.0,1280.3 L1178.5,1182.1 L1183.0,1193.3 L1188.0,1200.3 L1190.8,1247.0 L1199.5,1234.7 L1203.0,1315.4 L1207.6,1338.2 L1216.4,1310.1 L1225.1,1382.0 L1229.3,1361.0 L1233.6,1287.3 L1238.1,1234.7 L1242.7,1390.8 L1250.4,1311.2 L1257.4,1404.8 L1266.2,1343.4 L1272.1,1307.7 L1283.7,1339.9 L1289.7,1286.6 L1294.2,1425.9 L1299.5,1325.2 L1305.8,1332.2 L1322.3,1417.1 L1329.3,1415.4 L1341.6,1363.4 L1348.6,1445.2 L1360.9,1359.2 L1367.9,1368.7 L1373.9,1247.0 L1381.9,1256.5 L1387.2,1396.1" fill="none" stroke="#e0a0a0" stroke-width="1.5" stroke-linejoin="round" stroke-linecap="round"/>
<path d="M375.4,1262.0l6.0,6.0l-6.0,6.0l-6.0,-6.0zM394.7,1291.1l6.0,6.0l-6.0,6.0l-6.0,-6.0zM416.5,1203.5l6.0,6.0l-6.0,6.0l-6.0,-6.0zM425.6,1176.1l6.0,6.0l-6.0,6.0l-6.0,-6.0zM437.9,1242.7l6.0,6.0l-6.0,6.0l-6.0,-6.0zM447.3,1263.8l6.0,6.0l-6.0,6.0l-6.0,-6.0zM460.3,1295.4l6.0,6.0l-6.0,6.0l-6.0,-6.0zM470.8,1195.4l6.0,6.0l-6.0,6.0l-6.0,-6.0zM483.1,1326.9l6.0,6.0l-6.0,6.0l-6.0,-6.0zM494.7,1192.9l6.0,6.0l-6.0,6.0l-6.0,-6.0zM506.2,1319.2l6.0,6.0l-6.0,6.0l-6.0,-6.0zM517.5,1281.3l6.0,6.0l-6.0,6.0l-6.0,-6.0zM528.0,1306.9l6.0,6.0l-6.0,6.0l-6.0,-6.0zM539.6,1287.3l6.0,6.0l-6.0,6.0l-6.0,-6.0zM551.1,1305.9l6.0,6.0l-6.0,6.0l-6.0,-6.0zM562.4,1217.1l6.0,6.0l-6.0,6.0l-6.0,-6.0zM573.6,1306.6l6.0,6.0l-6.0,6.0l-6.0,-6.0zM585.2,1249.8l6.0,6.0l-6.0,6.0l-6.0,-6.0zM597.4,1308.7l6.0,6.0l-6.0,6.0l-6.0,-6.0zM609.7,1291.8l6.0,6.0l-6.0,6.0l-6.0,-6.0zM622.7,1333.2l6.0,6.0l-6.0,6.0l-6.0,-6.0zM635.0,1261.3l6.0,6.0l-6.0,6.0l-6.0,-6.0zM648.0,1259.6l6.0,6.0l-6.0,6.0l-6.0,-6.0zM661.3,1259.6l6.0,6.0l-6.0,6.0l-6.0,-6.0zM674.6,1275.0l6.0,6.0l-6.0,6.0l-6.0,-6.0zM686.5,1302.4l6.0,6.0l-6.0,6.0l-6.0,-6.0zM699.2,1246.9l6.0,6.0l-6.0,6.0l-6.0,-6.0zM712.1,1248.0l6.0,6.0l-6.0,6.0l-6.0,-6.0zM724.4,1326.9l6.0,6.0l-6.0,6.0l-6.0,-6.0zM736.7,1281.3l6.0,6.0l-6.0,6.0l-6.0,-6.0zM750.0,1291.1l6.0,6.0l-6.0,6.0l-6.0,-6.0zM762.3,1282.0l6.0,6.0l-6.0,6.0l-6.0,-6.0zM775.3,1246.2l6.0,6.0l-6.0,6.0l-6.0,-6.0zM788.6,1259.6l6.0,6.0l-6.0,6.0l-6.0,-6.0zM803.3,1286.6l6.0,6.0l-6.0,6.0l-6.0,-6.0zM836.7,1283.1l6.0,6.0l-6.0,6.0l-6.0,-6.0zM886.7,1259.6l6.0,6.0l-6.0,6.0l-6.0,-6.0zM900.3,1303.1l6.0,6.0l-6.0,6.0l-6.0,-6.0zM911.9,1281.3l6.0,6.0l-6.0,6.0l-6.0,-6.0zM920.7,1258.5l6.0,6.0l-6.0,6.0l-6.0,-6.0zM928.4,1222.7l6.0,6.0l-6.0,6.0l-6.0,-6.0zM936.5,1284.8l6.0,6.0l-6.0,6.0l-6.0,-6.0zM944.2,1227.0l6.0,6.0l-6.0,6.0l-6.0,-6.0zM952.2,1219.2l6.0,6.0l-6.0,6.0l-6.0,-6.0zM960.3,1251.5l6.0,6.0l-6.0,6.0l-6.0,-6.0zM966.3,1305.2l6.0,6.0l-6.0,6.0l-6.0,-6.0zM972.6,1315.7l6.0,6.0l-6.0,6.0l-6.0,-6.0zM978.6,1302.4l6.0,6.0l-6.0,6.0l-6.0,-6.0zM983.8,1230.5l6.0,6.0l-6.0,6.0l-6.0,-6.0zM989.8,1294.7l6.0,6.0l-6.0,6.0l-6.0,-6.0zM994.3,1235.7l6.0,6.0l-6.0,6.0l-6.0,-6.0zM999.6,1244.5l6.0,6.0l-6.0,6.0l-6.0,-6.0zM1004.9,1265.5l6.0,6.0l-6.0,6.0l-6.0,-6.0zM1010.1,1285.9l6.0,6.0l-6.0,6.0l-6.0,-6.0zM1015.4,1270.8l6.0,6.0l-6.0,6.0l-6.0,-6.0zM1020.6,1256.8l6.0,6.0l-6.0,6.0l-6.0,-6.0zM1025.9,1282.4l6.0,6.0l-6.0,6.0l-6.0,-6.0zM1032.2,1269.0l6.0,6.0l-6.0,6.0l-6.0,-6.0zM1038.2,1277.1l6.0,6.0l-6.0,6.0l-6.0,-6.0zM1045.2,1301.3l6.0,6.0l-6.0,6.0l-6.0,-6.0zM1055.7,1303.1l6.0,6.0l-6.0,6.0l-6.0,-6.0zM1061.0,1285.9l6.0,6.0l-6.0,6.0l-6.0,-6.0zM1066.2,1256.1l6.0,6.0l-6.0,6.0l-6.0,-6.0zM1071.5,1258.5l6.0,6.0l-6.0,6.0l-6.0,-6.0zM1074.3,1323.4l6.0,6.0l-6.0,6.0l-6.0,-6.0zM1082.0,1305.9l6.0,6.0l-6.0,6.0l-6.0,-6.0zM1089.0,1313.6l6.0,6.0l-6.0,6.0l-6.0,-6.0zM1093.3,1257.5l6.0,6.0l-6.0,6.0l-6.0,-6.0zM1099.6,1291.8l6.0,6.0l-6.0,6.0l-6.0,-6.0zM1104.8,1308.3l6.0,6.0l-6.0,6.0l-6.0,-6.0zM1110.1,1309.4l6.0,6.0l-6.0,6.0l-6.0,-6.0zM1112.5,1267.3l6.0,6.0l-6.0,6.0l-6.0,-6.0zM1117.1,1313.6l6.0,6.0l-6.0,6.0l-6.0,-6.0zM1120.6,1297.8l6.0,6.0l-6.0,6.0l-6.0,-6.0zM1123.4,1258.5l6.0,6.0l-6.0,6.0l-6.0,-6.0zM1130.4,1234.0l6.0,6.0l-6.0,6.0l-6.0,-6.0zM1134.6,1267.3l6.0,6.0l-6.0,6.0l-6.0,-6.0zM1138.2,1320.6l6.0,6.0l-6.0,6.0l-6.0,-6.0zM1143.4,1248.0l6.0,6.0l-6.0,6.0l-6.0,-6.0zM1147.6,1246.2l6.0,6.0l-6.0,6.0l-6.0,-6.0zM1151.5,1319.9l6.0,6.0l-6.0,6.0l-6.0,-6.0zM1153.9,1336.7l6.0,6.0l-6.0,6.0l-6.0,-6.0zM1161.7,1235.7l6.0,6.0l-6.0,6.0l-6.0,-6.0zM1166.2,1296.1l6.0,6.0l-6.0,6.0l-6.0,-6.0zM1169.7,1197.1l6.0,6.0l-6.0,6.0l-6.0,-6.0zM1175.0,1274.3l6.0,6.0l-6.0,6.0l-6.0,-6.0zM1178.5,1176.1l6.0,6.0l-6.0,6.0l-6.0,-6.0zM1183.0,1187.3l6.0,6.0l-6.0,6.0l-6.0,-6.0zM1188.0,1194.3l6.0,6.0l-6.0,6.0l-6.0,-6.0zM1190.8,1241.0l6.0,6.0l-6.0,6.0l-6.0,-6.0zM1199.5,1228.7l6.0,6.0l-6.0,6.0l-6.0,-6.0zM1203.0,1309.4l6.0,6.0l-6.0,6.0l-6.0,-6.0zM1207.6,1332.2l6.0,6.0l-6.0,6.0l-6.0,-6.0zM1216.4,1304.1l6.0,6.0l-6.0,6.0l-6.0,-6.0zM1225.1,1376.0l6.0,6.0l-6.0,6.0l-6.0,-6.0zM1229.3,1355.0l6.0,6.0l-6.0,6.0l-6.0,-6.0zM1233.6,1281.3l6.0,6.0l-6.0,6.0l-6.0,-6.0zM1238.1,1228.7l6.0,6.0l-6.0,6.0l-6.0,-6.0zM1242.7,1384.8l6.0,6.0l-6.0,6.0l-6.0,-6.0zM1250.4,1305.2l6.0,6.0l-6.0,6.0l-6.0,-6.0zM1257.4,1398.8l6.0,6.0l-6.0,6.0l-6.0,-6.0zM1266.2,1337.4l6.0,6.0l-6.0,6.0l-6.0,-6.0zM1272.1,1301.7l6.0,6.0l-6.0,6.0l-6.0,-6.0zM1283.7,1333.9l6.0,6.0l-6.0,6.0l-6.0,-6.0zM1289.7,1280.6l6.0,6.0l-6.0,6.0l-6.0,-6.0zM1294.2,1419.9l6.0,6.0l-6.0,6.0l-6.0,-6.0zM1299.5,1319.2l6.0,6.0l-6.0,6.0l-6.0,-6.0zM1305.8,1326.2l6.0,6.0l-6.0,6.0l-6.0,-6.0zM1322.3,1411.1l6.0,6.0l-6.0,6.0l-6.0,-6.0zM1329.3,1409.4l6.0,6.0l-6.0,6.0l-6.0,-6.0zM1341.6,1357.4l6.0,6.0l-6.0,6.0l-6.0,-6.0zM1348.6,1439.2l6.0,6.0l-6.0,6.0l-6.0,-6.0zM1360.9,1353.2l6.0,6.0l-6.0,6.0l-6.0,-6.0zM1367.9,1362.7l6.0,6.0l-6.0,6.0l-6.0,-6.0zM1373.9,1241.0l6.0,6.0l-6.0,6.0l-6.0,-6.0zM1381.9,1250.5l6.0,6.0l-6.0,6.0l-6.0,-6.0zM1387.2,1390.1l6.0,6.0l-6.0,6.0l-6.0,-6.0z" fill="#dba0a0" fill-opacity="0.9"/>
<path d="M394.0,1258.6 L405.2,1243.5 L415.8,1227.7 L427.3,1212.6 L438.6,1233.0 L449.1,1273.3 L460.3,1258.2 L471.9,1278.6 L483.5,1244.5 L494.7,1284.9 L506.2,1270.8 L517.5,1308.4 L528.0,1298.9 L539.6,1306.6 L551.1,1276.8 L562.4,1282.8 L573.6,1263.8 L585.9,1293.6 L597.4,1289.8 L610.4,1317.1 L622.7,1301.4 L635.0,1290.8 L648.0,1267.0 L661.3,1271.5 L674.6,1284.9 L686.5,1281.0 L699.2,1272.2 L712.1,1281.0 L724.4,1291.5 L736.7,1305.6 L750.0,1290.8 L762.3,1279.6 L775.3,1269.1 L788.6,1270.5 L803.3,1282.1 L822.6,1282.1 L836.7,1282.1 L861.0,1285.6 L886.7,1287.3 L910.2,1286.6 L920.7,1261.0 L927.7,1261.0 L936.5,1251.5 L944.2,1250.5 L952.2,1240.0 L961.0,1273.3 L972.6,1313.6 L980.3,1289.1 L985.6,1282.1 L989.8,1261.0 L994.3,1264.5 L999.6,1255.1 L1004.9,1268.0 L1010.1,1280.3 L1018.9,1276.8 L1025.9,1275.7 L1032.2,1282.1 L1038.2,1286.6 L1047.0,1303.1 L1055.7,1305.6 L1061.0,1299.6 L1067.3,1272.6 L1071.5,1287.3 L1078.5,1320.6 L1085.5,1304.9 L1097.1,1282.1 L1105.5,1310.8 L1110.1,1302.4 L1115.4,1303.8 L1120.6,1297.1 L1125.9,1273.3 L1131.1,1255.8 L1138.2,1277.5 L1147.6,1277.5 L1153.9,1331.2 L1159.2,1296.1 L1166.2,1250.5 L1170.4,1261.0 L1175.0,1222.4 L1178.5,1219.6 L1183.0,1191.9 L1190.8,1224.2 L1196.0,1243.5 L1201.3,1283.8 L1206.5,1331.2 L1211.8,1329.4 L1217.1,1345.2 L1225.1,1350.5 L1233.6,1294.3 L1239.9,1322.4 L1246.9,1357.5 L1253.9,1385.5 L1259.2,1401.3 L1266.2,1357.5 L1273.2,1329.4 L1285.5,1311.9 L1290.7,1348.7 L1294.2,1346.2 L1299.5,1360.3 L1304.8,1358.2 L1317.0,1382.0 L1329.3,1398.9 L1341.6,1405.9 L1348.6,1399.6 L1355.6,1398.9 L1362.6,1371.5 L1367.9,1336.4 L1374.9,1290.8 L1381.9,1299.6" fill="none" stroke="#d0202a" stroke-width="3.0" stroke-linejoin="round" stroke-linecap="round"/>
<path d="M1041.0,1426.3 L1042.7,1482.4 L1043.8,1531.5 L1047.7,1514.0 L1050.5,1510.5 L1052.6,1524.5 L1055.0,1566.6 L1057.5,1587.6 L1059.9,1545.5 L1062.7,1517.5 L1065.5,1528.0 L1068.0,1524.5 L1070.8,1542.0 L1073.3,1552.6 L1075.7,1535.0 L1080.3,1517.5 L1083.1,1545.5 L1085.5,1566.6 L1089.0,1514.0 L1091.8,1531.5 L1094.3,1545.5 L1097.1,1542.0 L1099.6,1545.5 L1103.1,1496.4 L1106.6,1464.9 L1109.4,1454.3 L1111.8,1450.8" fill="none" stroke="#8c8cff" stroke-width="1.5" stroke-linejoin="round" stroke-linecap="round"/>
<path d="M1111.8,1484.6 L1113.0,1396.3 L1113.9,1470.2 L1115.0,1421.8 L1116.3,1477.5 L1118.0,1395.0 L1119.1,1445.3 L1120.8,1405.2 L1122.4,1446.5 L1123.9,1465.8 L1124.9,1385.7 L1125.9,1408.0 L1127.3,1471.5 L1128.7,1415.7 L1129.6,1391.9 L1130.6,1462.7 L1132.0,1400.9 L1133.0,1504.6 L1134.1,1495.1 L1135.4,1428.7 L1136.9,1419.7 L1137.8,1485.2 L1139.0,1448.6 L1140.3,1519.4 L1141.3,1467.5 L1142.4,1511.7 L1143.3,1452.3 L1144.9,1485.2 L1146.6,1461.7 L1148.0,1388.2 L1149.0,1454.0 L1150.4,1373.7 L1151.4,1400.2 L1152.3,1391.9 L1153.1,1345.6 L1154.3,1390.4 L1155.2,1342.0 L1156.4,1371.9 L1157.4,1339.8 L1158.4,1385.2 L1159.5,1303.2 L1160.5,1328.1 L1162.2,1346.1 L1163.2,1309.5 L1164.3,1294.4 L1165.5,1333.1 L1166.9,1281.6 L1168.0,1339.3 L1169.6,1361.8 L1171.4,1285.9 L1172.6,1356.9 L1174.2,1334.2 L1175.4,1274.3 L1177.2,1351.9 L1178.2,1347.2 L1179.1,1358.7 L1180.3,1294.0 L1181.8,1360.9 L1183.5,1326.3 L1185.3,1405.1 L1186.5,1351.9 L1188.3,1394.9 L1189.4,1358.4 L1190.3,1409.9 L1191.7,1367.3 L1193.3,1406.4 L1194.5,1356.8 L1196.3,1436.6 L1197.9,1389.1 L1199.6,1444.7 L1200.9,1382.4 L1202.4,1429.1 L1203.3,1395.2 L1204.2,1389.2 L1205.2,1445.8 L1206.5,1381.9 L1207.4,1467.1 L1208.8,1390.0 L1210.1,1447.3 L1211.8,1393.1 L1212.6,1471.7 L1214.0,1387.5 L1214.9,1442.3 L1215.8,1462.2 L1217.6,1375.8 L1219.2,1362.0 L1220.4,1387.2 L1222.1,1389.4 L1223.1,1319.1 L1224.6,1355.0 L1225.4,1295.9 L1226.7,1367.6 L1227.6,1298.6 L1228.6,1361.7 L1229.7,1300.4 L1231.2,1288.4 L1232.8,1398.0 L1234.0,1339.4 L1234.9,1447.7 L1236.5,1357.9 L1238.0,1401.1 L1239.4,1379.9 L1241.1,1426.1 L1242.5,1360.8 L1244.2,1402.3 L1245.4,1317.5 L1246.6,1306.4 L1247.6,1356.6 L1248.5,1321.2 L1249.9,1373.0 L1251.5,1338.5 L1252.9,1378.9 L1253.8,1345.8 L1255.2,1408.4 L1256.2,1334.9 L1257.7,1381.9 L1259.4,1388.4 L1260.8,1347.1 L1262.4,1345.3 L1263.4,1404.3 L1264.3,1338.6 L1265.7,1376.0 L1267.3,1323.2 L1268.4,1374.2 L1270.2,1313.2 L1271.9,1369.9 L1273.5,1368.9 L1274.9,1313.0 L1276.2,1343.4 L1277.4,1403.2 L1278.7,1325.5 L1280.4,1406.4 L1281.2,1353.1 L1282.6,1428.8 L1284.4,1381.0 L1285.5,1428.8 L1286.8,1367.2 L1287.7,1449.4 L1289.3,1373.5 L1291.0,1444.5 L1292.8,1474.3 L1294.5,1475.9 L1295.6,1485.0 L1296.8,1418.3 L1298.4,1465.6 L1299.8,1387.4 L1300.8,1398.1 L1301.9,1398.4 L1303.6,1417.5 L1304.9,1475.4 L1306.6,1455.4 L1308.4,1492.6 L1309.8,1522.1 L1311.1,1506.4 L1312.3,1462.4 L1313.3,1441.1 L1314.1,1511.8 L1315.9,1458.5 L1317.1,1540.9 L1318.0,1447.8 L1318.9,1459.1 L1320.0,1535.2 L1321.2,1432.9 L1322.0,1525.9 L1323.0,1466.9 L1324.4,1503.8 L1325.2,1463.7 L1326.1,1548.4 L1327.5,1434.9 L1328.7,1534.8 L1330.5,1532.1 L1332.2,1437.8 L1333.5,1525.1 L1335.1,1411.4 L1336.2,1505.8 L1337.1,1421.5 L1338.3,1480.9 L1339.2,1400.7 L1340.4,1437.9 L1341.8,1448.2 L1343.6,1523.8 L1344.8,1429.9 L1346.2,1445.8 L1347.3,1505.2 L1349.0,1437.7 L1350.7,1542.8 L1351.8,1421.7 L1352.9,1443.4 L1354.1,1529.8 L1355.5,1442.5 L1356.6,1506.2 L1357.4,1442.1 L1358.3,1553.6 L1359.5,1472.0 L1361.0,1516.8 L1362.1,1430.7 L1363.6,1458.1 L1365.1,1527.9 L1366.0,1405.0 L1367.4,1490.0 L1368.9,1435.3 L1369.7,1511.7 L1371.3,1394.1 L1372.6,1508.2 L1373.7,1423.4 L1375.0,1495.1 L1376.1,1394.4 L1377.6,1420.7 L1378.5,1473.3 L1379.8,1396.1" fill="none" stroke="#9a9aff" stroke-width="1.3" stroke-linejoin="round" stroke-linecap="round"/>
<path d="M1111.8,1450.1 C1112.7,1448.2 1115.1,1441.9 1117.1,1438.6 C1119.2,1435.2 1121.8,1431.9 1124.1,1429.8 C1126.5,1427.6 1129.1,1422.7 1131.1,1425.6 C1133.2,1428.5 1134.8,1438.4 1136.4,1447.3 C1138.0,1456.2 1139.5,1477.7 1141.0,1478.9 C1142.4,1480.1 1143.6,1466.6 1145.2,1454.3 C1146.7,1442.1 1148.7,1418.1 1150.4,1405.2 C1152.2,1392.4 1153.9,1385.9 1155.7,1377.2 C1157.4,1368.4 1159.5,1359.0 1161.0,1352.6 C1162.4,1346.2 1163.0,1339.2 1164.5,1338.6 C1165.9,1338.0 1168.0,1352.0 1169.7,1349.1 C1171.5,1346.2 1173.3,1331.6 1175.0,1321.0 C1176.6,1310.5 1178.1,1286.0 1179.5,1286.0 C1181.0,1286.0 1182.5,1308.2 1183.8,1321.0 C1185.0,1333.9 1186.1,1353.2 1187.3,1363.1 C1188.4,1373.1 1189.3,1377.2 1190.8,1380.7 C1192.2,1384.2 1194.0,1380.7 1196.0,1384.2 C1198.1,1387.7 1200.7,1397.0 1203.0,1401.7 C1205.4,1406.4 1208.0,1412.2 1210.1,1412.2 C1212.1,1412.2 1213.6,1410.5 1215.3,1401.7 C1217.1,1393.0 1218.8,1373.1 1220.6,1359.6 C1222.3,1346.2 1224.3,1322.2 1225.8,1321.0 C1227.4,1319.9 1228.6,1340.6 1230.1,1352.6 C1231.5,1364.6 1233.0,1387.7 1234.6,1393.0 C1236.2,1398.2 1237.9,1394.4 1239.9,1384.2 C1241.8,1374.0 1244.1,1335.7 1246.2,1331.6 C1248.2,1327.5 1250.2,1350.6 1252.1,1359.6 C1254.1,1368.7 1256.1,1385.4 1258.1,1385.9 C1260.2,1386.5 1261.9,1370.2 1264.4,1363.1 C1266.9,1356.1 1270.9,1342.7 1273.2,1343.8 C1275.5,1345.0 1276.4,1360.5 1278.5,1370.2 C1280.5,1379.8 1283.1,1397.3 1285.5,1401.7 C1287.8,1406.1 1290.1,1394.1 1292.5,1396.5 C1294.8,1398.8 1297.2,1408.4 1299.5,1415.8 C1301.8,1423.1 1304.2,1431.5 1306.5,1440.3 C1308.9,1449.1 1311.1,1459.9 1313.5,1468.4 C1316.0,1476.8 1318.9,1490.6 1321.2,1491.2 C1323.6,1491.8 1325.3,1478.0 1327.6,1471.9 C1329.8,1465.7 1331.7,1457.3 1334.6,1454.3 C1337.5,1451.4 1342.2,1452.0 1345.1,1454.3 C1348.0,1456.7 1349.8,1463.2 1352.1,1468.4 C1354.5,1473.5 1356.8,1484.6 1359.1,1485.2 C1361.5,1485.8 1363.8,1476.4 1366.1,1471.9 C1368.5,1467.3 1370.5,1459.9 1373.2,1457.8 C1375.8,1455.8 1380.5,1459.3 1381.9,1459.6" fill="none" stroke="#0c1678" stroke-width="3.2" stroke-linejoin="round" stroke-linecap="round"/>
<path d="M917.2,1663.3 L918.3,1666.8 L919.7,1658.1 L920.6,1623.9 L921.9,1642.6 L922.5,1626.6 L923.4,1627.0 L924.6,1610.9 L926.1,1605.1 L927.6,1639.2 L929.1,1602.8 L930.6,1598.8 L931.8,1623.1 L933.2,1618.6 L934.4,1596.5 L935.9,1612.5 L936.9,1576.9 L937.9,1617.6 L939.3,1589.5 L940.2,1618.6 L941.7,1615.9 L942.7,1597.8 L944.0,1638.2 L944.9,1582.6 L946.2,1626.0 L947.6,1566.8 L949.2,1622.2 L950.2,1586.5 L951.2,1626.0 L952.6,1590.5 L953.8,1632.9 L955.1,1586.7 L955.9,1589.5 L957.3,1621.7 L958.4,1587.3 L959.8,1640.1 L960.7,1610.0 L962.1,1633.6 L963.3,1596.7 L964.0,1610.1 L965.5,1647.7 L966.2,1671.1 L967.0,1625.7 L967.8,1646.7 L968.8,1627.1 L970.2,1625.5 L971.2,1670.9 L972.2,1631.9 L973.3,1662.3 L974.7,1643.3 L975.8,1659.1 L976.7,1611.0 L977.8,1674.1 L979.3,1643.2 L980.1,1678.9 L980.9,1647.8 L981.8,1679.3 L983.2,1676.9 L984.2,1690.3 L985.6,1639.0 L987.0,1707.1 L988.3,1674.7 L989.6,1676.1 L990.8,1702.5 L992.0,1686.9 L993.4,1706.9 L994.4,1689.4 L995.4,1710.5 L996.7,1684.4 L998.0,1698.5 L999.2,1672.5 L1000.4,1702.4 L1001.6,1673.5 L1002.3,1682.3 L1002.9,1708.0 L1004.1,1694.2 L1005.5,1674.0 L1006.7,1698.8 L1007.8,1667.3 L1008.8,1704.5 L1009.8,1723.4 L1010.8,1664.8 L1012.3,1702.5 L1013.3,1726.0 L1014.0,1678.4 L1015.4,1690.7 L1016.9,1672.9 L1017.8,1696.7 L1019.2,1694.3 L1020.3,1662.2 L1021.8,1673.6 L1023.3,1697.8 L1024.7,1695.5 L1025.4,1667.0 L1026.5,1686.3 L1027.4,1693.0 L1028.6,1669.7 L1030.0,1693.3 L1031.2,1631.0 L1032.6,1685.7 L1034.0,1655.6 L1034.8,1686.7 L1035.9,1659.5 L1036.8,1679.2 L1037.7,1664.3 L1039.1,1692.0 L1040.1,1659.7 L1041.6,1693.8 L1042.6,1690.4 L1043.7,1694.9 L1044.8,1665.6 L1046.3,1700.0 L1047.4,1675.4 L1048.1,1700.1 L1049.5,1671.9 L1050.8,1700.4 L1051.7,1682.6 L1052.5,1680.0 L1053.8,1744.0 L1055.0,1707.9 L1056.5,1690.1 L1057.4,1705.3 L1058.8,1701.8 L1060.0,1689.6 L1061.4,1734.3 L1062.9,1708.1 L1063.6,1733.4 L1064.4,1710.1 L1065.4,1712.4 L1066.2,1743.8 L1066.9,1714.1 L1068.2,1742.5 L1069.0,1721.1 L1070.1,1744.5 L1070.8,1717.4 L1071.9,1742.9 L1072.9,1710.8 L1074.2,1740.6 L1075.0,1732.7 L1075.8,1722.5 L1076.5,1736.4 L1077.4,1733.8 L1078.4,1703.5 L1079.2,1733.3 L1080.7,1710.0 L1081.7,1710.8 L1082.6,1750.6 L1083.5,1707.2 L1084.7,1726.4 L1086.1,1726.8 L1087.5,1694.7 L1088.8,1710.2 L1090.2,1685.1 L1091.1,1692.4 L1092.4,1676.4 L1093.6,1687.3 L1094.8,1663.7 L1096.1,1681.4 L1096.9,1646.4 L1098.0,1681.1 L1098.8,1643.3 L1099.9,1672.0 L1100.9,1647.2 L1102.1,1671.7 L1103.5,1643.6 L1104.4,1674.4 L1105.4,1617.0 L1106.9,1664.2 L1107.6,1619.5 L1108.5,1652.4 L1109.8,1657.6 L1110.6,1627.4 L1111.8,1648.7 L1112.8,1621.3 L1114.1,1647.5 L1114.9,1614.0 L1116.0,1627.7 L1116.7,1599.3 L1118.0,1630.3 L1119.1,1580.5 L1120.1,1584.4 L1121.4,1596.2 L1122.2,1573.9 L1123.7,1572.5 L1124.6,1564.6 L1125.9,1606.7 L1127.5,1577.8 L1129.0,1599.5 L1129.9,1570.7 L1131.1,1600.8 L1132.4,1601.0 L1133.4,1559.4 L1134.9,1565.8 L1136.4,1554.6 L1137.4,1608.7 L1138.6,1606.6 L1139.8,1553.7 L1140.7,1616.4 L1142.2,1586.1 L1143.1,1610.2 L1144.0,1565.3 L1145.1,1612.4 L1145.8,1582.4 L1146.8,1612.0 L1147.8,1606.8 L1149.0,1577.5 L1150.0,1584.7 L1150.9,1607.3 L1151.8,1618.0 L1152.9,1558.3 L1154.0,1606.5 L1155.6,1591.2 L1156.4,1611.7 L1157.4,1591.1 L1158.2,1606.2 L1158.9,1581.7 L1160.1,1634.2 L1161.2,1613.0 L1162.6,1589.1 L1163.7,1600.5 L1164.4,1620.8 L1165.8,1588.4 L1166.6,1624.9 L1168.1,1600.0 L1169.5,1639.7 L1170.5,1601.2 L1171.5,1620.5 L1172.9,1579.2 L1173.8,1592.4 L1175.3,1620.1 L1176.8,1589.0 L1178.1,1617.2 L1179.6,1612.2 L1181.0,1585.5 L1181.8,1608.8 L1183.0,1607.2 L1184.3,1585.8 L1185.5,1601.4 L1186.7,1587.9 L1187.7,1610.7 L1188.4,1586.5 L1190.0,1553.0 L1191.4,1616.9 L1192.7,1582.6 L1194.1,1614.6 L1195.5,1588.5 L1196.1,1619.6 L1197.5,1585.2 L1198.3,1600.1 L1198.9,1584.0 L1200.2,1618.3 L1201.4,1596.3 L1202.1,1627.8 L1203.3,1630.3 L1204.2,1621.7 L1205.0,1595.7 L1206.1,1626.6 L1207.2,1609.2 L1208.1,1627.3 L1209.6,1601.5 L1210.5,1605.7 L1211.3,1625.1 L1212.8,1601.7 L1214.3,1622.5 L1215.6,1632.2 L1217.1,1588.2 L1217.9,1582.6 L1218.9,1630.1 L1220.3,1585.5 L1221.4,1591.1 L1222.1,1608.9 L1223.3,1580.7 L1224.4,1610.6 L1225.2,1574.1 L1226.4,1616.8 L1227.5,1582.9 L1229.0,1603.3 L1230.2,1577.3 L1231.0,1606.6 L1231.9,1589.3 L1233.3,1608.0 L1234.6,1584.0 L1235.3,1611.7 L1236.1,1577.0 L1237.5,1616.5 L1238.2,1576.5 L1239.8,1569.2 L1241.1,1601.0 L1242.0,1568.2 L1243.1,1567.5 L1244.1,1566.2 L1245.6,1602.9 L1247.1,1564.3 L1248.0,1584.1 L1248.7,1586.8 L1250.0,1639.4 L1250.9,1578.3 L1252.2,1584.9 L1253.0,1609.6 L1254.1,1591.8 L1255.4,1632.4 L1256.5,1576.5 L1257.7,1623.6 L1258.7,1591.6 L1259.6,1638.2 L1261.1,1596.4 L1262.0,1600.4 L1263.5,1660.4 L1264.4,1600.4 L1265.4,1635.0 L1266.8,1610.9 L1267.7,1635.1 L1268.6,1606.0 L1269.8,1589.3 L1271.0,1636.1 L1271.7,1609.8 L1273.1,1625.1 L1274.0,1606.3 L1275.2,1628.4 L1275.9,1606.1 L1276.7,1627.2 L1277.7,1625.2 L1279.1,1571.0 L1280.4,1590.0 L1281.7,1621.0 L1282.3,1562.3 L1283.6,1588.2 L1284.8,1617.8 L1286.3,1602.8 L1287.1,1619.8 L1288.4,1623.6 L1289.9,1598.5 L1290.9,1626.0 L1291.9,1634.4 L1292.8,1624.1 L1293.8,1609.4 L1295.2,1626.6 L1296.0,1633.8 L1296.8,1610.9 L1298.2,1629.1 L1299.4,1611.6 L1300.4,1626.4 L1301.8,1607.3 L1302.6,1576.0 L1303.5,1623.3 L1304.7,1594.8 L1305.4,1628.0 L1306.1,1599.6 L1307.3,1629.0 L1308.5,1628.8 L1309.3,1601.2 L1310.2,1568.7 L1310.8,1613.5 L1311.6,1610.5 L1312.9,1597.6 L1314.0,1610.6 L1315.0,1609.9 L1316.2,1586.4 L1317.7,1598.6 L1318.8,1588.8 L1319.9,1617.3 L1320.9,1606.7 L1322.4,1633.8 L1323.9,1621.1 L1325.2,1622.8 L1326.6,1651.6 L1327.4,1638.1 L1328.9,1654.6 L1329.6,1641.2 L1330.5,1658.8 L1331.3,1644.5 L1332.3,1659.1 L1333.5,1641.0 L1334.5,1658.5 L1336.1,1643.8 L1337.3,1663.2 L1338.1,1648.9 L1339.1,1664.6 L1340.6,1665.2 L1341.4,1638.0 L1342.4,1646.9 L1343.7,1657.1 L1344.5,1638.2 L1345.2,1610.0 L1346.1,1655.5 L1347.0,1638.8 L1348.2,1658.3 L1349.2,1647.4 L1350.3,1645.5 L1351.6,1665.2 L1353.1,1663.9 L1353.9,1644.3 L1355.5,1664.3 L1356.7,1648.0 L1357.9,1673.8 L1358.9,1667.8 L1360.2,1650.4 L1361.4,1702.7 L1362.6,1654.5 L1363.9,1672.9 L1365.3,1661.9 L1366.2,1675.2 L1367.1,1662.5 L1368.1,1674.3 L1369.1,1660.8 L1370.4,1678.2 L1371.5,1698.9 L1372.7,1657.1 L1373.5,1677.4 L1375.0,1676.2 L1376.2,1692.4 L1377.2,1651.9 L1378.0,1693.7 L1379.5,1646.7 L1380.9,1669.9" fill="none" stroke="#7a4a48" stroke-width="1.4" stroke-linejoin="round" stroke-linecap="round"/>
<path d="M944.0,1610.0 L944.0,1779.0" fill="none" stroke="#7a4a48" stroke-width="1.4" stroke-linejoin="round" stroke-linecap="round"/>
<path d="M961.0,1625.0 L961.0,1747.0" fill="none" stroke="#7a4a48" stroke-width="1.6" stroke-linejoin="round" stroke-linecap="round"/>
<path d="M972.0,1640.0 L972.0,1774.0" fill="none" stroke="#7a4a48" stroke-width="1.4" stroke-linejoin="round" stroke-linecap="round"/>
<path d="M1040.8,1680.0 L1041.6,1606.0 L1042.4,1680.0" fill="none" stroke="#7a4a48" stroke-width="1.3" stroke-linejoin="round" stroke-linecap="round"/>
<path d="M1031.8,1685.0 L1032.5,1640.0 L1033.2,1685.0" fill="none" stroke="#7a4a48" stroke-width="1.3" stroke-linejoin="round" stroke-linecap="round"/>
<path d="M948.2,1650.0 L949.0,1735.0 L949.8,1650.0" fill="none" stroke="#7a4a48" stroke-width="1.3" stroke-linejoin="round" stroke-linecap="round"/>
<path d="M952.2,1650.0 L953.0,1700.0 L953.8,1650.0" fill="none" stroke="#7a4a48" stroke-width="1.3" stroke-linejoin="round" stroke-linecap="round"/>
<path d="M956.2,1650.0 L957.0,1755.0 L957.8,1650.0" fill="none" stroke="#7a4a48" stroke-width="1.3" stroke-linejoin="round" stroke-linecap="round"/>
<path d="M964.2,1650.0 L965.0,1725.0 L965.8,1650.0" fill="none" stroke="#7a4a48" stroke-width="1.3" stroke-linejoin="round" stroke-linecap="round"/>
<path d="M967.2,1650.0 L968.0,1760.0 L968.8,1650.0" fill="none" stroke="#7a4a48" stroke-width="1.3" stroke-linejoin="round" stroke-linecap="round"/>
<path d="M974.2,1650.0 L975.0,1715.0 L975.8,1650.0" fill="none" stroke="#7a4a48" stroke-width="1.3" stroke-linejoin="round" stroke-linecap="round"/>
<path d="M313.3,1745.5l6.0,6.0l-6.0,6.0l-6.0,-6.0zM322.8,1743.8l6.0,6.0l-6.0,6.0l-6.0,-6.0zM329.8,1743.8l6.0,6.0l-6.0,6.0l-6.0,-6.0zM341.0,1730.4l6.0,6.0l-6.0,6.0l-6.0,-6.0zM350.9,1697.1l6.0,6.0l-6.0,6.0l-6.0,-6.0zM358.6,1716.4l6.0,6.0l-6.0,6.0l-6.0,-6.0zM381.7,1745.5l6.0,6.0l-6.0,6.0l-6.0,-6.0zM383.1,1742.7l6.0,6.0l-6.0,6.0l-6.0,-6.0zM389.8,1718.1l6.0,6.0l-6.0,6.0l-6.0,-6.0zM404.9,1743.8l6.0,6.0l-6.0,6.0l-6.0,-6.0zM420.3,1733.9l6.0,6.0l-6.0,6.0l-6.0,-6.0zM426.6,1706.9l6.0,6.0l-6.0,6.0l-6.0,-6.0zM443.1,1742.7l6.0,6.0l-6.0,6.0l-6.0,-6.0zM450.8,1746.2l6.0,6.0l-6.0,6.0l-6.0,-6.0zM481.7,1746.2l6.0,6.0l-6.0,6.0l-6.0,-6.0zM490.1,1763.0l6.0,6.0l-6.0,6.0l-6.0,-6.0zM505.2,1732.2l6.0,6.0l-6.0,6.0l-6.0,-6.0zM513.3,1751.5l6.0,6.0l-6.0,6.0l-6.0,-6.0zM531.5,1728.7l6.0,6.0l-6.0,6.0l-6.0,-6.0zM550.8,1724.5l6.0,6.0l-6.0,6.0l-6.0,-6.0zM589.4,1726.9l6.0,6.0l-6.0,6.0l-6.0,-6.0zM592.9,1740.2l6.0,6.0l-6.0,6.0l-6.0,-6.0zM600.6,1728.0l6.0,6.0l-6.0,6.0l-6.0,-6.0zM605.2,1736.7l6.0,6.0l-6.0,6.0l-6.0,-6.0zM608.7,1740.2l6.0,6.0l-6.0,6.0l-6.0,-6.0zM613.2,1744.8l6.0,6.0l-6.0,6.0l-6.0,-6.0zM617.4,1741.3l6.0,6.0l-6.0,6.0l-6.0,-6.0zM623.4,1746.6l6.0,6.0l-6.0,6.0l-6.0,-6.0zM625.5,1733.2l6.0,6.0l-6.0,6.0l-6.0,-6.0zM635.0,1736.7l6.0,6.0l-6.0,6.0l-6.0,-6.0zM645.5,1733.2l6.0,6.0l-6.0,6.0l-6.0,-6.0zM656.0,1743.8l6.0,6.0l-6.0,6.0l-6.0,-6.0zM663.0,1728.7l6.0,6.0l-6.0,6.0l-6.0,-6.0zM666.5,1735.7l6.0,6.0l-6.0,6.0l-6.0,-6.0zM670.1,1728.7l6.0,6.0l-6.0,6.0l-6.0,-6.0zM672.5,1773.6l6.0,6.0l-6.0,6.0l-6.0,-6.0zM677.1,1743.8l6.0,6.0l-6.0,6.0l-6.0,-6.0zM678.8,1762.3l6.0,6.0l-6.0,6.0l-6.0,-6.0zM687.6,1733.2l6.0,6.0l-6.0,6.0l-6.0,-6.0zM703.4,1728.0l6.0,6.0l-6.0,6.0l-6.0,-6.0zM726.2,1733.9l6.0,6.0l-6.0,6.0l-6.0,-6.0zM736.0,1718.5l6.0,6.0l-6.0,6.0l-6.0,-6.0zM748.3,1724.5l6.0,6.0l-6.0,6.0l-6.0,-6.0zM772.8,1710.4l6.0,6.0l-6.0,6.0l-6.0,-6.0zM773.5,1733.2l6.0,6.0l-6.0,6.0l-6.0,-6.0zM784.8,1713.9l6.0,6.0l-6.0,6.0l-6.0,-6.0zM793.9,1713.2l6.0,6.0l-6.0,6.0l-6.0,-6.0zM826.1,1677.1l6.0,6.0l-6.0,6.0l-6.0,-6.0zM833.2,1713.9l6.0,6.0l-6.0,6.0l-6.0,-6.0zM834.9,1701.7l6.0,6.0l-6.0,6.0l-6.0,-6.0zM848.8,1679.9l6.0,6.0l-6.0,6.0l-6.0,-6.0zM864.6,1696.7l6.0,6.0l-6.0,6.0l-6.0,-6.0zM878.6,1692.2l6.0,6.0l-6.0,6.0l-6.0,-6.0zM890.9,1681.7l6.0,6.0l-6.0,6.0l-6.0,-6.0zM897.9,1644.8l6.0,6.0l-6.0,6.0l-6.0,-6.0zM909.1,1678.9l6.0,6.0l-6.0,6.0l-6.0,-6.0zM910.9,1644.1l6.0,6.0l-6.0,6.0l-6.0,-6.0zM917.2,1661.7l6.0,6.0l-6.0,6.0l-6.0,-6.0zM924.2,1665.2l6.0,6.0l-6.0,6.0l-6.0,-6.0zM931.2,1637.8l6.0,6.0l-6.0,6.0l-6.0,-6.0zM943.5,1624.5l6.0,6.0l-6.0,6.0l-6.0,-6.0zM950.5,1634.3l6.0,6.0l-6.0,6.0l-6.0,-6.0zM959.3,1658.2l6.0,6.0l-6.0,6.0l-6.0,-6.0zM963.5,1706.9l6.0,6.0l-6.0,6.0l-6.0,-6.0zM969.8,1677.1l6.0,6.0l-6.0,6.0l-6.0,-6.0zM983.8,1685.2l6.0,6.0l-6.0,6.0l-6.0,-6.0zM997.8,1675.7l6.0,6.0l-6.0,6.0l-6.0,-6.0zM1010.8,1682.7l6.0,6.0l-6.0,6.0l-6.0,-6.0zM1053.3,1692.2l6.0,6.0l-6.0,6.0l-6.0,-6.0zM1071.5,1705.2l6.0,6.0l-6.0,6.0l-6.0,-6.0zM1080.3,1686.9l6.0,6.0l-6.0,6.0l-6.0,-6.0zM1085.5,1616.1l6.0,6.0l-6.0,6.0l-6.0,-6.0zM1089.7,1602.0l6.0,6.0l-6.0,6.0l-6.0,-6.0zM1119.9,1559.9l6.0,6.0l-6.0,6.0l-6.0,-6.0zM1129.4,1609.8l6.0,6.0l-6.0,6.0l-6.0,-6.0zM1152.2,1594.0l6.0,6.0l-6.0,6.0l-6.0,-6.0zM1182.0,1556.4l6.0,6.0l-6.0,6.0l-6.0,-6.0zM1203.0,1547.7l6.0,6.0l-6.0,6.0l-6.0,-6.0zM1212.5,1595.0l6.0,6.0l-6.0,6.0l-6.0,-6.0zM1234.6,1587.0l6.0,6.0l-6.0,6.0l-6.0,-6.0zM1252.9,1557.1l6.0,6.0l-6.0,6.0l-6.0,-6.0zM1259.2,1590.5l6.0,6.0l-6.0,6.0l-6.0,-6.0zM1260.9,1574.0l6.0,6.0l-6.0,6.0l-6.0,-6.0zM1264.4,1579.9l6.0,6.0l-6.0,6.0l-6.0,-6.0zM1267.9,1639.6l6.0,6.0l-6.0,6.0l-6.0,-6.0zM1269.7,1599.2l6.0,6.0l-6.0,6.0l-6.0,-6.0zM1278.5,1623.8l6.0,6.0l-6.0,6.0l-6.0,-6.0zM1289.0,1605.5l6.0,6.0l-6.0,6.0l-6.0,-6.0zM1290.7,1637.1l6.0,6.0l-6.0,6.0l-6.0,-6.0zM1304.8,1631.9l6.0,6.0l-6.0,6.0l-6.0,-6.0zM1313.5,1652.5l6.0,6.0l-6.0,6.0l-6.0,-6.0zM1323.4,1723.8l6.0,6.0l-6.0,6.0l-6.0,-6.0zM1327.6,1651.8l6.0,6.0l-6.0,6.0l-6.0,-6.0zM1334.6,1706.2l6.0,6.0l-6.0,6.0l-6.0,-6.0zM1341.6,1685.2l6.0,6.0l-6.0,6.0l-6.0,-6.0zM1345.1,1688.0l6.0,6.0l-6.0,6.0l-6.0,-6.0zM1354.9,1681.7l6.0,6.0l-6.0,6.0l-6.0,-6.0zM1369.7,1726.2l6.0,6.0l-6.0,6.0l-6.0,-6.0zM1371.4,1629.0l6.0,6.0l-6.0,6.0l-6.0,-6.0z" fill="#000000" fill-opacity="0.68"/>
<path d="M313.3,1751.5 L322.8,1749.8 L329.8,1749.8 L341.0,1736.4 L350.9,1703.1 L358.6,1722.4 L381.7,1751.5 L383.1,1748.7 L389.8,1724.1 L404.9,1749.8 L420.3,1739.9 L426.6,1712.9 L443.1,1748.7 L450.8,1752.2 L481.7,1752.2 L490.1,1769.0 L505.2,1738.2 L513.3,1757.5 L531.5,1734.7 L550.8,1730.5 L589.4,1732.9 L592.9,1746.2 L600.6,1734.0 L605.2,1742.7 L608.7,1746.2 L613.2,1750.8 L617.4,1747.3 L623.4,1752.6 L625.5,1739.2 L635.0,1742.7 L645.5,1739.2 L656.0,1749.8 L663.0,1734.7 L666.5,1741.7 L670.1,1734.7 L672.5,1779.6 L677.1,1749.8 L678.8,1768.3 L687.6,1739.2 L703.4,1734.0 L726.2,1739.9 L736.0,1724.5 L748.3,1730.5 L772.8,1716.4 L773.5,1739.2 L784.8,1719.9 L793.9,1719.2 L826.1,1683.1 L833.2,1719.9 L834.9,1707.7 L848.8,1685.9 L864.6,1702.7 L878.6,1698.2 L890.9,1687.7 L897.9,1650.8 L909.1,1684.9 L910.9,1650.1 L917.2,1667.7 L924.2,1671.2 L931.2,1643.8 L943.5,1630.5 L950.5,1640.3 L959.3,1664.2 L963.5,1712.9 L969.8,1683.1 L983.8,1691.2 L997.8,1681.7 L1010.8,1688.7 L1053.3,1698.2 L1071.5,1711.2 L1080.3,1692.9 L1085.5,1622.1 L1089.7,1608.0 L1119.9,1565.9 L1129.4,1615.8 L1152.2,1600.0 L1182.0,1562.4 L1203.0,1553.7 L1212.5,1601.0 L1234.6,1593.0 L1252.9,1563.1 L1259.2,1596.5 L1260.9,1580.0 L1264.4,1585.9 L1267.9,1645.6 L1269.7,1605.2 L1278.5,1629.8 L1289.0,1611.5 L1290.7,1643.1 L1304.8,1637.9 L1313.5,1658.5 L1323.4,1729.8 L1327.6,1657.8 L1334.6,1712.2 L1341.6,1691.2 L1345.1,1694.0 L1354.9,1687.7 L1369.7,1732.2 L1371.4,1635.0" fill="none" stroke="#050505" stroke-width="2.8" stroke-linejoin="round" stroke-linecap="round"/>
<path d="M790.5,1782.7l6.0,6.0l-6.0,6.0l-6.0,-6.0zM794.0,1749.4l6.0,6.0l-6.0,6.0l-6.0,-6.0zM799.3,1765.9l6.0,6.0l-6.0,6.0l-6.0,-6.0zM801.7,1803.8l6.0,6.0l-6.0,6.0l-6.0,-6.0zM816.5,1820.6l6.0,6.0l-6.0,6.0l-6.0,-6.0zM820.0,1796.1l6.0,6.0l-6.0,6.0l-6.0,-6.0zM823.5,1745.9l6.0,6.0l-6.0,6.0l-6.0,-6.0zM828.0,1768.0l6.0,6.0l-6.0,6.0l-6.0,-6.0zM830.5,1823.8l6.0,6.0l-6.0,6.0l-6.0,-6.0zM835.0,1811.5l6.0,6.0l-6.0,6.0l-6.0,-6.0zM851.9,1812.6l6.0,6.0l-6.0,6.0l-6.0,-6.0zM860.3,1755.4l6.0,6.0l-6.0,6.0l-6.0,-6.0zM869.1,1810.8l6.0,6.0l-6.0,6.0l-6.0,-6.0zM877.8,1809.0l6.0,6.0l-6.0,6.0l-6.0,-6.0zM886.6,1778.5l6.0,6.0l-6.0,6.0l-6.0,-6.0zM895.4,1735.4l6.0,6.0l-6.0,6.0l-6.0,-6.0zM904.1,1824.8l6.0,6.0l-6.0,6.0l-6.0,-6.0zM912.9,1817.1l6.0,6.0l-6.0,6.0l-6.0,-6.0zM921.0,1805.5l6.0,6.0l-6.0,6.0l-6.0,-6.0zM930.5,1801.0l6.0,6.0l-6.0,6.0l-6.0,-6.0zM939.6,1809.0l6.0,6.0l-6.0,6.0l-6.0,-6.0zM948.0,1812.6l6.0,6.0l-6.0,6.0l-6.0,-6.0zM956.8,1792.2l6.0,6.0l-6.0,6.0l-6.0,-6.0zM964.8,1759.2l6.0,6.0l-6.0,6.0l-6.0,-6.0zM974.3,1747.0l6.0,6.0l-6.0,6.0l-6.0,-6.0zM982.4,1759.2l6.0,6.0l-6.0,6.0l-6.0,-6.0zM991.8,1769.4l6.0,6.0l-6.0,6.0l-6.0,-6.0zM1000.6,1767.7l6.0,6.0l-6.0,6.0l-6.0,-6.0zM1018.1,1805.5l6.0,6.0l-6.0,6.0l-6.0,-6.0zM1026.2,1797.5l6.0,6.0l-6.0,6.0l-6.0,-6.0zM1035.7,1813.3l6.0,6.0l-6.0,6.0l-6.0,-6.0zM1043.8,1872.2l6.0,6.0l-6.0,6.0l-6.0,-6.0zM1052.5,1781.0l6.0,6.0l-6.0,6.0l-6.0,-6.0zM1056.0,1817.8l6.0,6.0l-6.0,6.0l-6.0,-6.0zM1061.3,1772.2l6.0,6.0l-6.0,6.0l-6.0,-6.0zM1064.8,1828.3l6.0,6.0l-6.0,6.0l-6.0,-6.0zM1068.3,1788.0l6.0,6.0l-6.0,6.0l-6.0,-6.0zM1071.8,1789.8l6.0,6.0l-6.0,6.0l-6.0,-6.0zM1075.3,1845.2l6.0,6.0l-6.0,6.0l-6.0,-6.0zM1079.5,1786.9l6.0,6.0l-6.0,6.0l-6.0,-6.0zM1084.1,1827.6l6.0,6.0l-6.0,6.0l-6.0,-6.0zM1087.6,1805.5l6.0,6.0l-6.0,6.0l-6.0,-6.0zM1092.2,1770.5l6.0,6.0l-6.0,6.0l-6.0,-6.0zM1096.4,1782.0l6.0,6.0l-6.0,6.0l-6.0,-6.0zM1103.4,1779.2l6.0,6.0l-6.0,6.0l-6.0,-6.0zM1107.6,1741.3l6.0,6.0l-6.0,6.0l-6.0,-6.0zM1115.7,1747.7l6.0,6.0l-6.0,6.0l-6.0,-6.0zM1119.2,1759.9l6.0,6.0l-6.0,6.0l-6.0,-6.0zM1122.7,1741.3l6.0,6.0l-6.0,6.0l-6.0,-6.0zM1127.2,1765.2l6.0,6.0l-6.0,6.0l-6.0,-6.0zM1130.7,1837.1l6.0,6.0l-6.0,6.0l-6.0,-6.0zM1138.5,1855.7l6.0,6.0l-6.0,6.0l-6.0,-6.0zM1146.2,1880.2l6.0,6.0l-6.0,6.0l-6.0,-6.0zM1152.5,1869.7l6.0,6.0l-6.0,6.0l-6.0,-6.0zM1156.0,1843.1l6.0,6.0l-6.0,6.0l-6.0,-6.0zM1161.3,1813.6l6.0,6.0l-6.0,6.0l-6.0,-6.0zM1166.5,1847.6l6.0,6.0l-6.0,6.0l-6.0,-6.0zM1171.8,1824.1l6.0,6.0l-6.0,6.0l-6.0,-6.0zM1178.8,1799.6l6.0,6.0l-6.0,6.0l-6.0,-6.0zM1185.1,1785.5l6.0,6.0l-6.0,6.0l-6.0,-6.0zM1191.1,1796.8l6.0,6.0l-6.0,6.0l-6.0,-6.0zM1195.3,1837.1l6.0,6.0l-6.0,6.0l-6.0,-6.0zM1199.8,1836.1l6.0,6.0l-6.0,6.0l-6.0,-6.0zM1204.0,1802.0l6.0,6.0l-6.0,6.0l-6.0,-6.0zM1209.3,1823.1l6.0,6.0l-6.0,6.0l-6.0,-6.0zM1215.6,1795.0l6.0,6.0l-6.0,6.0l-6.0,-6.0zM1219.8,1762.4l6.0,6.0l-6.0,6.0l-6.0,-6.0zM1224.4,1793.3l6.0,6.0l-6.0,6.0l-6.0,-6.0zM1226.1,1772.2l6.0,6.0l-6.0,6.0l-6.0,-6.0zM1233.2,1770.5l6.0,6.0l-6.0,6.0l-6.0,-6.0zM1243.0,1768.7l6.0,6.0l-6.0,6.0l-6.0,-6.0zM1243.0,1768.9l6.0,6.0l-6.0,6.0l-6.0,-6.0zM1247.3,1810.4l6.0,6.0l-6.0,6.0l-6.0,-6.0zM1251.6,1790.5l6.0,6.0l-6.0,6.0l-6.0,-6.0zM1257.6,1834.3l6.0,6.0l-6.0,6.0l-6.0,-6.0zM1261.6,1792.5l6.0,6.0l-6.0,6.0l-6.0,-6.0zM1264.0,1833.5l6.0,6.0l-6.0,6.0l-6.0,-6.0zM1268.0,1778.5l6.0,6.0l-6.0,6.0l-6.0,-6.0zM1272.0,1761.0l6.0,6.0l-6.0,6.0l-6.0,-6.0zM1278.3,1795.2l6.0,6.0l-6.0,6.0l-6.0,-6.0zM1281.5,1796.0l6.0,6.0l-6.0,6.0l-6.0,-6.0zM1284.4,1830.3l6.0,6.0l-6.0,6.0l-6.0,-6.0zM1286.6,1792.1l6.0,6.0l-6.0,6.0l-6.0,-6.0zM1291.9,1851.0l6.0,6.0l-6.0,6.0l-6.0,-6.0zM1295.1,1821.6l6.0,6.0l-6.0,6.0l-6.0,-6.0zM1297.0,1758.6l6.0,6.0l-6.0,6.0l-6.0,-6.0zM1300.7,1789.7l6.0,6.0l-6.0,6.0l-6.0,-6.0zM1304.7,1838.3l6.0,6.0l-6.0,6.0l-6.0,-6.0zM1309.4,1784.9l6.0,6.0l-6.0,6.0l-6.0,-6.0zM1312.6,1835.1l6.0,6.0l-6.0,6.0l-6.0,-6.0zM1315.0,1808.0l6.0,6.0l-6.0,6.0l-6.0,-6.0zM1319.0,1855.0l6.0,6.0l-6.0,6.0l-6.0,-6.0zM1322.2,1810.4l6.0,6.0l-6.0,6.0l-6.0,-6.0zM1325.4,1851.8l6.0,6.0l-6.0,6.0l-6.0,-6.0zM1327.8,1832.7l6.0,6.0l-6.0,6.0l-6.0,-6.0zM1330.2,1882.9l6.0,6.0l-6.0,6.0l-6.0,-6.0zM1337.3,1815.2l6.0,6.0l-6.0,6.0l-6.0,-6.0zM1341.3,1816.8l6.0,6.0l-6.0,6.0l-6.0,-6.0zM1344.5,1800.0l6.0,6.0l-6.0,6.0l-6.0,-6.0zM1344.7,1801.2l6.0,6.0l-6.0,6.0l-6.0,-6.0zM1346.6,1879.6l6.0,6.0l-6.0,6.0l-6.0,-6.0zM1349.0,1830.4l6.0,6.0l-6.0,6.0l-6.0,-6.0zM1353.3,1927.9l6.0,6.0l-6.0,6.0l-6.0,-6.0zM1357.1,1823.7l6.0,6.0l-6.0,6.0l-6.0,-6.0zM1360.0,1904.0l6.0,6.0l-6.0,6.0l-6.0,-6.0zM1362.9,1804.5l6.0,6.0l-6.0,6.0l-6.0,-6.0zM1365.8,1811.2l6.0,6.0l-6.0,6.0l-6.0,-6.0zM1368.6,1873.4l6.0,6.0l-6.0,6.0l-6.0,-6.0zM1372.4,1822.7l6.0,6.0l-6.0,6.0l-6.0,-6.0zM1377.7,1893.5l6.0,6.0l-6.0,6.0l-6.0,-6.0zM1379.1,1825.6l6.0,6.0l-6.0,6.0l-6.0,-6.0z" fill="#4a6fa8" fill-opacity="0.9"/>
<path d="M790.5,1788.7 L794.0,1755.4 L799.3,1771.9 L801.7,1809.8 L816.5,1826.6 L820.0,1802.1 L823.5,1751.9 L828.0,1774.0 L830.5,1829.8 L835.0,1817.5 L851.9,1818.6 L860.3,1761.4 L869.1,1816.8 L877.8,1815.0 L886.6,1784.5 L895.4,1741.4 L904.1,1830.8 L912.9,1823.1 L921.0,1811.5 L930.5,1807.0 L939.6,1815.0 L948.0,1818.6 L956.8,1798.2 L964.8,1765.2 L974.3,1753.0 L982.4,1765.2 L991.8,1775.4 L1000.6,1773.7 L1018.1,1811.5 L1026.2,1803.5 L1035.7,1819.3 L1043.8,1878.2 L1052.5,1787.0 L1056.0,1823.8 L1061.3,1778.2 L1064.8,1834.3 L1068.3,1794.0 L1071.8,1795.8 L1075.3,1851.2 L1079.5,1792.9 L1084.1,1833.6 L1087.6,1811.5 L1092.2,1776.5 L1096.4,1788.0 L1103.4,1785.2 L1107.6,1747.3 L1115.7,1753.7 L1119.2,1765.9 L1122.7,1747.3 L1127.2,1771.2 L1130.7,1843.1 L1138.5,1861.7 L1146.2,1886.2 L1152.5,1875.7 L1156.0,1849.1 L1161.3,1819.6 L1166.5,1853.6 L1171.8,1830.1 L1178.8,1805.6 L1185.1,1791.5 L1191.1,1802.8 L1195.3,1843.1 L1199.8,1842.1 L1204.0,1808.0 L1209.3,1829.1 L1215.6,1801.0 L1219.8,1768.4 L1224.4,1799.3 L1226.1,1778.2 L1233.2,1776.5 L1243.0,1774.7 L1243.0,1774.9 L1247.3,1816.4 L1251.6,1796.5 L1257.6,1840.3 L1261.6,1798.5 L1264.0,1839.5 L1268.0,1784.5 L1272.0,1767.0 L1278.3,1801.2 L1281.5,1802.0 L1284.4,1836.3 L1286.6,1798.1 L1291.9,1857.0 L1295.1,1827.6 L1297.0,1764.6 L1300.7,1795.7 L1304.7,1844.3 L1309.4,1790.9 L1312.6,1841.1 L1315.0,1814.0 L1319.0,1861.0 L1322.2,1816.4 L1325.4,1857.8 L1327.8,1838.7 L1330.2,1888.9 L1337.3,1821.2 L1341.3,1822.8 L1344.5,1806.0 L1344.7,1807.2 L1346.6,1885.6 L1349.0,1836.4 L1353.3,1933.9 L1357.1,1829.7 L1360.0,1910.0 L1362.9,1810.5 L1365.8,1817.2 L1368.6,1879.4 L1372.4,1828.7 L1377.7,1899.5 L1379.1,1831.6" fill="none" stroke="#1a4488" stroke-width="2.8" stroke-linejoin="round" stroke-linecap="round"/>
<path d="M307.7,1989.8 L313.3,2015.0 L316.8,2002.1 L320.3,2003.1 L322.8,2009.1 L325.3,2001.0 L328.1,2022.1 L330.9,2030.1 L333.3,2013.3 L335.8,2046.6 L338.6,2053.6 L344.9,2052.2 L350.9,2047.0 L354.4,2051.2 L358.9,2032.6 L390.5,2039.6 L394.0,2027.7 L398.2,2045.2 L402.4,2051.2 L405.9,2049.4 L410.5,2058.9 L414.0,2043.5 L419.3,2044.2 L425.6,2047.0 L429.8,2055.7 L435.0,2060.6 L438.6,2058.2 L442.1,2062.7 L446.3,2050.5 L450.1,2072.2 L454.3,2071.5 L457.8,2066.2 L462.1,2081.0 L465.6,2074.7 L470.1,2058.2 L474.3,2061.7 L478.9,2018.9 L484.2,2022.4 L487.0,2023.1 L491.2,2017.1 L495.7,2022.4 L499.9,2031.2 L503.4,2024.9 L512.2,2032.6 L516.4,2002.1 L521.0,2006.6 L529.8,2021.4 L533.3,2022.1 L542.0,1993.3 L545.5,1961.7 L550.1,1955.8 L554.3,1979.3 L558.9,2021.4 L569.4,2011.9 L578.2,2007.3 L587.6,1994.3 L597.4,2011.5 L606.9,2009.8 L616.7,2013.3 L626.2,2006.3 L635.0,2009.1 L643.8,2016.1 L654.3,2027.7 L663.7,2038.2 L673.6,2028.4 L683.0,2022.1 L692.2,2023.1 L701.6,2031.9 L711.1,2037.1 L720.9,2024.2 L729.7,2034.7 L739.5,2052.9 L749.7,2031.9 L754.2,2020.7 L759.5,2020.7 L762.3,2031.9 L764.8,2033.6 L767.2,2022.1 L770.0,2030.1 L771.8,2022.1 L777.7,2045.9 L781.2,2032.6 L787.6,2033.6 L790.4,2022.8 L792.8,2026.6 L795.3,2042.4 L801.6,2016.1 L805.1,2015.0 L806.9,2031.9 L809.3,2032.6 L812.1,2016.1 L815.6,2050.5 L826.8,1989.8 L829.7,2016.8 L831.4,1944.2 L834.2,2009.1 L836.7,2024.9 L838.4,2005.6 L841.9,2009.1 L843.7,2014.3 L847.2,2012.6 L840.0,2004.5 L843.5,2007.3 L846.3,2012.6 L847.7,2011.5 L850.5,2031.9 L853.3,2032.6 L858.2,2058.2 L860.3,2054.7 L862.8,2016.1 L866.3,2013.6 L868.8,1995.0 L870.9,2021.4 L873.3,1998.6 L875.1,2021.4 L877.9,2010.8 L880.3,2010.1 L882.1,2019.6 L884.9,2005.6 L889.1,2004.5 L891.9,2009.1 L894.4,1981.0 L897.9,1978.6 L901.4,1993.3 L906.6,2003.8 L909.1,1991.5 L911.9,2019.6 L916.5,2031.2 L920.7,2016.1 L922.4,2026.6 L925.9,2017.8 L929.4,2040.6 L933.0,2028.4 L937.5,2022.1 L941.7,2023.1 L945.2,2015.0 L949.4,2024.2 L952.2,2035.4 L957.5,1998.6 L960.3,2032.6 L964.5,2047.7 L969.1,2031.9 L972.6,2044.2 L976.1,2045.9 L991.9,1988.0 L996.1,2031.9 L999.6,1995.0 L1003.1,2024.9 L1008.4,2022.1 L1013.6,2024.2 L1017.1,2032.6 L1021.7,2014.3 L1025.2,2033.6 L1029.4,2014.3 L1032.9,2024.9 L1038.2,2021.4 L1043.4,2024.9 L1047.0,2016.1 L1050.5,2010.1 L1054.7,2009.1 L1058.2,2012.6 L1061.0,1987.0 L1063.4,2030.1 L1065.5,1984.5 L1068.0,1999.6 L1069.8,1982.8 L1073.3,2014.3 L1078.5,2020.7 L1082.0,2014.3 L1087.3,1996.8 L1090.8,2017.1 L1099.6,2003.8 L1108.3,2003.1 L1111.8,2005.6 L1117.1,1972.2 L1120.6,1984.5 L1125.9,1982.8 L1130.4,1967.0 L1134.6,1975.8 L1138.2,1908.4 L1141.7,2001.0 L1148.0,1991.5 L1150.4,1961.7 L1152.9,1975.8 L1155.7,1972.2 L1159.2,1981.0 L1163.4,1961.7 L1166.2,1977.5 L1169.7,1965.2 L1173.2,1934.4 L1176.7,1934.4 L1180.2,1896.8 L1184.5,1877.5 L1188.0,1935.4 L1189.7,2042.4 L1192.5,2024.9 L1195.0,2040.6 L1197.8,2014.3 L1200.6,2038.9 L1204.1,2010.1 L1206.5,2038.9 L1211.8,2042.4 L1214.6,2045.9 L1219.5,2067.0 L1223.0,2065.2 L1225.8,2086.2 L1229.3,2062.7 L1234.6,2051.2 L1238.1,2070.5 L1241.6,2059.9 L1246.9,2060.6 L1252.1,2052.2 L1260.9,2024.2 L1264.4,2056.4 L1269.7,2042.4 L1274.9,2038.9 L1280.2,2044.2 L1286.2,2008.0 L1289.7,2037.1 L1293.2,2014.3 L1297.7,2035.4 L1302.3,2028.4 L1305.8,2042.4 L1309.3,1982.8 L1313.5,1996.8 L1316.3,2035.4 L1319.8,2002.1 L1323.4,1960.0 L1327.6,1965.2 L1332.8,1974.0 L1338.1,2009.1 L1341.6,2002.1 L1346.9,2023.1 L1350.4,2024.9 L1352.8,1940.7 L1355.6,1947.7 L1359.1,1988.0 L1362.6,1914.4 L1366.1,1889.8 L1369.7,1940.7 L1373.2,1921.4 L1374.9,2000.3 L1378.4,1968.7" fill="none" stroke="#2f5a55" stroke-width="2.6" stroke-linejoin="round" stroke-linecap="round"/>
<path d="M534.9,2251.1l5.8,5.8l-5.8,5.8l-5.8,-5.8zM538.3,2244.7l5.8,5.8l-5.8,5.8l-5.8,-5.8zM542.1,2254.4l5.8,5.8l-5.8,5.8l-5.8,-5.8zM545.9,2255.4l5.8,5.8l-5.8,5.8l-5.8,-5.8zM549.0,2277.4l5.8,5.8l-5.8,5.8l-5.8,-5.8zM552.3,2242.7l5.8,5.8l-5.8,5.8l-5.8,-5.8zM555.6,2263.8l5.8,5.8l-5.8,5.8l-5.8,-5.8zM559.2,2291.1l5.8,5.8l-5.8,5.8l-5.8,-5.8zM562.5,2233.2l5.8,5.8l-5.8,5.8l-5.8,-5.8zM565.8,2276.6l5.8,5.8l-5.8,5.8l-5.8,-5.8zM568.9,2254.9l5.8,5.8l-5.8,5.8l-5.8,-5.8zM572.7,2284.3l5.8,5.8l-5.8,5.8l-5.8,-5.8zM576.5,2246.8l5.8,5.8l-5.8,5.8l-5.8,-5.8zM581.1,2236.3l5.8,5.8l-5.8,5.8l-5.8,-5.8zM585.5,2257.5l5.8,5.8l-5.8,5.8l-5.8,-5.8zM593.1,2240.9l5.8,5.8l-5.8,5.8l-5.8,-5.8zM599.5,2228.6l5.8,5.8l-5.8,5.8l-5.8,-5.8zM606.6,2279.1l5.8,5.8l-5.8,5.8l-5.8,-5.8zM614.8,2275.8l5.8,5.8l-5.8,5.8l-5.8,-5.8zM622.4,2253.6l5.8,5.8l-5.8,5.8l-5.8,-5.8zM630.1,2248.5l5.8,5.8l-5.8,5.8l-5.8,-5.8zM639.0,2242.7l5.8,5.8l-5.8,5.8l-5.8,-5.8zM648.0,2242.7l5.8,5.8l-5.8,5.8l-5.8,-5.8zM656.9,2232.7l5.8,5.8l-5.8,5.8l-5.8,-5.8zM666.3,2226.9l5.8,5.8l-5.8,5.8l-5.8,-5.8zM676.0,2233.2l5.8,5.8l-5.8,5.8l-5.8,-5.8zM685.7,2262.1l5.8,5.8l-5.8,5.8l-5.8,-5.8zM694.4,2217.2l5.8,5.8l-5.8,5.8l-5.8,-5.8zM704.1,2232.7l5.8,5.8l-5.8,5.8l-5.8,-5.8zM713.0,2225.6l5.8,5.8l-5.8,5.8l-5.8,-5.8zM721.4,2205.7l5.8,5.8l-5.8,5.8l-5.8,-5.8zM730.4,2191.6l5.8,5.8l-5.8,5.8l-5.8,-5.8zM739.8,2215.9l5.8,5.8l-5.8,5.8l-5.8,-5.8zM753.8,2221.8l5.8,5.8l-5.8,5.8l-5.8,-5.8zM766.1,2186.8l5.8,5.8l-5.8,5.8l-5.8,-5.8zM777.6,2243.4l5.8,5.8l-5.8,5.8l-5.8,-5.8zM794.6,2218.4l5.8,5.8l-5.8,5.8l-5.8,-5.8zM812.5,2198.0l5.8,5.8l-5.8,5.8l-5.8,-5.8zM829.6,2223.5l5.8,5.8l-5.8,5.8l-5.8,-5.8zM851.5,2177.6l5.8,5.8l-5.8,5.8l-5.8,-5.8zM875.0,2195.0l5.8,5.8l-5.8,5.8l-5.8,-5.8zM880.0,2187.7l5.8,5.8l-5.8,5.8l-5.8,-5.8zM897.5,2156.4l5.8,5.8l-5.8,5.8l-5.8,-5.8zM911.9,2156.4l5.8,5.8l-5.8,5.8l-5.8,-5.8zM928.5,2205.2l5.8,5.8l-5.8,5.8l-5.8,-5.8zM946.3,2182.9l5.8,5.8l-5.8,5.8l-5.8,-5.8zM956.5,2172.4l5.8,5.8l-5.8,5.8l-5.8,-5.8zM966.7,2158.0l5.8,5.8l-5.8,5.8l-5.8,-5.8zM977.3,2154.2l5.8,5.8l-5.8,5.8l-5.8,-5.8zM988.4,2139.9l5.8,5.8l-5.8,5.8l-5.8,-5.8zM999.6,2169.5l5.8,5.8l-5.8,5.8l-5.8,-5.8zM1010.1,2145.6l5.8,5.8l-5.8,5.8l-5.8,-5.8zM1021.3,2164.7l5.8,5.8l-5.8,5.8l-5.8,-5.8zM1032.4,2138.3l5.8,5.8l-5.8,5.8l-5.8,-5.8zM1043.6,2131.9l5.8,5.8l-5.8,5.8l-5.8,-5.8zM1053.8,2145.6l5.8,5.8l-5.8,5.8l-5.8,-5.8zM1064.3,2154.2l5.8,5.8l-5.8,5.8l-5.8,-5.8zM1075.2,2177.5l5.8,5.8l-5.8,5.8l-5.8,-5.8zM1085.7,2152.6l5.8,5.8l-5.8,5.8l-5.8,-5.8zM1096.8,2167.6l5.8,5.8l-5.8,5.8l-5.8,-5.8zM1107.4,2174.3l5.8,5.8l-5.8,5.8l-5.8,-5.8zM1117.6,2146.9l5.8,5.8l-5.8,5.8l-5.8,-5.8zM1128.1,2166.3l5.8,5.8l-5.8,5.8l-5.8,-5.8zM1138.3,2161.2l5.8,5.8l-5.8,5.8l-5.8,-5.8zM1145.6,2140.5l5.8,5.8l-5.8,5.8l-5.8,-5.8zM1154.2,2154.2l5.8,5.8l-5.8,5.8l-5.8,-5.8zM1162.2,2137.3l5.8,5.8l-5.8,5.8l-5.8,-5.8zM1168.6,2123.9l5.8,5.8l-5.8,5.8l-5.8,-5.8zM1175.0,2130.3l5.8,5.8l-5.8,5.8l-5.8,-5.8zM1181.3,2120.1l5.8,5.8l-5.8,5.8l-5.8,-5.8zM1186.8,2107.0l5.8,5.8l-5.8,5.8l-5.8,-5.8zM1192.5,2105.4l5.8,5.8l-5.8,5.8l-5.8,-5.8zM1196.3,2063.3l5.8,5.8l-5.8,5.8l-5.8,-5.8zM1202.1,2080.9l5.8,5.8l-5.8,5.8l-5.8,-5.8zM1206.8,2115.0l5.8,5.8l-5.8,5.8l-5.8,-5.8zM1212.3,2163.8l5.8,5.8l-5.8,5.8l-5.8,-5.8zM1217.4,2192.5l5.8,5.8l-5.8,5.8l-5.8,-5.8zM1222.8,2139.9l5.8,5.8l-5.8,5.8l-5.8,-5.8zM1228.2,2165.4l5.8,5.8l-5.8,5.8l-5.8,-5.8zM1233.3,2174.9l5.8,5.8l-5.8,5.8l-5.8,-5.8zM1239.7,2145.6l5.8,5.8l-5.8,5.8l-5.8,-5.8zM1245.1,2154.2l5.8,5.8l-5.8,5.8l-5.8,-5.8zM1249.9,2167.6l5.8,5.8l-5.8,5.8l-5.8,-5.8zM1255.6,2167.6l5.8,5.8l-5.8,5.8l-5.8,-5.8zM1261.1,2139.2l5.8,5.8l-5.8,5.8l-5.8,-5.8zM1266.5,2152.6l5.8,5.8l-5.8,5.8l-5.8,-5.8zM1272.2,2167.6l5.8,5.8l-5.8,5.8l-5.8,-5.8zM1277.0,2173.3l5.8,5.8l-5.8,5.8l-5.8,-5.8zM1282.4,2152.6l5.8,5.8l-5.8,5.8l-5.8,-5.8zM1287.5,2166.3l5.8,5.8l-5.8,5.8l-5.8,-5.8zM1292.9,2138.3l5.8,5.8l-5.8,5.8l-5.8,-5.8zM1298.4,2186.7l5.8,5.8l-5.8,5.8l-5.8,-5.8zM1304.1,2177.5l5.8,5.8l-5.8,5.8l-5.8,-5.8zM1309.8,2153.6l5.8,5.8l-5.8,5.8l-5.8,-5.8zM1314.6,2130.3l5.8,5.8l-5.8,5.8l-5.8,-5.8zM1320.1,2181.3l5.8,5.8l-5.8,5.8l-5.8,-5.8z" fill="#c99050" fill-opacity="0.85"/>
<path d="M534.9,2256.9 L538.3,2250.5 L542.1,2260.2 L545.9,2261.2 L549.0,2283.2 L552.3,2248.5 L555.6,2269.6 L559.2,2296.9 L562.5,2239.0 L565.8,2282.4 L568.9,2260.7 L572.7,2290.1 L576.5,2252.6 L581.1,2242.1 L585.5,2263.3 L593.1,2246.7 L599.5,2234.4 L606.6,2284.9 L614.8,2281.6 L622.4,2259.4 L630.1,2254.3 L639.0,2248.5 L648.0,2248.5 L656.9,2238.5 L666.3,2232.7 L676.0,2239.0 L685.7,2267.9 L694.4,2223.0 L704.1,2238.5 L713.0,2231.4 L721.4,2211.5 L730.4,2197.4 L739.8,2221.7 L753.8,2227.6 L766.1,2192.6 L777.6,2249.2 L794.6,2224.2 L812.5,2203.8 L829.6,2229.3 L851.5,2183.4 L875.0,2200.8 L880.0,2193.5 L897.5,2162.2 L911.9,2162.2 L928.5,2211.0 L946.3,2188.7 L956.5,2178.2 L966.7,2163.8 L977.3,2160.0 L988.4,2145.7 L999.6,2175.3 L1010.1,2151.4 L1021.3,2170.5 L1032.4,2144.1 L1043.6,2137.7 L1053.8,2151.4 L1064.3,2160.0 L1075.2,2183.3 L1085.7,2158.4 L1096.8,2173.4 L1107.4,2180.1 L1117.6,2152.7 L1128.1,2172.1 L1138.3,2167.0 L1145.6,2146.3 L1154.2,2160.0 L1162.2,2143.1 L1168.6,2129.7 L1175.0,2136.1 L1181.3,2125.9 L1186.8,2112.8 L1192.5,2111.2 L1196.3,2069.1 L1202.1,2086.7 L1206.8,2120.8 L1212.3,2169.6 L1217.4,2198.3 L1222.8,2145.7 L1228.2,2171.2 L1233.3,2180.7 L1239.7,2151.4 L1245.1,2160.0 L1249.9,2173.4 L1255.6,2173.4 L1261.1,2145.0 L1266.5,2158.4 L1272.2,2173.4 L1277.0,2179.1 L1282.4,2158.4 L1287.5,2172.1 L1292.9,2144.1 L1298.4,2192.5 L1304.1,2183.3 L1309.8,2159.4 L1314.6,2136.1 L1320.1,2187.1" fill="none" stroke="#f5a040" stroke-width="3.0" stroke-linejoin="round" stroke-linecap="round"/>
<path d="M534.9,2327.6l5.8,5.8l-5.8,5.8l-5.8,-5.8zM538.3,2308.5l5.8,5.8l-5.8,5.8l-5.8,-5.8zM542.1,2313.6l5.8,5.8l-5.8,5.8l-5.8,-5.8zM545.4,2306.4l5.8,5.8l-5.8,5.8l-5.8,-5.8zM549.0,2316.1l5.8,5.8l-5.8,5.8l-5.8,-5.8zM552.3,2309.0l5.8,5.8l-5.8,5.8l-5.8,-5.8zM555.6,2308.0l5.8,5.8l-5.8,5.8l-5.8,-5.8zM559.2,2299.6l5.8,5.8l-5.8,5.8l-5.8,-5.8zM562.5,2300.8l5.8,5.8l-5.8,5.8l-5.8,-5.8zM565.8,2305.4l5.8,5.8l-5.8,5.8l-5.8,-5.8zM568.9,2300.3l5.8,5.8l-5.8,5.8l-5.8,-5.8zM572.7,2305.4l5.8,5.8l-5.8,5.8l-5.8,-5.8zM576.5,2304.7l5.8,5.8l-5.8,5.8l-5.8,-5.8zM581.1,2309.8l5.8,5.8l-5.8,5.8l-5.8,-5.8zM585.5,2308.5l5.8,5.8l-5.8,5.8l-5.8,-5.8zM593.1,2301.3l5.8,5.8l-5.8,5.8l-5.8,-5.8zM599.5,2302.9l5.8,5.8l-5.8,5.8l-5.8,-5.8zM606.6,2308.0l5.8,5.8l-5.8,5.8l-5.8,-5.8zM614.8,2312.3l5.8,5.8l-5.8,5.8l-5.8,-5.8zM622.4,2312.3l5.8,5.8l-5.8,5.8l-5.8,-5.8zM630.1,2299.6l5.8,5.8l-5.8,5.8l-5.8,-5.8zM639.0,2305.4l5.8,5.8l-5.8,5.8l-5.8,-5.8zM648.0,2307.2l5.8,5.8l-5.8,5.8l-5.8,-5.8zM656.9,2311.5l5.8,5.8l-5.8,5.8l-5.8,-5.8zM666.3,2297.8l5.8,5.8l-5.8,5.8l-5.8,-5.8zM676.0,2310.5l5.8,5.8l-5.8,5.8l-5.8,-5.8zM685.7,2314.9l5.8,5.8l-5.8,5.8l-5.8,-5.8zM694.4,2306.4l5.8,5.8l-5.8,5.8l-5.8,-5.8zM704.1,2314.1l5.8,5.8l-5.8,5.8l-5.8,-5.8zM713.0,2325.1l5.8,5.8l-5.8,5.8l-5.8,-5.8zM721.4,2326.3l5.8,5.8l-5.8,5.8l-5.8,-5.8zM730.4,2329.4l5.8,5.8l-5.8,5.8l-5.8,-5.8zM739.8,2328.9l5.8,5.8l-5.8,5.8l-5.8,-5.8zM753.8,2314.1l5.8,5.8l-5.8,5.8l-5.8,-5.8zM766.1,2320.0l5.8,5.8l-5.8,5.8l-5.8,-5.8zM777.6,2320.0l5.8,5.8l-5.8,5.8l-5.8,-5.8zM794.6,2325.8l5.8,5.8l-5.8,5.8l-5.8,-5.8zM812.5,2328.4l5.8,5.8l-5.8,5.8l-5.8,-5.8zM829.6,2327.6l5.8,5.8l-5.8,5.8l-5.8,-5.8zM851.5,2337.1l5.8,5.8l-5.8,5.8l-5.8,-5.8zM875.0,2334.0l5.8,5.8l-5.8,5.8l-5.8,-5.8zM880.0,2334.4l5.8,5.8l-5.8,5.8l-5.8,-5.8zM897.5,2335.0l5.8,5.8l-5.8,5.8l-5.8,-5.8zM911.9,2332.8l5.8,5.8l-5.8,5.8l-5.8,-5.8zM928.5,2331.8l5.8,5.8l-5.8,5.8l-5.8,-5.8zM946.3,2336.9l5.8,5.8l-5.8,5.8l-5.8,-5.8zM956.5,2340.8l5.8,5.8l-5.8,5.8l-5.8,-5.8zM966.7,2336.0l5.8,5.8l-5.8,5.8l-5.8,-5.8zM977.3,2336.0l5.8,5.8l-5.8,5.8l-5.8,-5.8zM988.4,2332.1l5.8,5.8l-5.8,5.8l-5.8,-5.8zM999.6,2339.2l5.8,5.8l-5.8,5.8l-5.8,-5.8zM1010.1,2304.7l5.8,5.8l-5.8,5.8l-5.8,-5.8zM1021.3,2307.9l5.8,5.8l-5.8,5.8l-5.8,-5.8zM1032.4,2321.6l5.8,5.8l-5.8,5.8l-5.8,-5.8zM1043.6,2332.8l5.8,5.8l-5.8,5.8l-5.8,-5.8zM1053.8,2334.4l5.8,5.8l-5.8,5.8l-5.8,-5.8zM1064.3,2329.6l5.8,5.8l-5.8,5.8l-5.8,-5.8zM1075.2,2308.9l5.8,5.8l-5.8,5.8l-5.8,-5.8zM1085.7,2329.0l5.8,5.8l-5.8,5.8l-5.8,-5.8zM1096.8,2343.9l5.8,5.8l-5.8,5.8l-5.8,-5.8zM1107.4,2335.0l5.8,5.8l-5.8,5.8l-5.8,-5.8zM1117.6,2334.4l5.8,5.8l-5.8,5.8l-5.8,-5.8zM1128.1,2336.0l5.8,5.8l-5.8,5.8l-5.8,-5.8zM1138.3,2320.0l5.8,5.8l-5.8,5.8l-5.8,-5.8zM1145.6,2289.1l5.8,5.8l-5.8,5.8l-5.8,-5.8zM1154.2,2292.0l5.8,5.8l-5.8,5.8l-5.8,-5.8zM1162.2,2287.2l5.8,5.8l-5.8,5.8l-5.8,-5.8zM1168.6,2277.6l5.8,5.8l-5.8,5.8l-5.8,-5.8zM1175.0,2264.9l5.8,5.8l-5.8,5.8l-5.8,-5.8zM1179.7,2290.7l5.8,5.8l-5.8,5.8l-5.8,-5.8zM1186.1,2253.1l5.8,5.8l-5.8,5.8l-5.8,-5.8zM1190.9,2186.7l5.8,5.8l-5.8,5.8l-5.8,-5.8zM1196.3,2157.4l5.8,5.8l-5.8,5.8l-5.8,-5.8zM1202.1,2224.4l5.8,5.8l-5.8,5.8l-5.8,-5.8zM1206.8,2288.1l5.8,5.8l-5.8,5.8l-5.8,-5.8zM1211.2,2340.7l5.8,5.8l-5.8,5.8l-5.8,-5.8zM1216.6,2353.7l5.8,5.8l-5.8,5.8l-5.8,-5.8zM1221.9,2346.8l5.8,5.8l-5.8,5.8l-5.8,-5.8zM1228.1,2347.6l5.8,5.8l-5.8,5.8l-5.8,-5.8zM1233.4,2348.3l5.8,5.8l-5.8,5.8l-5.8,-5.8zM1238.8,2350.6l5.8,5.8l-5.8,5.8l-5.8,-5.8zM1244.1,2350.3l5.8,5.8l-5.8,5.8l-5.8,-5.8zM1249.5,2350.9l5.8,5.8l-5.8,5.8l-5.8,-5.8zM1255.6,2343.0l5.8,5.8l-5.8,5.8l-5.8,-5.8zM1261.0,2336.9l5.8,5.8l-5.8,5.8l-5.8,-5.8zM1266.3,2339.9l5.8,5.8l-5.8,5.8l-5.8,-5.8zM1270.9,2337.6l5.8,5.8l-5.8,5.8l-5.8,-5.8zM1277.0,2340.7l5.8,5.8l-5.8,5.8l-5.8,-5.8zM1283.2,2346.8l5.8,5.8l-5.8,5.8l-5.8,-5.8zM1287.8,2349.9l5.8,5.8l-5.8,5.8l-5.8,-5.8zM1293.9,2346.8l5.8,5.8l-5.8,5.8l-5.8,-5.8zM1299.2,2343.0l5.8,5.8l-5.8,5.8l-5.8,-5.8zM1304.6,2339.1l5.8,5.8l-5.8,5.8l-5.8,-5.8zM1309.2,2330.0l5.8,5.8l-5.8,5.8l-5.8,-5.8zM1314.5,2339.9l5.8,5.8l-5.8,5.8l-5.8,-5.8zM1319.9,2343.4l5.8,5.8l-5.8,5.8l-5.8,-5.8z" fill="#5e4a40" fill-opacity="0.9"/>
<path d="M534.9,2333.4 L538.3,2314.3 L542.1,2319.4 L545.4,2312.2 L549.0,2321.9 L552.3,2314.8 L555.6,2313.8 L559.2,2305.4 L562.5,2306.6 L565.8,2311.2 L568.9,2306.1 L572.7,2311.2 L576.5,2310.5 L581.1,2315.6 L585.5,2314.3 L593.1,2307.1 L599.5,2308.7 L606.6,2313.8 L614.8,2318.1 L622.4,2318.1 L630.1,2305.4 L639.0,2311.2 L648.0,2313.0 L656.9,2317.3 L666.3,2303.6 L676.0,2316.3 L685.7,2320.7 L694.4,2312.2 L704.1,2319.9 L713.0,2330.9 L721.4,2332.1 L730.4,2335.2 L739.8,2334.7 L753.8,2319.9 L766.1,2325.8 L777.6,2325.8 L794.6,2331.6 L812.5,2334.2 L829.6,2333.4 L851.5,2342.9 L875.0,2339.8 L880.0,2340.2 L897.5,2340.8 L911.9,2338.6 L928.5,2337.6 L946.3,2342.7 L956.5,2346.6 L966.7,2341.8 L977.3,2341.8 L988.4,2337.9 L999.6,2345.0 L1010.1,2310.5 L1021.3,2313.7 L1032.4,2327.4 L1043.6,2338.6 L1053.8,2340.2 L1064.3,2335.4 L1075.2,2314.7 L1085.7,2334.8 L1096.8,2349.7 L1107.4,2340.8 L1117.6,2340.2 L1128.1,2341.8 L1138.3,2325.8 L1145.6,2294.9 L1154.2,2297.8 L1162.2,2293.0 L1168.6,2283.4 L1175.0,2270.7 L1179.7,2296.5 L1186.1,2258.9 L1190.9,2192.5 L1196.3,2163.2 L1202.1,2230.2 L1206.8,2293.9 L1211.2,2346.5 L1216.6,2359.5 L1221.9,2352.6 L1228.1,2353.4 L1233.4,2354.1 L1238.8,2356.4 L1244.1,2356.1 L1249.5,2356.7 L1255.6,2348.8 L1261.0,2342.7 L1266.3,2345.7 L1270.9,2343.4 L1277.0,2346.5 L1283.2,2352.6 L1287.8,2355.7 L1293.9,2352.6 L1299.2,2348.8 L1304.6,2344.9 L1309.2,2335.8 L1314.5,2345.7 L1319.9,2349.2" fill="none" stroke="#7a3510" stroke-width="3.0" stroke-linejoin="round" stroke-linecap="round"/>
</svg>
</body></html>
